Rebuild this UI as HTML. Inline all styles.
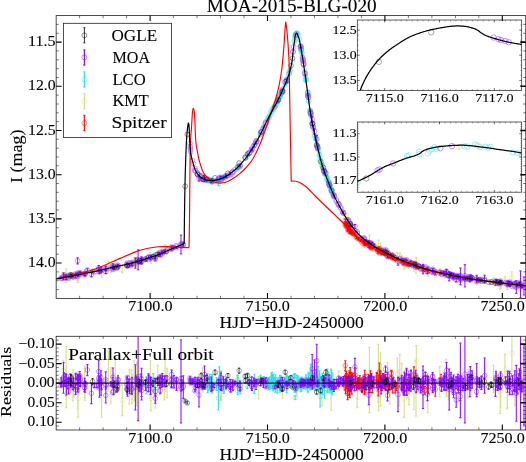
<!DOCTYPE html>
<html><head><meta charset="utf-8"><title>MOA-2015-BLG-020</title>
<style>html,body{margin:0;padding:0;background:#fff;overflow:hidden}svg{display:block;will-change:transform}text{font-family:"Liberation Serif",serif;fill:#000;stroke:#000;stroke-width:0.1px}</style></head><body>
<svg width="526" height="462" viewBox="0 0 526 462">
<rect width="526" height="462" fill="#fff"/>
<defs>
<clipPath id="cm"><rect x="56.15" y="15.6" width="469.6" height="282.8"/></clipPath>
<clipPath id="cr"><rect x="56.15" y="336.3" width="469.6" height="93.7"/></clipPath>
<clipPath id="c1"><rect x="357.3" y="20.0" width="164.4" height="70.5"/></clipPath>
<clipPath id="c2"><rect x="357.3" y="122.0" width="164.4" height="70.2"/></clipPath>
</defs>
<g clip-path="url(#cm)">
<path d="M63.3 272.5V277.1M62.1 272.5h2.4M62.1 277.1h2.4M66.1 268.8V280.1M64.9 268.8h2.4M64.9 280.1h2.4M66.2 273.4V282.6M65.0 273.4h2.4M65.0 282.6h2.4M72.9 272.7V279.7M71.7 272.7h2.4M71.7 279.7h2.4M73.4 274.1V278.9M72.2 274.1h2.4M72.2 278.9h2.4M73.5 275.1V278.5M72.3 275.1h2.4M72.3 278.5h2.4M77.7 272.2V280.5M76.5 272.2h2.4M76.5 280.5h2.4M78.1 274.0V282.4M76.9 274.0h2.4M76.9 282.4h2.4M84.6 270.1V276.7M83.4 270.1h2.4M83.4 276.7h2.4M85.0 269.6V277.2M83.8 269.6h2.4M83.8 277.2h2.4M101.6 269.7V277.7M100.4 269.7h2.4M100.4 277.7h2.4M108.4 261.1V270.2M107.2 261.1h2.4M107.2 270.2h2.4M111.0 264.3V272.3M109.8 264.3h2.4M109.8 272.3h2.4M115.2 261.1V269.0M114.0 261.1h2.4M114.0 269.0h2.4M122.2 265.7V272.7M121.0 265.7h2.4M121.0 272.7h2.4M129.3 260.6V268.5M128.1 260.6h2.4M128.1 268.5h2.4M129.7 261.0V265.7M128.5 261.0h2.4M128.5 265.7h2.4M129.9 262.6V266.5M128.7 262.6h2.4M128.7 266.5h2.4M131.8 260.1V265.6M130.6 260.1h2.4M130.6 265.6h2.4M131.9 261.2V267.7M130.7 261.2h2.4M130.7 267.7h2.4M132.0 263.1V266.7M130.8 263.1h2.4M130.8 266.7h2.4M134.1 257.3V265.3M132.9 257.3h2.4M132.9 265.3h2.4M134.4 261.2V266.5M133.2 261.2h2.4M133.2 266.5h2.4M134.6 260.7V265.4M133.4 260.7h2.4M133.4 265.4h2.4M136.5 260.7V267.0M135.3 260.7h2.4M135.3 267.0h2.4M136.8 257.0V262.0M135.6 257.0h2.4M135.6 262.0h2.4M150.4 252.3V260.8M149.2 252.3h2.4M149.2 260.8h2.4M150.9 256.5V263.4M149.7 256.5h2.4M149.7 263.4h2.4M150.9 257.4V261.2M149.7 257.4h2.4M149.7 261.2h2.4M155.3 254.8V261.3M154.1 254.8h2.4M154.1 261.3h2.4M157.7 250.8V256.4M156.5 250.8h2.4M156.5 256.4h2.4M164.3 250.6V256.0M163.1 250.6h2.4M163.1 256.0h2.4M165.1 244.9V253.8M163.9 244.9h2.4M163.9 253.8h2.4M167.1 247.6V254.3M165.9 247.6h2.4M165.9 254.3h2.4M171.5 246.0V249.8M170.3 246.0h2.4M170.3 249.8h2.4M202.7 175.1V180.6M201.5 175.1h2.4M201.5 180.6h2.4M220.7 176.7V182.8M219.5 176.7h2.4M219.5 182.8h2.4M221.4 177.8V182.4M220.2 177.8h2.4M220.2 182.4h2.4M223.8 177.2V179.7M222.6 177.2h2.4M222.6 179.7h2.4M237.3 165.8V169.2M236.1 165.8h2.4M236.1 169.2h2.4M258.7 136.1V141.1M257.5 136.1h2.4M257.5 141.1h2.4M282.5 90.5V93.7M281.3 90.5h2.4M281.3 93.7h2.4M310.5 110.6V114.8M309.3 110.6h2.4M309.3 114.8h2.4M322.0 164.8V169.4M320.8 164.8h2.4M320.8 169.4h2.4M331.1 185.8V195.2M329.9 185.8h2.4M329.9 195.2h2.4M334.0 194.6V197.2M332.8 194.6h2.4M332.8 197.2h2.4M338.7 202.0V206.3M337.5 202.0h2.4M337.5 206.3h2.4M345.6 213.7V219.8M344.4 213.7h2.4M344.4 219.8h2.4M345.9 213.5V217.0M344.7 213.5h2.4M344.7 217.0h2.4M350.6 221.4V226.4M349.4 221.4h2.4M349.4 226.4h2.4M357.1 229.3V238.2M355.9 229.3h2.4M355.9 238.2h2.4M357.5 231.1V236.7M356.3 231.1h2.4M356.3 236.7h2.4M369.4 235.1V249.8M368.2 235.1h2.4M368.2 249.8h2.4M378.2 245.8V250.5M377.0 245.8h2.4M377.0 250.5h2.4M378.4 240.1V253.2M377.2 240.1h2.4M377.2 253.2h2.4M378.6 248.9V255.3M377.4 248.9h2.4M377.4 255.3h2.4M380.5 243.2V255.3M379.3 243.2h2.4M379.3 255.3h2.4M380.7 247.7V252.5M379.5 247.7h2.4M379.5 252.5h2.4M381.1 246.2V252.2M379.9 246.2h2.4M379.9 252.2h2.4M387.7 249.2V252.4M386.5 249.2h2.4M386.5 252.4h2.4M389.9 253.9V259.6M388.7 253.9h2.4M388.7 259.6h2.4M397.3 252.7V259.9M396.1 252.7h2.4M396.1 259.9h2.4M399.2 256.4V264.4M398.0 256.4h2.4M398.0 264.4h2.4M399.8 253.0V260.6M398.6 253.0h2.4M398.6 260.6h2.4M401.8 255.9V262.4M400.6 255.9h2.4M400.6 262.4h2.4M404.2 260.9V269.1M403.0 260.9h2.4M403.0 269.1h2.4M404.6 258.8V262.8M403.4 258.8h2.4M403.4 262.8h2.4M406.9 259.4V265.8M405.7 259.4h2.4M405.7 265.8h2.4M408.9 261.2V268.1M407.7 261.2h2.4M407.7 268.1h2.4M409.0 260.6V266.9M407.8 260.6h2.4M407.8 266.9h2.4M409.3 261.7V265.1M408.1 261.7h2.4M408.1 265.1h2.4M414.0 262.8V271.1M412.8 262.8h2.4M412.8 271.1h2.4M416.0 260.7V273.2M414.8 260.7h2.4M414.8 273.2h2.4M416.3 257.4V264.0M415.1 257.4h2.4M415.1 264.0h2.4M427.8 267.8V276.3M426.6 267.8h2.4M426.6 276.3h2.4M439.7 269.0V275.8M438.5 269.0h2.4M438.5 275.8h2.4M446.3 268.8V277.0M445.1 268.8h2.4M445.1 277.0h2.4M446.4 270.7V277.3M445.2 270.7h2.4M445.2 277.3h2.4M448.5 272.6V278.4M447.3 272.6h2.4M447.3 278.4h2.4M467.9 275.2V281.6M466.7 275.2h2.4M466.7 281.6h2.4M493.5 277.9V284.2M492.3 277.9h2.4M492.3 284.2h2.4M500.2 281.1V289.7M499.0 281.1h2.4M499.0 289.7h2.4M500.6 281.0V288.3M499.4 281.0h2.4M499.4 288.3h2.4M504.9 276.8V284.0M503.7 276.8h2.4M503.7 284.0h2.4M507.3 281.2V289.5M506.1 281.2h2.4M506.1 289.5h2.4M507.4 281.6V289.2M506.2 281.6h2.4M506.2 289.2h2.4M511.9 271.9V283.0M510.7 271.9h2.4M510.7 283.0h2.4M514.9 284.9V289.5M513.7 284.9h2.4M513.7 289.5h2.4M521.6 283.4V289.0M520.4 283.4h2.4M520.4 289.0h2.4M521.6 281.6V288.5M520.4 281.6h2.4M520.4 288.5h2.4M296.5 33.6V35.8M295.3 33.6h2.4M295.3 35.8h2.4" stroke="#d4dd80" stroke-width="1.0" fill="none" opacity="0.9"/>
<g fill="none" stroke="#d4dd80" stroke-width="0.7" opacity="0.55">
<circle cx="63.3" cy="274.8" r="2.4"/><circle cx="66.1" cy="274.4" r="2.4"/><circle cx="66.2" cy="278.0" r="2.4"/><circle cx="72.9" cy="276.2" r="2.4"/><circle cx="73.4" cy="276.5" r="2.4"/><circle cx="73.5" cy="276.8" r="2.4"/><circle cx="77.7" cy="276.3" r="2.4"/><circle cx="78.1" cy="278.2" r="2.4"/><circle cx="84.6" cy="273.4" r="2.4"/><circle cx="85.0" cy="273.4" r="2.4"/><circle cx="101.6" cy="273.7" r="2.4"/><circle cx="108.4" cy="265.6" r="2.4"/><circle cx="111.0" cy="268.3" r="2.4"/><circle cx="115.2" cy="265.0" r="2.4"/><circle cx="122.2" cy="269.2" r="2.4"/><circle cx="129.3" cy="264.5" r="2.4"/><circle cx="129.7" cy="263.3" r="2.4"/><circle cx="129.9" cy="264.5" r="2.4"/><circle cx="131.8" cy="262.8" r="2.4"/><circle cx="131.9" cy="264.5" r="2.4"/><circle cx="132.0" cy="264.9" r="2.4"/><circle cx="134.1" cy="261.3" r="2.4"/><circle cx="134.4" cy="263.8" r="2.4"/><circle cx="134.6" cy="263.0" r="2.4"/><circle cx="136.5" cy="263.8" r="2.4"/><circle cx="136.8" cy="259.5" r="2.4"/><circle cx="150.4" cy="256.5" r="2.4"/><circle cx="150.9" cy="260.0" r="2.4"/><circle cx="150.9" cy="259.3" r="2.4"/><circle cx="155.3" cy="258.1" r="2.4"/><circle cx="157.7" cy="253.6" r="2.4"/><circle cx="164.3" cy="253.3" r="2.4"/><circle cx="165.1" cy="249.4" r="2.4"/><circle cx="167.1" cy="250.9" r="2.4"/><circle cx="171.5" cy="247.9" r="2.4"/><circle cx="202.7" cy="177.9" r="2.4"/><circle cx="220.7" cy="179.8" r="2.4"/><circle cx="221.4" cy="180.1" r="2.4"/><circle cx="223.8" cy="178.4" r="2.4"/><circle cx="237.3" cy="167.5" r="2.4"/><circle cx="258.7" cy="138.6" r="2.4"/><circle cx="282.5" cy="92.1" r="2.4"/><circle cx="310.5" cy="112.7" r="2.4"/><circle cx="322.0" cy="167.1" r="2.4"/><circle cx="331.1" cy="190.5" r="2.4"/><circle cx="334.0" cy="195.9" r="2.4"/><circle cx="338.7" cy="204.2" r="2.4"/><circle cx="345.6" cy="216.8" r="2.4"/><circle cx="345.9" cy="215.3" r="2.4"/><circle cx="350.6" cy="223.9" r="2.4"/><circle cx="357.1" cy="233.7" r="2.4"/><circle cx="357.5" cy="233.9" r="2.4"/><circle cx="369.4" cy="242.4" r="2.4"/><circle cx="378.2" cy="248.2" r="2.4"/><circle cx="378.4" cy="246.7" r="2.4"/><circle cx="378.6" cy="252.1" r="2.4"/><circle cx="380.5" cy="249.3" r="2.4"/><circle cx="380.7" cy="250.1" r="2.4"/><circle cx="381.1" cy="249.2" r="2.4"/><circle cx="387.7" cy="250.8" r="2.4"/><circle cx="389.9" cy="256.8" r="2.4"/><circle cx="397.3" cy="256.3" r="2.4"/><circle cx="399.2" cy="260.4" r="2.4"/><circle cx="399.8" cy="256.8" r="2.4"/><circle cx="401.8" cy="259.2" r="2.4"/><circle cx="404.2" cy="265.0" r="2.4"/><circle cx="404.6" cy="260.8" r="2.4"/><circle cx="406.9" cy="262.6" r="2.4"/><circle cx="408.9" cy="264.6" r="2.4"/><circle cx="409.0" cy="263.8" r="2.4"/><circle cx="409.3" cy="263.4" r="2.4"/><circle cx="414.0" cy="266.9" r="2.4"/><circle cx="416.0" cy="266.9" r="2.4"/><circle cx="416.3" cy="260.7" r="2.4"/><circle cx="427.8" cy="272.0" r="2.4"/><circle cx="439.7" cy="272.4" r="2.4"/><circle cx="446.3" cy="272.9" r="2.4"/><circle cx="446.4" cy="274.0" r="2.4"/><circle cx="448.5" cy="275.5" r="2.4"/><circle cx="467.9" cy="278.4" r="2.4"/><circle cx="493.5" cy="281.1" r="2.4"/><circle cx="500.2" cy="285.4" r="2.4"/><circle cx="500.6" cy="284.7" r="2.4"/><circle cx="504.9" cy="280.4" r="2.4"/><circle cx="507.3" cy="285.3" r="2.4"/><circle cx="507.4" cy="285.4" r="2.4"/><circle cx="511.9" cy="277.4" r="2.4"/><circle cx="514.9" cy="287.2" r="2.4"/><circle cx="521.6" cy="286.2" r="2.4"/><circle cx="521.6" cy="285.1" r="2.4"/><circle cx="296.5" cy="34.7" r="2.4"/>
</g></g>
<g clip-path="url(#cm)">
<path d="M146.2 257.4V261.2M145.0 257.4h2.4M145.0 261.2h2.4M150.9 255.9V258.8M149.7 255.9h2.4M149.7 258.8h2.4M153.1 255.3V258.4M151.9 255.3h2.4M151.9 258.4h2.4M153.2 254.3V258.0M152.0 254.3h2.4M152.0 258.0h2.4M207.3 179.4V181.5M206.1 179.4h2.4M206.1 181.5h2.4M207.4 178.1V180.9M206.2 178.1h2.4M206.2 180.9h2.4M207.6 179.3V182.3M206.4 179.3h2.4M206.4 182.3h2.4M209.0 179.7V182.1M207.8 179.7h2.4M207.8 182.1h2.4M209.6 179.1V181.0M208.4 179.1h2.4M208.4 181.0h2.4M209.8 179.7V181.7M208.6 179.7h2.4M208.6 181.7h2.4M209.8 178.4V181.2M208.6 178.4h2.4M208.6 181.2h2.4M211.5 179.6V182.6M210.3 179.6h2.4M210.3 182.6h2.4M211.5 179.5V182.4M210.3 179.5h2.4M210.3 182.4h2.4M211.9 178.7V181.3M210.7 178.7h2.4M210.7 181.3h2.4M212.2 180.5V182.9M211.0 180.5h2.4M211.0 182.9h2.4M212.4 178.7V182.0M211.2 178.7h2.4M211.2 182.0h2.4M216.5 178.8V181.5M215.3 178.8h2.4M215.3 181.5h2.4M216.8 179.7V181.7M215.6 179.7h2.4M215.6 181.7h2.4M218.5 180.3V185.6M217.3 180.3h2.4M217.3 185.6h2.4M218.8 178.5V181.5M217.6 178.5h2.4M217.6 181.5h2.4M219.4 175.6V178.4M218.2 175.6h2.4M218.2 178.4h2.4M221.0 176.1V178.9M219.8 176.1h2.4M219.8 178.9h2.4M221.6 177.3V178.9M220.4 177.3h2.4M220.4 178.9h2.4M221.6 177.8V179.7M220.4 177.8h2.4M220.4 179.7h2.4M223.5 176.9V179.3M222.3 176.9h2.4M222.3 179.3h2.4M223.8 177.9V179.8M222.6 177.9h2.4M222.6 179.8h2.4M226.4 174.7V177.1M225.2 174.7h2.4M225.2 177.1h2.4M237.7 168.2V169.9M236.5 168.2h2.4M236.5 169.9h2.4M237.7 165.6V167.4M236.5 165.6h2.4M236.5 167.4h2.4M237.7 165.4V168.1M236.5 165.4h2.4M236.5 168.1h2.4M237.8 166.0V168.2M236.6 166.0h2.4M236.6 168.2h2.4M240.2 164.7V167.1M239.0 164.7h2.4M239.0 167.1h2.4M247.2 155.8V157.4M246.0 155.8h2.4M246.0 157.4h2.4M247.6 153.7V155.5M246.4 153.7h2.4M246.4 155.5h2.4M254.3 143.2V147.6M253.1 143.2h2.4M253.1 147.6h2.4M260.6 132.1V133.5M259.4 132.1h2.4M259.4 133.5h2.4M263.8 125.9V127.6M262.6 125.9h2.4M262.6 127.6h2.4M267.6 118.6V120.3M266.4 118.6h2.4M266.4 120.3h2.4M268.4 117.4V119.1M267.2 117.4h2.4M267.2 119.1h2.4M268.5 117.1V118.7M267.3 117.1h2.4M267.3 118.7h2.4M268.6 116.2V118.5M267.4 116.2h2.4M267.4 118.5h2.4M268.9 116.7V118.5M267.7 116.7h2.4M267.7 118.5h2.4M268.9 116.1V118.1M267.7 116.1h2.4M267.7 118.1h2.4M270.0 114.3V116.1M268.8 114.3h2.4M268.8 116.1h2.4M270.8 112.7V114.6M269.6 112.7h2.4M269.6 114.6h2.4M271.2 111.5V113.4M270.0 111.5h2.4M270.0 113.4h2.4M271.2 110.3V112.5M270.0 110.3h2.4M270.0 112.5h2.4M272.3 108.1V110.2M271.1 108.1h2.4M271.1 110.2h2.4M272.8 108.9V110.9M271.6 108.9h2.4M271.6 110.9h2.4M273.0 109.3V111.0M271.8 109.3h2.4M271.8 111.0h2.4M273.0 109.2V110.7M271.8 109.2h2.4M271.8 110.7h2.4M273.4 106.6V108.8M272.2 106.6h2.4M272.2 108.8h2.4M274.8 105.0V106.7M273.6 105.0h2.4M273.6 106.7h2.4M275.0 104.3V106.5M273.8 104.3h2.4M273.8 106.5h2.4M275.3 105.0V107.0M274.1 105.0h2.4M274.1 107.0h2.4M275.6 102.7V104.8M274.4 102.7h2.4M274.4 104.8h2.4M275.7 104.2V105.6M274.5 104.2h2.4M274.5 105.6h2.4M275.8 102.8V105.0M274.6 102.8h2.4M274.6 105.0h2.4M277.2 101.9V103.8M276.0 101.9h2.4M276.0 103.8h2.4M277.3 100.8V102.6M276.1 100.8h2.4M276.1 102.6h2.4M277.6 100.1V101.7M276.4 100.1h2.4M276.4 101.7h2.4M278.2 98.5V100.2M277.0 98.5h2.4M277.0 100.2h2.4M279.5 96.5V98.1M278.3 96.5h2.4M278.3 98.1h2.4M279.8 96.4V98.2M278.6 96.4h2.4M278.6 98.2h2.4M280.1 93.9V95.5M278.9 93.9h2.4M278.9 95.5h2.4M280.2 94.2V96.3M279.0 94.2h2.4M279.0 96.3h2.4M280.7 93.3V95.1M279.5 93.3h2.4M279.5 95.1h2.4M280.7 92.6V94.6M279.5 92.6h2.4M279.5 94.6h2.4M282.2 90.6V92.3M281.0 90.6h2.4M281.0 92.3h2.4M282.7 89.7V91.5M281.5 89.7h2.4M281.5 91.5h2.4M284.6 84.7V86.1M283.4 84.7h2.4M283.4 86.1h2.4M285.4 82.7V84.7M284.2 82.7h2.4M284.2 84.7h2.4M286.7 79.7V81.3M285.5 79.7h2.4M285.5 81.3h2.4M286.7 80.7V82.7M285.5 80.7h2.4M285.5 82.7h2.4M286.7 78.9V80.7M285.5 78.9h2.4M285.5 80.7h2.4M287.0 78.0V79.9M285.8 78.0h2.4M285.8 79.9h2.4M289.7 70.4V72.0M288.5 70.4h2.4M288.5 72.0h2.4M290.1 69.2V71.2M288.9 69.2h2.4M288.9 71.2h2.4M300.7 46.0V47.6M299.5 46.0h2.4M299.5 47.6h2.4M301.7 51.0V52.6M300.5 51.0h2.4M300.5 52.6h2.4M301.7 52.1V53.7M300.5 52.1h2.4M300.5 53.7h2.4M305.4 75.8V77.7M304.2 75.8h2.4M304.2 77.7h2.4M305.8 78.9V80.7M304.6 78.9h2.4M304.6 80.7h2.4M305.9 78.1V80.0M304.7 78.1h2.4M304.7 80.0h2.4M305.9 79.1V81.1M304.7 79.1h2.4M304.7 81.1h2.4M305.9 79.1V80.9M304.7 79.1h2.4M304.7 80.9h2.4M307.6 91.0V92.9M306.4 91.0h2.4M306.4 92.9h2.4M307.8 93.9V95.4M306.6 93.9h2.4M306.6 95.4h2.4M307.8 93.8V95.8M306.6 93.8h2.4M306.6 95.8h2.4M308.2 94.6V96.4M307.0 94.6h2.4M307.0 96.4h2.4M308.8 99.9V101.9M307.6 99.9h2.4M307.6 101.9h2.4M310.0 109.4V111.5M308.8 109.4h2.4M308.8 111.5h2.4M310.2 109.3V111.1M309.0 109.3h2.4M309.0 111.1h2.4M310.8 110.8V114.6M309.6 110.8h2.4M309.6 114.6h2.4M310.9 112.5V114.2M309.7 112.5h2.4M309.7 114.2h2.4M310.9 114.6V116.3M309.7 114.6h2.4M309.7 116.3h2.4M310.9 114.6V116.6M309.7 114.6h2.4M309.7 116.6h2.4M312.3 122.5V124.1M311.1 122.5h2.4M311.1 124.1h2.4M314.8 134.7V137.1M313.6 134.7h2.4M313.6 137.1h2.4M315.1 135.1V136.8M313.9 135.1h2.4M313.9 136.8h2.4M315.3 137.6V139.3M314.1 137.6h2.4M314.1 139.3h2.4M315.9 137.1V140.6M314.7 137.1h2.4M314.7 140.6h2.4M316.9 143.0V145.5M315.7 143.0h2.4M315.7 145.5h2.4M317.4 145.8V147.9M316.2 145.8h2.4M316.2 147.9h2.4M317.8 147.7V149.2M316.6 147.7h2.4M316.6 149.2h2.4M318.0 145.4V150.9M316.8 145.4h2.4M316.8 150.9h2.4M318.2 149.0V150.9M317.0 149.0h2.4M317.0 150.9h2.4M319.5 152.3V156.3M318.3 152.3h2.4M318.3 156.3h2.4M319.6 153.6V155.9M318.4 153.6h2.4M318.4 155.9h2.4M319.9 155.9V158.2M318.7 155.9h2.4M318.7 158.2h2.4M320.1 158.1V162.9M318.9 158.1h2.4M318.9 162.9h2.4M320.7 158.3V161.0M319.5 158.3h2.4M319.5 161.0h2.4M322.2 163.6V166.0M321.0 163.6h2.4M321.0 166.0h2.4M322.3 164.6V166.2M321.1 164.6h2.4M321.1 166.2h2.4M322.4 163.6V166.3M321.2 163.6h2.4M321.2 166.3h2.4M322.6 164.9V167.3M321.4 164.9h2.4M321.4 167.3h2.4M322.7 167.4V169.1M321.5 167.4h2.4M321.5 169.1h2.4M324.1 170.0V172.1M322.9 170.0h2.4M322.9 172.1h2.4M324.2 169.7V171.3M323.0 169.7h2.4M323.0 171.3h2.4M324.6 172.9V175.7M323.4 172.9h2.4M323.4 175.7h2.4M326.7 176.0V178.6M325.5 176.0h2.4M325.5 178.6h2.4M327.0 175.6V178.6M325.8 175.6h2.4M325.8 178.6h2.4M327.3 178.7V180.4M326.1 178.7h2.4M326.1 180.4h2.4M327.3 176.2V178.5M326.1 176.2h2.4M326.1 178.5h2.4M327.3 176.9V179.1M326.1 176.9h2.4M326.1 179.1h2.4M327.4 178.9V181.4M326.2 178.9h2.4M326.2 181.4h2.4M327.4 177.6V180.1M326.2 177.6h2.4M326.2 180.1h2.4M327.4 177.9V180.7M326.2 177.9h2.4M326.2 180.7h2.4M327.5 177.4V179.4M326.3 177.4h2.4M326.3 179.4h2.4M327.5 179.4V182.1M326.3 179.4h2.4M326.3 182.1h2.4M329.1 182.3V184.5M327.9 182.3h2.4M327.9 184.5h2.4M329.3 182.7V185.3M328.1 182.7h2.4M328.1 185.3h2.4M329.5 184.1V186.3M328.3 184.1h2.4M328.3 186.3h2.4M329.8 184.9V187.6M328.6 184.9h2.4M328.6 187.6h2.4M329.8 186.0V188.0M328.6 186.0h2.4M328.6 188.0h2.4M331.1 188.8V190.6M329.9 188.8h2.4M329.9 190.6h2.4M331.3 186.4V188.3M330.1 186.4h2.4M330.1 188.3h2.4M331.8 188.8V191.3M330.6 188.8h2.4M330.6 191.3h2.4M331.9 190.3V193.0M330.7 190.3h2.4M330.7 193.0h2.4M332.0 188.7V191.3M330.8 188.7h2.4M330.8 191.3h2.4M332.4 192.4V194.5M331.2 192.4h2.4M331.2 194.5h2.4" stroke="#2adddd" stroke-width="1.0" fill="none" opacity="0.9"/>
<g fill="none" stroke="#2adddd" stroke-width="0.7" opacity="0.55">
<circle cx="146.2" cy="259.3" r="2.4"/><circle cx="150.9" cy="257.3" r="2.4"/><circle cx="153.1" cy="256.9" r="2.4"/><circle cx="153.2" cy="256.2" r="2.4"/><circle cx="207.3" cy="180.5" r="2.4"/><circle cx="207.4" cy="179.5" r="2.4"/><circle cx="207.6" cy="180.8" r="2.4"/><circle cx="209.0" cy="180.9" r="2.4"/><circle cx="209.6" cy="180.1" r="2.4"/><circle cx="209.8" cy="180.7" r="2.4"/><circle cx="209.8" cy="179.8" r="2.4"/><circle cx="211.5" cy="181.1" r="2.4"/><circle cx="211.5" cy="181.0" r="2.4"/><circle cx="211.9" cy="180.0" r="2.4"/><circle cx="212.2" cy="181.7" r="2.4"/><circle cx="212.4" cy="180.3" r="2.4"/><circle cx="216.5" cy="180.1" r="2.4"/><circle cx="216.8" cy="180.7" r="2.4"/><circle cx="218.5" cy="182.9" r="2.4"/><circle cx="218.8" cy="180.0" r="2.4"/><circle cx="219.4" cy="177.0" r="2.4"/><circle cx="221.0" cy="177.5" r="2.4"/><circle cx="221.6" cy="178.1" r="2.4"/><circle cx="221.6" cy="178.7" r="2.4"/><circle cx="223.5" cy="178.1" r="2.4"/><circle cx="223.8" cy="178.9" r="2.4"/><circle cx="226.4" cy="175.9" r="2.4"/><circle cx="237.7" cy="169.0" r="2.4"/><circle cx="237.7" cy="166.5" r="2.4"/><circle cx="237.7" cy="166.8" r="2.4"/><circle cx="237.8" cy="167.1" r="2.4"/><circle cx="240.2" cy="165.9" r="2.4"/><circle cx="247.2" cy="156.6" r="2.4"/><circle cx="247.6" cy="154.6" r="2.4"/><circle cx="254.3" cy="145.4" r="2.4"/><circle cx="260.6" cy="132.8" r="2.4"/><circle cx="263.8" cy="126.8" r="2.4"/><circle cx="267.6" cy="119.5" r="2.4"/><circle cx="268.4" cy="118.3" r="2.4"/><circle cx="268.5" cy="117.9" r="2.4"/><circle cx="268.6" cy="117.9" r="2.4"/><circle cx="268.6" cy="117.3" r="2.4"/><circle cx="268.9" cy="117.6" r="2.4"/><circle cx="268.9" cy="117.1" r="2.4"/><circle cx="269.0" cy="116.4" r="2.4"/><circle cx="270.0" cy="115.2" r="2.4"/><circle cx="270.8" cy="113.6" r="2.4"/><circle cx="271.2" cy="112.5" r="2.4"/><circle cx="271.2" cy="111.4" r="2.4"/><circle cx="272.3" cy="109.2" r="2.4"/><circle cx="272.8" cy="109.9" r="2.4"/><circle cx="273.0" cy="110.1" r="2.4"/><circle cx="273.0" cy="110.0" r="2.4"/><circle cx="273.4" cy="107.7" r="2.4"/><circle cx="273.5" cy="107.8" r="2.4"/><circle cx="273.6" cy="107.7" r="2.4"/><circle cx="274.8" cy="105.8" r="2.4"/><circle cx="275.0" cy="105.4" r="2.4"/><circle cx="275.3" cy="106.0" r="2.4"/><circle cx="275.6" cy="103.8" r="2.4"/><circle cx="275.6" cy="104.8" r="2.4"/><circle cx="275.7" cy="104.9" r="2.4"/><circle cx="275.8" cy="103.9" r="2.4"/><circle cx="277.2" cy="102.9" r="2.4"/><circle cx="277.3" cy="101.7" r="2.4"/><circle cx="277.5" cy="101.2" r="2.4"/><circle cx="277.6" cy="100.9" r="2.4"/><circle cx="278.2" cy="99.3" r="2.4"/><circle cx="279.5" cy="97.3" r="2.4"/><circle cx="279.8" cy="97.3" r="2.4"/><circle cx="280.1" cy="94.7" r="2.4"/><circle cx="280.2" cy="95.2" r="2.4"/><circle cx="280.4" cy="94.5" r="2.4"/><circle cx="280.7" cy="94.2" r="2.4"/><circle cx="280.7" cy="93.6" r="2.4"/><circle cx="282.2" cy="91.4" r="2.4"/><circle cx="282.7" cy="90.6" r="2.4"/><circle cx="284.6" cy="85.4" r="2.4"/><circle cx="285.4" cy="83.7" r="2.4"/><circle cx="286.7" cy="80.5" r="2.4"/><circle cx="286.7" cy="79.5" r="2.4"/><circle cx="286.7" cy="81.7" r="2.4"/><circle cx="286.7" cy="79.8" r="2.4"/><circle cx="286.8" cy="79.2" r="2.4"/><circle cx="287.0" cy="79.0" r="2.4"/><circle cx="287.1" cy="79.6" r="2.4"/><circle cx="289.1" cy="73.0" r="2.4"/><circle cx="289.7" cy="71.2" r="2.4"/><circle cx="289.9" cy="71.1" r="2.4"/><circle cx="290.1" cy="70.2" r="2.4"/><circle cx="300.7" cy="46.8" r="2.4"/><circle cx="300.9" cy="48.7" r="2.4"/><circle cx="301.0" cy="50.1" r="2.4"/><circle cx="301.0" cy="48.9" r="2.4"/><circle cx="301.1" cy="50.4" r="2.4"/><circle cx="301.5" cy="52.1" r="2.4"/><circle cx="301.7" cy="51.8" r="2.4"/><circle cx="301.7" cy="52.9" r="2.4"/><circle cx="301.9" cy="53.4" r="2.4"/><circle cx="303.5" cy="63.4" r="2.4"/><circle cx="304.1" cy="68.5" r="2.4"/><circle cx="305.4" cy="76.8" r="2.4"/><circle cx="305.5" cy="77.5" r="2.4"/><circle cx="305.8" cy="79.8" r="2.4"/><circle cx="305.9" cy="80.6" r="2.4"/><circle cx="305.9" cy="79.0" r="2.4"/><circle cx="305.9" cy="80.1" r="2.4"/><circle cx="305.9" cy="80.0" r="2.4"/><circle cx="307.6" cy="91.9" r="2.4"/><circle cx="307.8" cy="94.7" r="2.4"/><circle cx="307.8" cy="94.8" r="2.4"/><circle cx="308.2" cy="95.5" r="2.4"/><circle cx="308.7" cy="101.1" r="2.4"/><circle cx="308.8" cy="100.9" r="2.4"/><circle cx="310.0" cy="110.4" r="2.4"/><circle cx="310.2" cy="110.2" r="2.4"/><circle cx="310.8" cy="112.7" r="2.4"/><circle cx="310.9" cy="113.4" r="2.4"/><circle cx="310.9" cy="115.4" r="2.4"/><circle cx="310.9" cy="115.6" r="2.4"/><circle cx="312.3" cy="123.3" r="2.4"/><circle cx="312.8" cy="126.5" r="2.4"/><circle cx="313.4" cy="128.3" r="2.4"/><circle cx="314.8" cy="135.6" r="2.4"/><circle cx="314.8" cy="135.9" r="2.4"/><circle cx="315.1" cy="135.9" r="2.4"/><circle cx="315.3" cy="138.5" r="2.4"/><circle cx="315.8" cy="139.3" r="2.4"/><circle cx="315.9" cy="138.9" r="2.4"/><circle cx="316.9" cy="144.2" r="2.4"/><circle cx="317.4" cy="146.8" r="2.4"/><circle cx="317.8" cy="148.5" r="2.4"/><circle cx="318.0" cy="148.1" r="2.4"/><circle cx="318.2" cy="150.0" r="2.4"/><circle cx="319.5" cy="154.3" r="2.4"/><circle cx="319.6" cy="154.8" r="2.4"/><circle cx="319.9" cy="157.1" r="2.4"/><circle cx="320.1" cy="160.5" r="2.4"/><circle cx="320.7" cy="159.6" r="2.4"/><circle cx="322.2" cy="164.8" r="2.4"/><circle cx="322.3" cy="165.4" r="2.4"/><circle cx="322.4" cy="164.9" r="2.4"/><circle cx="322.6" cy="166.1" r="2.4"/><circle cx="322.7" cy="168.2" r="2.4"/><circle cx="324.1" cy="171.1" r="2.4"/><circle cx="324.2" cy="170.5" r="2.4"/><circle cx="324.6" cy="174.3" r="2.4"/><circle cx="326.7" cy="177.3" r="2.4"/><circle cx="327.0" cy="177.1" r="2.4"/><circle cx="327.3" cy="179.6" r="2.4"/><circle cx="327.3" cy="177.4" r="2.4"/><circle cx="327.3" cy="178.0" r="2.4"/><circle cx="327.4" cy="180.1" r="2.4"/><circle cx="327.4" cy="178.8" r="2.4"/><circle cx="327.4" cy="179.3" r="2.4"/><circle cx="327.5" cy="178.4" r="2.4"/><circle cx="327.5" cy="180.8" r="2.4"/><circle cx="329.1" cy="183.4" r="2.4"/><circle cx="329.3" cy="184.0" r="2.4"/><circle cx="329.5" cy="185.2" r="2.4"/><circle cx="329.8" cy="186.2" r="2.4"/><circle cx="329.8" cy="187.0" r="2.4"/><circle cx="331.1" cy="189.7" r="2.4"/><circle cx="331.3" cy="187.4" r="2.4"/><circle cx="331.8" cy="190.1" r="2.4"/><circle cx="331.9" cy="191.6" r="2.4"/><circle cx="332.0" cy="190.0" r="2.4"/><circle cx="332.4" cy="193.5" r="2.4"/><circle cx="292.2" cy="60.9" r="2.4"/><circle cx="294.3" cy="41.3" r="2.4"/><circle cx="294.4" cy="40.8" r="2.4"/><circle cx="294.8" cy="38.0" r="2.4"/><circle cx="294.8" cy="39.9" r="2.4"/><circle cx="295.2" cy="39.3" r="2.4"/><circle cx="295.2" cy="37.4" r="2.4"/><circle cx="295.4" cy="36.0" r="2.4"/><circle cx="295.5" cy="34.7" r="2.4"/><circle cx="295.5" cy="36.0" r="2.4"/><circle cx="296.7" cy="34.0" r="2.4"/><circle cx="296.9" cy="34.0" r="2.4"/><circle cx="297.2" cy="32.5" r="2.4"/><circle cx="297.3" cy="33.4" r="2.4"/><circle cx="297.4" cy="34.3" r="2.4"/><circle cx="297.6" cy="34.3" r="2.4"/><circle cx="297.7" cy="35.1" r="2.4"/><circle cx="297.9" cy="34.3" r="2.4"/><circle cx="298.8" cy="38.6" r="2.4"/><circle cx="299.0" cy="39.0" r="2.4"/><circle cx="299.2" cy="39.5" r="2.4"/>
</g></g>
<g clip-path="url(#cm)">
<path d="M61.1 276.9V278.7M59.9 276.9h2.4M59.9 278.7h2.4M64.0 275.1V276.8M62.8 275.1h2.4M62.8 276.8h2.4M65.8 275.0V277.3M64.6 275.0h2.4M64.6 277.3h2.4M66.3 275.1V279.7M65.1 275.1h2.4M65.1 279.7h2.4M70.9 274.5V276.6M69.7 274.5h2.4M69.7 276.6h2.4M71.1 275.0V276.7M69.9 275.0h2.4M69.9 276.7h2.4M73.5 274.4V276.7M72.3 274.4h2.4M72.3 276.7h2.4M75.5 275.6V277.8M74.3 275.6h2.4M74.3 277.8h2.4M75.7 273.0V274.4M74.5 273.0h2.4M74.5 274.4h2.4M77.6 273.7V275.2M76.4 273.7h2.4M76.4 275.2h2.4M77.9 272.8V276.3M76.7 272.8h2.4M76.7 276.3h2.4M78.2 273.8V275.9M77.0 273.8h2.4M77.0 275.9h2.4M79.8 271.7V273.6M78.6 271.7h2.4M78.6 273.6h2.4M80.2 272.7V274.3M79.0 272.7h2.4M79.0 274.3h2.4M80.2 273.3V274.8M79.0 273.3h2.4M79.0 274.8h2.4M80.4 272.4V274.1M79.2 272.4h2.4M79.2 274.1h2.4M84.5 273.6V275.4M83.3 273.6h2.4M83.3 275.4h2.4M84.7 272.3V274.9M83.5 272.3h2.4M83.5 274.9h2.4M85.0 273.5V275.4M83.8 273.5h2.4M83.8 275.4h2.4M87.4 268.7V271.2M86.2 268.7h2.4M86.2 271.2h2.4M99.1 269.0V271.1M97.9 269.0h2.4M97.9 271.1h2.4M99.1 269.0V271.6M97.9 269.0h2.4M97.9 271.6h2.4M99.4 269.5V273.7M98.2 269.5h2.4M98.2 273.7h2.4M101.0 267.3V272.8M99.8 267.3h2.4M99.8 272.8h2.4M101.5 270.0V271.5M100.3 270.0h2.4M100.3 271.5h2.4M105.7 268.3V270.4M104.5 268.3h2.4M104.5 270.4h2.4M105.7 266.4V270.0M104.5 266.4h2.4M104.5 270.0h2.4M105.8 270.0V273.5M104.6 270.0h2.4M104.6 273.5h2.4M112.8 266.1V268.3M111.6 266.1h2.4M111.6 268.3h2.4M113.4 268.3V269.8M112.2 268.3h2.4M112.2 269.8h2.4M117.4 266.0V267.8M116.2 266.0h2.4M116.2 267.8h2.4M117.6 266.4V267.9M116.4 266.4h2.4M116.4 267.9h2.4M118.0 264.5V266.2M116.8 264.5h2.4M116.8 266.2h2.4M126.9 263.0V264.9M125.7 263.0h2.4M125.7 264.9h2.4M127.0 264.4V266.8M125.8 264.4h2.4M125.8 266.8h2.4M127.5 263.8V267.2M126.3 263.8h2.4M126.3 267.2h2.4M129.5 264.1V266.1M128.3 264.1h2.4M128.3 266.1h2.4M131.7 263.8V265.4M130.5 263.8h2.4M130.5 265.4h2.4M131.9 263.0V265.6M130.7 263.0h2.4M130.7 265.6h2.4M132.0 261.8V263.3M130.8 261.8h2.4M130.8 263.3h2.4M136.7 260.7V262.5M135.5 260.7h2.4M135.5 262.5h2.4M139.1 260.6V263.0M137.9 260.6h2.4M137.9 263.0h2.4M140.9 260.8V262.3M139.7 260.8h2.4M139.7 262.3h2.4M141.2 258.3V260.4M140.0 258.3h2.4M140.0 260.4h2.4M141.6 258.9V261.1M140.4 258.9h2.4M140.4 261.1h2.4M141.6 260.6V263.3M140.4 260.6h2.4M140.4 263.3h2.4M145.6 258.2V260.6M144.4 258.2h2.4M144.4 260.6h2.4M148.5 255.9V258.6M147.3 255.9h2.4M147.3 258.6h2.4M150.5 256.0V259.9M149.3 256.0h2.4M149.3 259.9h2.4M150.8 256.1V257.7M149.6 256.1h2.4M149.6 257.7h2.4M155.3 256.7V258.5M154.1 256.7h2.4M154.1 258.5h2.4M155.3 258.1V260.2M154.1 258.1h2.4M154.1 260.2h2.4M158.0 253.3V255.2M156.8 253.3h2.4M156.8 255.2h2.4M159.9 252.6V254.1M158.7 252.6h2.4M158.7 254.1h2.4M160.2 254.8V256.3M159.0 254.8h2.4M159.0 256.3h2.4M162.0 251.9V254.0M160.8 251.9h2.4M160.8 254.0h2.4M162.3 250.8V252.7M161.1 250.8h2.4M161.1 252.7h2.4M162.7 252.0V253.5M161.5 252.0h2.4M161.5 253.5h2.4M164.9 250.3V252.7M163.7 250.3h2.4M163.7 252.7h2.4M171.5 247.7V250.1M170.3 247.7h2.4M170.3 250.1h2.4M171.7 245.9V248.0M170.5 245.9h2.4M170.5 248.0h2.4M173.9 246.2V249.0M172.7 246.2h2.4M172.7 249.0h2.4M176.5 246.6V248.5M175.3 246.6h2.4M175.3 248.5h2.4M183.3 243.6V245.3M182.1 243.6h2.4M182.1 245.3h2.4M183.3 242.2V247.3M182.1 242.2h2.4M182.1 247.3h2.4M204.7 177.8V180.8M203.5 177.8h2.4M203.5 180.8h2.4M211.3 179.2V182.4M210.1 179.2h2.4M210.1 182.4h2.4M220.9 176.5V178.5M219.7 176.5h2.4M219.7 178.5h2.4M223.4 176.2V178.3M222.2 176.2h2.4M222.2 178.3h2.4M226.0 175.3V177.6M224.8 175.3h2.4M224.8 177.6h2.4M226.1 175.6V177.2M224.9 175.6h2.4M224.9 177.2h2.4M230.1 172.8V174.8M228.9 172.8h2.4M228.9 174.8h2.4M240.1 164.3V166.3M238.9 164.3h2.4M238.9 166.3h2.4M251.6 149.1V150.8M250.4 149.1h2.4M250.4 150.8h2.4M251.7 149.1V150.6M250.5 149.1h2.4M250.5 150.6h2.4M251.9 149.0V150.7M250.7 149.0h2.4M250.7 150.7h2.4M254.0 144.5V146.3M252.8 144.5h2.4M252.8 146.3h2.4M256.0 141.6V143.8M254.8 141.6h2.4M254.8 143.8h2.4M263.5 127.3V129.0M262.3 127.3h2.4M262.3 129.0h2.4M277.7 100.1V101.6M276.5 100.1h2.4M276.5 101.6h2.4M300.6 46.1V47.6M299.4 46.1h2.4M299.4 47.6h2.4M313.0 125.4V126.9M311.8 125.4h2.4M311.8 126.9h2.4M333.8 195.2V196.9M332.6 195.2h2.4M332.6 196.9h2.4M342.9 211.7V213.1M341.7 211.7h2.4M341.7 213.1h2.4M343.1 211.8V213.3M341.9 211.8h2.4M341.9 213.3h2.4M347.7 219.4V221.2M346.5 219.4h2.4M346.5 221.2h2.4M350.3 224.3V226.0M349.1 224.3h2.4M349.1 226.0h2.4M350.5 223.9V225.5M349.3 223.9h2.4M349.3 225.5h2.4M352.6 225.8V227.6M351.4 225.8h2.4M351.4 227.6h2.4M354.9 224.5V228.4M353.7 224.5h2.4M353.7 228.4h2.4M362.1 237.7V239.3M360.9 237.7h2.4M360.9 239.3h2.4M368.7 241.1V244.7M367.5 241.1h2.4M367.5 244.7h2.4M368.8 243.3V247.6M367.6 243.3h2.4M367.6 247.6h2.4M368.9 242.7V244.3M367.7 242.7h2.4M367.7 244.3h2.4M369.1 241.3V244.4M367.9 241.3h2.4M367.9 244.4h2.4M369.2 241.8V244.0M368.0 241.8h2.4M368.0 244.0h2.4M371.2 242.7V244.2M370.0 242.7h2.4M370.0 244.2h2.4M371.3 242.6V245.7M370.1 242.6h2.4M370.1 245.7h2.4M371.3 242.3V245.1M370.1 242.3h2.4M370.1 245.1h2.4M371.3 242.6V244.3M370.1 242.6h2.4M370.1 244.3h2.4M371.4 243.1V244.9M370.2 243.1h2.4M370.2 244.9h2.4M373.8 244.7V247.2M372.6 244.7h2.4M372.6 247.2h2.4M381.1 249.1V252.9M379.9 249.1h2.4M379.9 252.9h2.4M382.7 250.4V252.4M381.5 250.4h2.4M381.5 252.4h2.4M382.8 249.2V250.9M381.6 249.2h2.4M381.6 250.9h2.4M385.3 251.3V253.2M384.1 251.3h2.4M384.1 253.2h2.4M385.5 248.9V250.3M384.3 248.9h2.4M384.3 250.3h2.4M385.8 251.5V254.6M384.6 251.5h2.4M384.6 254.6h2.4M387.5 255.3V257.8M386.3 255.3h2.4M386.3 257.8h2.4M387.7 251.4V253.3M386.5 251.4h2.4M386.5 253.3h2.4M392.7 255.2V256.7M391.5 255.2h2.4M391.5 256.7h2.4M401.7 258.5V260.7M400.5 258.5h2.4M400.5 260.7h2.4M401.8 260.1V261.6M400.6 260.1h2.4M400.6 261.6h2.4M403.8 260.5V262.0M402.6 260.5h2.4M402.6 262.0h2.4M404.2 260.0V261.7M403.0 260.0h2.4M403.0 261.7h2.4M404.4 259.1V261.5M403.2 259.1h2.4M403.2 261.5h2.4M406.5 259.0V260.6M405.3 259.0h2.4M405.3 260.6h2.4M406.6 262.3V264.1M405.4 262.3h2.4M405.4 264.1h2.4M406.9 263.7V265.3M405.7 263.7h2.4M405.7 265.3h2.4M409.1 263.1V264.8M407.9 263.1h2.4M407.9 264.8h2.4M409.1 263.3V264.9M407.9 263.3h2.4M407.9 264.9h2.4M410.9 261.2V265.8M409.7 261.2h2.4M409.7 265.8h2.4M411.0 261.1V263.5M409.8 261.1h2.4M409.8 263.5h2.4M413.7 263.8V266.1M412.5 263.8h2.4M412.5 266.1h2.4M415.7 262.8V265.1M414.5 262.8h2.4M414.5 265.1h2.4M416.2 266.6V268.0M415.0 266.6h2.4M415.0 268.0h2.4M416.3 264.3V266.2M415.1 264.3h2.4M415.1 266.2h2.4M423.0 265.3V273.9M421.8 265.3h2.4M421.8 273.9h2.4M423.3 266.7V268.6M422.1 266.7h2.4M422.1 268.6h2.4M427.4 270.5V273.5M426.2 270.5h2.4M426.2 273.5h2.4M427.5 268.1V269.9M426.3 268.1h2.4M426.3 269.9h2.4M427.5 268.0V270.7M426.3 268.0h2.4M426.3 270.7h2.4M432.6 268.6V270.2M431.4 268.6h2.4M431.4 270.2h2.4M432.7 271.0V273.1M431.5 271.0h2.4M431.5 273.1h2.4M435.0 270.8V273.1M433.8 270.8h2.4M433.8 273.1h2.4M441.6 272.3V273.7M440.4 272.3h2.4M440.4 273.7h2.4M443.7 272.6V274.0M442.5 272.6h2.4M442.5 274.0h2.4M443.9 272.1V273.6M442.7 272.1h2.4M442.7 273.6h2.4M444.1 272.1V274.5M442.9 272.1h2.4M442.9 274.5h2.4M444.2 272.6V275.2M443.0 272.6h2.4M443.0 275.2h2.4M444.3 273.4V275.5M443.1 273.4h2.4M443.1 275.5h2.4M444.4 271.5V273.9M443.2 271.5h2.4M443.2 273.9h2.4M446.5 269.6V273.2M445.3 269.6h2.4M445.3 273.2h2.4M450.8 273.1V275.9M449.6 273.1h2.4M449.6 275.9h2.4M451.0 272.7V276.2M449.8 272.7h2.4M449.8 276.2h2.4M451.3 273.9V275.3M450.1 273.9h2.4M450.1 275.3h2.4M451.6 274.2V275.6M450.4 274.2h2.4M450.4 275.6h2.4M453.1 274.6V277.0M451.9 274.6h2.4M451.9 277.0h2.4M453.2 275.7V277.8M452.0 275.7h2.4M452.0 277.8h2.4M453.3 276.4V278.2M452.1 276.4h2.4M452.1 278.2h2.4M453.6 276.7V279.0M452.4 276.7h2.4M452.4 279.0h2.4M453.6 273.9V275.7M452.4 273.9h2.4M452.4 275.7h2.4M453.7 274.8V277.3M452.5 274.8h2.4M452.5 277.3h2.4M455.9 275.6V277.4M454.7 275.6h2.4M454.7 277.4h2.4M456.2 274.8V276.8M455.0 274.8h2.4M455.0 276.8h2.4M456.2 278.4V281.7M455.0 278.4h2.4M455.0 281.7h2.4M457.9 276.0V278.0M456.7 276.0h2.4M456.7 278.0h2.4M457.9 274.6V276.6M456.7 274.6h2.4M456.7 276.6h2.4M458.2 275.3V278.2M457.0 275.3h2.4M457.0 278.2h2.4M458.4 275.8V278.2M457.2 275.8h2.4M457.2 278.2h2.4M458.4 276.1V278.9M457.2 276.1h2.4M457.2 278.9h2.4M460.3 279.1V281.0M459.1 279.1h2.4M459.1 281.0h2.4M462.8 277.2V279.2M461.6 277.2h2.4M461.6 279.2h2.4M463.1 276.5V278.1M461.9 276.5h2.4M461.9 278.1h2.4M467.5 277.4V278.8M466.3 277.4h2.4M466.3 278.8h2.4M467.6 276.4V278.3M466.4 276.4h2.4M466.4 278.3h2.4M467.8 277.8V279.8M466.6 277.8h2.4M466.6 279.8h2.4M469.9 277.9V279.7M468.7 277.9h2.4M468.7 279.7h2.4M469.9 277.0V281.8M468.7 277.0h2.4M468.7 281.8h2.4M470.0 277.0V278.5M468.8 277.0h2.4M468.8 278.5h2.4M470.0 277.3V279.5M468.8 277.3h2.4M468.8 279.5h2.4M470.2 278.8V280.4M469.0 278.8h2.4M469.0 280.4h2.4M470.3 275.0V277.9M469.1 275.0h2.4M469.1 277.9h2.4M472.1 276.2V280.2M470.9 276.2h2.4M470.9 280.2h2.4M472.2 277.8V279.3M471.0 277.8h2.4M471.0 279.3h2.4M476.7 278.3V280.0M475.5 278.3h2.4M475.5 280.0h2.4M476.7 275.3V282.8M475.5 275.3h2.4M475.5 282.8h2.4M477.1 279.1V280.7M475.9 279.1h2.4M475.9 280.7h2.4M477.3 278.4V280.1M476.1 278.4h2.4M476.1 280.1h2.4M479.5 279.7V281.1M478.3 279.7h2.4M478.3 281.1h2.4M481.4 279.4V281.3M480.2 279.4h2.4M480.2 281.3h2.4M495.4 281.4V285.2M494.2 281.4h2.4M494.2 285.2h2.4M496.0 279.6V283.3M494.8 279.6h2.4M494.8 283.3h2.4M496.0 280.7V282.2M494.8 280.7h2.4M494.8 282.2h2.4M496.1 280.1V281.8M494.9 280.1h2.4M494.9 281.8h2.4M497.8 281.8V283.5M496.6 281.8h2.4M496.6 283.5h2.4M498.2 282.0V283.8M497.0 282.0h2.4M497.0 283.8h2.4M500.6 280.3V281.8M499.4 280.3h2.4M499.4 281.8h2.4M500.6 281.8V284.0M499.4 281.8h2.4M499.4 284.0h2.4M500.8 281.8V283.2M499.6 281.8h2.4M499.6 283.2h2.4M507.5 283.1V284.7M506.3 283.1h2.4M506.3 284.7h2.4M507.5 283.2V285.7M506.3 283.2h2.4M506.3 285.7h2.4M507.7 281.0V284.2M506.5 281.0h2.4M506.5 284.2h2.4M509.5 282.4V285.1M508.3 282.4h2.4M508.3 285.1h2.4M509.5 281.2V283.0M508.3 281.2h2.4M508.3 283.0h2.4M509.6 281.7V286.5M508.4 281.7h2.4M508.4 286.5h2.4M512.5 282.6V284.9M511.3 282.6h2.4M511.3 284.9h2.4M514.8 281.7V284.4M513.6 281.7h2.4M513.6 284.4h2.4M516.7 284.0V286.4M515.5 284.0h2.4M515.5 286.4h2.4M517.1 283.5V285.5M515.9 283.5h2.4M515.9 285.5h2.4M519.0 283.4V285.5M517.8 283.4h2.4M517.8 285.5h2.4M519.5 281.8V283.3M518.3 281.8h2.4M518.3 283.3h2.4M521.3 285.0V286.8M520.1 285.0h2.4M520.1 286.8h2.4M521.6 284.8V286.6M520.4 284.8h2.4M520.4 286.6h2.4M521.8 284.8V287.3M520.6 284.8h2.4M520.6 287.3h2.4M521.9 285.3V287.3M520.7 285.3h2.4M520.7 287.3h2.4M63.5 272.9V279.9M62.3 272.9h2.4M62.3 279.9h2.4M91.4 272.1V276.8M90.2 272.1h2.4M90.2 276.8h2.4M98.7 265.4V270.6M97.5 265.4h2.4M97.5 270.6h2.4M113.0 263.8V268.0M111.8 263.8h2.4M111.8 268.0h2.4M138.1 249.8V269.8M136.9 249.8h2.4M136.9 269.8h2.4M135.4 258.0V268.2M134.2 258.0h2.4M134.2 268.2h2.4M141.6 256.9V264.1M140.4 256.9h2.4M140.4 264.1h2.4M181.0 235.1V253.9M179.8 235.1h2.4M179.8 253.9h2.4M199.0 175.6V181.1M197.8 175.6h2.4M197.8 181.1h2.4M204.5 175.5V179.4M203.3 175.5h2.4M203.3 179.4h2.4M312.2 116.3V122.7M311.0 116.3h2.4M311.0 122.7h2.4M316.8 135.4V142.9M315.6 135.4h2.4M315.6 142.9h2.4M314.5 128.7V134.2M313.3 128.7h2.4M313.3 134.2h2.4M398.0 257.4V265.2M396.8 257.4h2.4M396.8 265.2h2.4M460.4 268.0V284.8M459.2 268.0h2.4M459.2 284.8h2.4M464.9 264.7V286.9M463.7 264.7h2.4M463.7 286.9h2.4M484.6 275.2V283.1M483.4 275.2h2.4M483.4 283.1h2.4M449.2 271.6V280.9M448.0 271.6h2.4M448.0 280.9h2.4M423.0 264.3V270.8M421.8 264.3h2.4M421.8 270.8h2.4M520.5 270.9V298.0M519.3 270.9h2.4M519.3 298.0h2.4M516.3 280.7V293.3M515.1 280.7h2.4M515.1 293.3h2.4M524.0 276.9V295.0M522.8 276.9h2.4M522.8 295.0h2.4M77.6 257.8V264.0M76.4 257.8h2.4M76.4 264.0h2.4" stroke="#8000ff" stroke-width="1.0" fill="none" opacity="0.9"/>
<g fill="none" stroke="#8000ff" stroke-width="0.7" opacity="0.55">
<circle cx="61.1" cy="278.6" r="2.4"/><circle cx="61.1" cy="277.8" r="2.4"/><circle cx="61.7" cy="278.1" r="2.4"/><circle cx="63.8" cy="277.2" r="2.4"/><circle cx="63.9" cy="276.7" r="2.4"/><circle cx="64.0" cy="277.3" r="2.4"/><circle cx="64.0" cy="276.0" r="2.4"/><circle cx="64.1" cy="277.7" r="2.4"/><circle cx="65.8" cy="276.1" r="2.4"/><circle cx="65.9" cy="277.2" r="2.4"/><circle cx="66.3" cy="277.4" r="2.4"/><circle cx="68.0" cy="276.1" r="2.4"/><circle cx="68.1" cy="277.3" r="2.4"/><circle cx="68.1" cy="276.8" r="2.4"/><circle cx="68.6" cy="278.4" r="2.4"/><circle cx="68.6" cy="276.0" r="2.4"/><circle cx="68.7" cy="276.1" r="2.4"/><circle cx="68.8" cy="275.9" r="2.4"/><circle cx="70.4" cy="274.7" r="2.4"/><circle cx="70.8" cy="276.4" r="2.4"/><circle cx="70.9" cy="275.5" r="2.4"/><circle cx="71.1" cy="275.9" r="2.4"/><circle cx="72.9" cy="276.8" r="2.4"/><circle cx="73.4" cy="276.0" r="2.4"/><circle cx="73.5" cy="275.6" r="2.4"/><circle cx="75.5" cy="276.7" r="2.4"/><circle cx="75.5" cy="275.8" r="2.4"/><circle cx="75.7" cy="273.7" r="2.4"/><circle cx="77.5" cy="274.2" r="2.4"/><circle cx="77.5" cy="274.3" r="2.4"/><circle cx="77.6" cy="274.4" r="2.4"/><circle cx="77.7" cy="276.5" r="2.4"/><circle cx="77.9" cy="274.5" r="2.4"/><circle cx="78.0" cy="274.3" r="2.4"/><circle cx="78.0" cy="273.6" r="2.4"/><circle cx="78.1" cy="273.1" r="2.4"/><circle cx="78.2" cy="274.9" r="2.4"/><circle cx="79.8" cy="272.7" r="2.4"/><circle cx="80.1" cy="274.6" r="2.4"/><circle cx="80.2" cy="273.5" r="2.4"/><circle cx="80.2" cy="274.1" r="2.4"/><circle cx="80.4" cy="273.2" r="2.4"/><circle cx="84.5" cy="274.5" r="2.4"/><circle cx="84.7" cy="273.6" r="2.4"/><circle cx="85.0" cy="273.4" r="2.4"/><circle cx="85.0" cy="274.4" r="2.4"/><circle cx="85.2" cy="273.7" r="2.4"/><circle cx="87.4" cy="269.9" r="2.4"/><circle cx="94.3" cy="272.1" r="2.4"/><circle cx="96.9" cy="271.6" r="2.4"/><circle cx="98.6" cy="269.5" r="2.4"/><circle cx="99.1" cy="270.0" r="2.4"/><circle cx="99.1" cy="270.3" r="2.4"/><circle cx="99.2" cy="269.7" r="2.4"/><circle cx="99.4" cy="271.6" r="2.4"/><circle cx="101.0" cy="268.9" r="2.4"/><circle cx="101.0" cy="270.1" r="2.4"/><circle cx="101.0" cy="269.7" r="2.4"/><circle cx="101.1" cy="270.1" r="2.4"/><circle cx="101.5" cy="270.7" r="2.4"/><circle cx="105.7" cy="269.3" r="2.4"/><circle cx="105.7" cy="268.2" r="2.4"/><circle cx="105.8" cy="271.8" r="2.4"/><circle cx="106.2" cy="269.3" r="2.4"/><circle cx="110.9" cy="267.9" r="2.4"/><circle cx="112.7" cy="269.4" r="2.4"/><circle cx="112.8" cy="267.2" r="2.4"/><circle cx="113.1" cy="267.7" r="2.4"/><circle cx="113.1" cy="267.6" r="2.4"/><circle cx="113.4" cy="269.0" r="2.4"/><circle cx="117.4" cy="267.1" r="2.4"/><circle cx="117.4" cy="266.9" r="2.4"/><circle cx="117.5" cy="266.1" r="2.4"/><circle cx="117.6" cy="267.2" r="2.4"/><circle cx="117.7" cy="266.8" r="2.4"/><circle cx="118.0" cy="265.5" r="2.4"/><circle cx="118.0" cy="265.3" r="2.4"/><circle cx="126.9" cy="264.0" r="2.4"/><circle cx="127.0" cy="264.8" r="2.4"/><circle cx="127.0" cy="265.6" r="2.4"/><circle cx="127.1" cy="264.5" r="2.4"/><circle cx="127.3" cy="263.0" r="2.4"/><circle cx="127.5" cy="265.5" r="2.4"/><circle cx="129.1" cy="263.4" r="2.4"/><circle cx="129.4" cy="264.6" r="2.4"/><circle cx="129.5" cy="265.1" r="2.4"/><circle cx="131.7" cy="264.6" r="2.4"/><circle cx="131.9" cy="264.3" r="2.4"/><circle cx="132.0" cy="262.5" r="2.4"/><circle cx="136.6" cy="260.6" r="2.4"/><circle cx="136.7" cy="261.6" r="2.4"/><circle cx="139.0" cy="261.9" r="2.4"/><circle cx="139.1" cy="261.8" r="2.4"/><circle cx="140.9" cy="261.6" r="2.4"/><circle cx="140.9" cy="260.4" r="2.4"/><circle cx="141.2" cy="259.3" r="2.4"/><circle cx="141.6" cy="260.0" r="2.4"/><circle cx="141.6" cy="261.9" r="2.4"/><circle cx="141.6" cy="260.1" r="2.4"/><circle cx="145.6" cy="259.4" r="2.4"/><circle cx="148.3" cy="259.5" r="2.4"/><circle cx="148.3" cy="257.6" r="2.4"/><circle cx="148.5" cy="257.3" r="2.4"/><circle cx="148.6" cy="256.8" r="2.4"/><circle cx="150.5" cy="257.9" r="2.4"/><circle cx="150.8" cy="256.9" r="2.4"/><circle cx="155.1" cy="255.1" r="2.4"/><circle cx="155.3" cy="257.6" r="2.4"/><circle cx="155.3" cy="259.2" r="2.4"/><circle cx="158.0" cy="254.3" r="2.4"/><circle cx="159.9" cy="253.3" r="2.4"/><circle cx="159.9" cy="254.6" r="2.4"/><circle cx="160.1" cy="254.1" r="2.4"/><circle cx="160.2" cy="252.4" r="2.4"/><circle cx="160.2" cy="255.6" r="2.4"/><circle cx="160.3" cy="253.9" r="2.4"/><circle cx="162.0" cy="252.6" r="2.4"/><circle cx="162.0" cy="253.0" r="2.4"/><circle cx="162.3" cy="251.8" r="2.4"/><circle cx="162.4" cy="251.9" r="2.4"/><circle cx="162.7" cy="252.7" r="2.4"/><circle cx="164.9" cy="251.5" r="2.4"/><circle cx="167.0" cy="249.9" r="2.4"/><circle cx="171.5" cy="249.4" r="2.4"/><circle cx="171.5" cy="248.9" r="2.4"/><circle cx="171.6" cy="248.2" r="2.4"/><circle cx="171.7" cy="246.9" r="2.4"/><circle cx="173.9" cy="247.6" r="2.4"/><circle cx="176.3" cy="246.2" r="2.4"/><circle cx="176.5" cy="247.6" r="2.4"/><circle cx="176.5" cy="246.0" r="2.4"/><circle cx="181.2" cy="243.7" r="2.4"/><circle cx="181.2" cy="246.1" r="2.4"/><circle cx="181.3" cy="245.7" r="2.4"/><circle cx="181.4" cy="244.7" r="2.4"/><circle cx="181.5" cy="244.9" r="2.4"/><circle cx="183.3" cy="244.5" r="2.4"/><circle cx="183.3" cy="244.8" r="2.4"/><circle cx="192.5" cy="160.8" r="2.4"/><circle cx="193.3" cy="163.4" r="2.4"/><circle cx="194.9" cy="170.6" r="2.4"/><circle cx="195.0" cy="168.5" r="2.4"/><circle cx="195.2" cy="170.3" r="2.4"/><circle cx="195.3" cy="171.1" r="2.4"/><circle cx="197.3" cy="173.0" r="2.4"/><circle cx="197.4" cy="174.2" r="2.4"/><circle cx="197.8" cy="173.3" r="2.4"/><circle cx="197.8" cy="174.3" r="2.4"/><circle cx="199.7" cy="177.0" r="2.4"/><circle cx="199.7" cy="176.1" r="2.4"/><circle cx="200.1" cy="176.5" r="2.4"/><circle cx="201.9" cy="178.4" r="2.4"/><circle cx="202.2" cy="177.7" r="2.4"/><circle cx="202.2" cy="179.4" r="2.4"/><circle cx="202.3" cy="178.7" r="2.4"/><circle cx="202.6" cy="179.1" r="2.4"/><circle cx="204.7" cy="179.3" r="2.4"/><circle cx="205.0" cy="180.2" r="2.4"/><circle cx="207.3" cy="179.5" r="2.4"/><circle cx="211.3" cy="180.8" r="2.4"/><circle cx="212.0" cy="181.8" r="2.4"/><circle cx="212.0" cy="181.0" r="2.4"/><circle cx="214.0" cy="181.1" r="2.4"/><circle cx="218.5" cy="179.1" r="2.4"/><circle cx="218.6" cy="179.4" r="2.4"/><circle cx="218.8" cy="179.1" r="2.4"/><circle cx="220.8" cy="179.8" r="2.4"/><circle cx="220.9" cy="179.1" r="2.4"/><circle cx="220.9" cy="177.5" r="2.4"/><circle cx="221.3" cy="179.7" r="2.4"/><circle cx="223.4" cy="177.3" r="2.4"/><circle cx="225.5" cy="176.2" r="2.4"/><circle cx="225.8" cy="175.9" r="2.4"/><circle cx="226.0" cy="176.3" r="2.4"/><circle cx="226.0" cy="176.4" r="2.4"/><circle cx="226.1" cy="176.4" r="2.4"/><circle cx="227.8" cy="175.7" r="2.4"/><circle cx="230.1" cy="173.8" r="2.4"/><circle cx="230.2" cy="174.4" r="2.4"/><circle cx="230.6" cy="174.8" r="2.4"/><circle cx="232.5" cy="171.5" r="2.4"/><circle cx="232.6" cy="172.1" r="2.4"/><circle cx="232.8" cy="172.6" r="2.4"/><circle cx="233.0" cy="171.6" r="2.4"/><circle cx="234.9" cy="169.8" r="2.4"/><circle cx="237.7" cy="167.6" r="2.4"/><circle cx="239.9" cy="166.4" r="2.4"/><circle cx="240.1" cy="165.3" r="2.4"/><circle cx="249.1" cy="153.4" r="2.4"/><circle cx="249.1" cy="153.2" r="2.4"/><circle cx="249.4" cy="152.8" r="2.4"/><circle cx="249.5" cy="152.6" r="2.4"/><circle cx="249.6" cy="152.4" r="2.4"/><circle cx="251.6" cy="150.0" r="2.4"/><circle cx="251.7" cy="148.6" r="2.4"/><circle cx="251.7" cy="149.9" r="2.4"/><circle cx="251.9" cy="149.8" r="2.4"/><circle cx="254.0" cy="145.4" r="2.4"/><circle cx="254.3" cy="145.0" r="2.4"/><circle cx="256.0" cy="142.7" r="2.4"/><circle cx="256.0" cy="142.1" r="2.4"/><circle cx="256.1" cy="141.9" r="2.4"/><circle cx="256.3" cy="141.7" r="2.4"/><circle cx="256.4" cy="141.6" r="2.4"/><circle cx="256.6" cy="140.6" r="2.4"/><circle cx="260.6" cy="134.2" r="2.4"/><circle cx="261.2" cy="132.4" r="2.4"/><circle cx="261.3" cy="132.3" r="2.4"/><circle cx="263.0" cy="128.6" r="2.4"/><circle cx="263.5" cy="128.1" r="2.4"/><circle cx="265.3" cy="123.4" r="2.4"/><circle cx="265.7" cy="123.0" r="2.4"/><circle cx="265.9" cy="123.7" r="2.4"/><circle cx="265.9" cy="122.0" r="2.4"/><circle cx="274.8" cy="106.9" r="2.4"/><circle cx="277.5" cy="101.0" r="2.4"/><circle cx="277.7" cy="100.8" r="2.4"/><circle cx="279.8" cy="96.0" r="2.4"/><circle cx="281.7" cy="91.6" r="2.4"/><circle cx="281.9" cy="92.9" r="2.4"/><circle cx="282.4" cy="89.6" r="2.4"/><circle cx="282.5" cy="90.5" r="2.4"/><circle cx="286.5" cy="81.1" r="2.4"/><circle cx="286.7" cy="80.7" r="2.4"/><circle cx="286.9" cy="80.3" r="2.4"/><circle cx="287.0" cy="80.4" r="2.4"/><circle cx="289.0" cy="73.9" r="2.4"/><circle cx="300.5" cy="45.9" r="2.4"/><circle cx="300.6" cy="46.6" r="2.4"/><circle cx="302.5" cy="57.3" r="2.4"/><circle cx="302.6" cy="58.1" r="2.4"/><circle cx="302.7" cy="58.8" r="2.4"/><circle cx="302.8" cy="59.9" r="2.4"/><circle cx="304.8" cy="72.4" r="2.4"/><circle cx="304.9" cy="73.7" r="2.4"/><circle cx="305.1" cy="73.8" r="2.4"/><circle cx="300.6" cy="46.9" r="2.4"/><circle cx="300.7" cy="46.7" r="2.4"/><circle cx="301.3" cy="49.4" r="2.4"/><circle cx="302.9" cy="60.2" r="2.4"/><circle cx="303.0" cy="60.7" r="2.4"/><circle cx="303.1" cy="60.5" r="2.4"/><circle cx="303.1" cy="61.4" r="2.4"/><circle cx="303.5" cy="63.6" r="2.4"/><circle cx="303.6" cy="64.3" r="2.4"/><circle cx="303.6" cy="64.9" r="2.4"/><circle cx="307.8" cy="92.7" r="2.4"/><circle cx="307.9" cy="95.3" r="2.4"/><circle cx="308.1" cy="96.0" r="2.4"/><circle cx="308.3" cy="97.2" r="2.4"/><circle cx="308.3" cy="97.4" r="2.4"/><circle cx="310.3" cy="111.3" r="2.4"/><circle cx="310.4" cy="112.8" r="2.4"/><circle cx="310.5" cy="112.9" r="2.4"/><circle cx="310.6" cy="113.8" r="2.4"/><circle cx="310.7" cy="113.8" r="2.4"/><circle cx="312.3" cy="123.8" r="2.4"/><circle cx="312.3" cy="123.7" r="2.4"/><circle cx="313.0" cy="126.1" r="2.4"/><circle cx="313.0" cy="126.9" r="2.4"/><circle cx="317.2" cy="145.9" r="2.4"/><circle cx="317.3" cy="146.3" r="2.4"/><circle cx="317.4" cy="147.0" r="2.4"/><circle cx="317.6" cy="147.2" r="2.4"/><circle cx="317.7" cy="148.5" r="2.4"/><circle cx="324.0" cy="170.8" r="2.4"/><circle cx="324.1" cy="170.4" r="2.4"/><circle cx="324.1" cy="171.4" r="2.4"/><circle cx="324.2" cy="171.3" r="2.4"/><circle cx="324.3" cy="171.1" r="2.4"/><circle cx="324.4" cy="170.9" r="2.4"/><circle cx="324.6" cy="172.0" r="2.4"/><circle cx="324.6" cy="172.9" r="2.4"/><circle cx="328.9" cy="182.1" r="2.4"/><circle cx="328.9" cy="183.4" r="2.4"/><circle cx="329.3" cy="184.8" r="2.4"/><circle cx="329.4" cy="185.0" r="2.4"/><circle cx="329.4" cy="184.6" r="2.4"/><circle cx="329.4" cy="184.8" r="2.4"/><circle cx="329.5" cy="185.1" r="2.4"/><circle cx="331.6" cy="190.2" r="2.4"/><circle cx="331.6" cy="190.4" r="2.4"/><circle cx="331.6" cy="191.2" r="2.4"/><circle cx="333.8" cy="195.4" r="2.4"/><circle cx="333.8" cy="196.1" r="2.4"/><circle cx="333.9" cy="195.6" r="2.4"/><circle cx="333.9" cy="194.8" r="2.4"/><circle cx="334.0" cy="196.1" r="2.4"/><circle cx="334.1" cy="196.5" r="2.4"/><circle cx="336.1" cy="200.7" r="2.4"/><circle cx="336.4" cy="200.0" r="2.4"/><circle cx="338.1" cy="203.9" r="2.4"/><circle cx="338.2" cy="203.5" r="2.4"/><circle cx="338.3" cy="204.1" r="2.4"/><circle cx="338.8" cy="205.0" r="2.4"/><circle cx="338.8" cy="205.2" r="2.4"/><circle cx="338.8" cy="203.8" r="2.4"/><circle cx="340.6" cy="207.8" r="2.4"/><circle cx="340.9" cy="208.1" r="2.4"/><circle cx="342.9" cy="212.4" r="2.4"/><circle cx="343.0" cy="212.6" r="2.4"/><circle cx="343.1" cy="212.5" r="2.4"/><circle cx="343.4" cy="213.1" r="2.4"/><circle cx="343.4" cy="212.4" r="2.4"/><circle cx="347.7" cy="220.3" r="2.4"/><circle cx="347.8" cy="220.3" r="2.4"/><circle cx="347.8" cy="220.3" r="2.4"/><circle cx="347.9" cy="219.7" r="2.4"/><circle cx="348.1" cy="220.3" r="2.4"/><circle cx="348.1" cy="220.1" r="2.4"/><circle cx="348.2" cy="220.5" r="2.4"/><circle cx="349.8" cy="222.6" r="2.4"/><circle cx="349.8" cy="224.0" r="2.4"/><circle cx="350.1" cy="223.7" r="2.4"/><circle cx="350.2" cy="223.6" r="2.4"/><circle cx="350.3" cy="225.1" r="2.4"/><circle cx="350.4" cy="224.2" r="2.4"/><circle cx="350.5" cy="224.7" r="2.4"/><circle cx="352.6" cy="226.7" r="2.4"/><circle cx="354.6" cy="230.9" r="2.4"/><circle cx="354.9" cy="226.5" r="2.4"/><circle cx="357.1" cy="233.2" r="2.4"/><circle cx="357.3" cy="232.0" r="2.4"/><circle cx="361.9" cy="238.5" r="2.4"/><circle cx="362.1" cy="238.5" r="2.4"/><circle cx="364.0" cy="239.2" r="2.4"/><circle cx="364.0" cy="238.8" r="2.4"/><circle cx="364.0" cy="238.1" r="2.4"/><circle cx="364.1" cy="238.2" r="2.4"/><circle cx="364.2" cy="239.8" r="2.4"/><circle cx="368.6" cy="242.4" r="2.4"/><circle cx="368.7" cy="242.9" r="2.4"/><circle cx="368.8" cy="245.5" r="2.4"/><circle cx="368.9" cy="243.5" r="2.4"/><circle cx="369.1" cy="242.9" r="2.4"/><circle cx="369.2" cy="243.1" r="2.4"/><circle cx="369.2" cy="243.5" r="2.4"/><circle cx="369.2" cy="242.9" r="2.4"/><circle cx="371.0" cy="243.0" r="2.4"/><circle cx="371.1" cy="244.3" r="2.4"/><circle cx="371.2" cy="243.4" r="2.4"/><circle cx="371.3" cy="244.1" r="2.4"/><circle cx="371.3" cy="243.7" r="2.4"/><circle cx="371.3" cy="243.5" r="2.4"/><circle cx="371.4" cy="244.0" r="2.4"/><circle cx="371.5" cy="245.1" r="2.4"/><circle cx="371.7" cy="244.7" r="2.4"/><circle cx="373.4" cy="245.5" r="2.4"/><circle cx="373.8" cy="246.0" r="2.4"/><circle cx="378.2" cy="249.7" r="2.4"/><circle cx="378.4" cy="249.3" r="2.4"/><circle cx="380.6" cy="250.5" r="2.4"/><circle cx="381.1" cy="251.0" r="2.4"/><circle cx="382.7" cy="251.4" r="2.4"/><circle cx="382.8" cy="250.1" r="2.4"/><circle cx="385.3" cy="252.1" r="2.4"/><circle cx="385.3" cy="252.3" r="2.4"/><circle cx="385.5" cy="249.6" r="2.4"/><circle cx="385.6" cy="253.9" r="2.4"/><circle cx="385.8" cy="253.9" r="2.4"/><circle cx="385.8" cy="252.8" r="2.4"/><circle cx="385.8" cy="253.1" r="2.4"/><circle cx="387.5" cy="256.6" r="2.4"/><circle cx="387.7" cy="252.3" r="2.4"/><circle cx="387.7" cy="253.8" r="2.4"/><circle cx="387.7" cy="253.7" r="2.4"/><circle cx="388.0" cy="253.2" r="2.4"/><circle cx="388.1" cy="253.8" r="2.4"/><circle cx="392.5" cy="256.9" r="2.4"/><circle cx="392.5" cy="256.8" r="2.4"/><circle cx="392.7" cy="255.9" r="2.4"/><circle cx="392.7" cy="256.5" r="2.4"/><circle cx="392.9" cy="255.4" r="2.4"/><circle cx="399.7" cy="258.6" r="2.4"/><circle cx="401.7" cy="259.6" r="2.4"/><circle cx="401.8" cy="260.9" r="2.4"/><circle cx="401.9" cy="261.4" r="2.4"/><circle cx="403.8" cy="261.3" r="2.4"/><circle cx="404.0" cy="262.0" r="2.4"/><circle cx="404.2" cy="260.8" r="2.4"/><circle cx="404.4" cy="260.3" r="2.4"/><circle cx="404.4" cy="260.9" r="2.4"/><circle cx="404.6" cy="263.7" r="2.4"/><circle cx="406.5" cy="259.8" r="2.4"/><circle cx="406.6" cy="263.2" r="2.4"/><circle cx="406.9" cy="264.5" r="2.4"/><circle cx="408.8" cy="261.6" r="2.4"/><circle cx="409.0" cy="263.1" r="2.4"/><circle cx="409.1" cy="263.9" r="2.4"/><circle cx="409.1" cy="264.1" r="2.4"/><circle cx="409.3" cy="264.1" r="2.4"/><circle cx="410.9" cy="263.5" r="2.4"/><circle cx="411.0" cy="262.3" r="2.4"/><circle cx="411.2" cy="263.3" r="2.4"/><circle cx="413.7" cy="264.9" r="2.4"/><circle cx="415.7" cy="263.9" r="2.4"/><circle cx="416.2" cy="267.3" r="2.4"/><circle cx="416.2" cy="265.2" r="2.4"/><circle cx="416.3" cy="264.5" r="2.4"/><circle cx="416.3" cy="265.2" r="2.4"/><circle cx="416.3" cy="266.1" r="2.4"/><circle cx="418.0" cy="265.8" r="2.4"/><circle cx="418.2" cy="265.9" r="2.4"/><circle cx="420.6" cy="268.0" r="2.4"/><circle cx="420.7" cy="267.1" r="2.4"/><circle cx="420.7" cy="269.0" r="2.4"/><circle cx="420.9" cy="268.0" r="2.4"/><circle cx="420.9" cy="268.7" r="2.4"/><circle cx="423.0" cy="269.6" r="2.4"/><circle cx="423.3" cy="268.2" r="2.4"/><circle cx="423.3" cy="267.6" r="2.4"/><circle cx="425.2" cy="268.7" r="2.4"/><circle cx="425.3" cy="266.9" r="2.4"/><circle cx="425.5" cy="267.7" r="2.4"/><circle cx="427.4" cy="272.0" r="2.4"/><circle cx="427.5" cy="269.0" r="2.4"/><circle cx="427.5" cy="269.3" r="2.4"/><circle cx="427.9" cy="268.6" r="2.4"/><circle cx="428.0" cy="268.9" r="2.4"/><circle cx="432.0" cy="270.4" r="2.4"/><circle cx="432.4" cy="270.8" r="2.4"/><circle cx="432.6" cy="269.4" r="2.4"/><circle cx="432.7" cy="272.0" r="2.4"/><circle cx="432.7" cy="269.6" r="2.4"/><circle cx="432.8" cy="272.4" r="2.4"/><circle cx="434.5" cy="271.0" r="2.4"/><circle cx="434.7" cy="271.3" r="2.4"/><circle cx="435.0" cy="271.9" r="2.4"/><circle cx="439.8" cy="272.1" r="2.4"/><circle cx="439.8" cy="272.8" r="2.4"/><circle cx="441.5" cy="274.3" r="2.4"/><circle cx="441.6" cy="273.0" r="2.4"/><circle cx="441.7" cy="273.5" r="2.4"/><circle cx="443.7" cy="273.3" r="2.4"/><circle cx="443.8" cy="273.4" r="2.4"/><circle cx="443.9" cy="272.9" r="2.4"/><circle cx="443.9" cy="273.6" r="2.4"/><circle cx="444.1" cy="273.3" r="2.4"/><circle cx="444.2" cy="273.9" r="2.4"/><circle cx="444.3" cy="274.5" r="2.4"/><circle cx="444.4" cy="272.7" r="2.4"/><circle cx="446.2" cy="275.2" r="2.4"/><circle cx="446.2" cy="272.5" r="2.4"/><circle cx="446.5" cy="271.4" r="2.4"/><circle cx="446.6" cy="274.1" r="2.4"/><circle cx="446.7" cy="273.9" r="2.4"/><circle cx="448.6" cy="275.1" r="2.4"/><circle cx="448.6" cy="274.6" r="2.4"/><circle cx="448.8" cy="275.4" r="2.4"/><circle cx="449.0" cy="275.1" r="2.4"/><circle cx="450.8" cy="274.5" r="2.4"/><circle cx="451.0" cy="274.5" r="2.4"/><circle cx="451.1" cy="274.5" r="2.4"/><circle cx="451.2" cy="276.0" r="2.4"/><circle cx="451.2" cy="275.9" r="2.4"/><circle cx="451.2" cy="275.9" r="2.4"/><circle cx="451.3" cy="274.7" r="2.4"/><circle cx="451.3" cy="274.6" r="2.4"/><circle cx="451.6" cy="274.9" r="2.4"/><circle cx="453.1" cy="275.8" r="2.4"/><circle cx="453.2" cy="276.7" r="2.4"/><circle cx="453.3" cy="277.3" r="2.4"/><circle cx="453.5" cy="275.3" r="2.4"/><circle cx="453.6" cy="277.9" r="2.4"/><circle cx="453.6" cy="274.8" r="2.4"/><circle cx="453.7" cy="276.1" r="2.4"/><circle cx="453.8" cy="275.6" r="2.4"/><circle cx="455.9" cy="276.5" r="2.4"/><circle cx="456.2" cy="275.8" r="2.4"/><circle cx="456.2" cy="280.1" r="2.4"/><circle cx="457.9" cy="277.0" r="2.4"/><circle cx="457.9" cy="275.6" r="2.4"/><circle cx="458.2" cy="276.8" r="2.4"/><circle cx="458.3" cy="276.8" r="2.4"/><circle cx="458.3" cy="276.1" r="2.4"/><circle cx="458.4" cy="277.0" r="2.4"/><circle cx="458.4" cy="277.5" r="2.4"/><circle cx="460.3" cy="280.1" r="2.4"/><circle cx="460.4" cy="275.7" r="2.4"/><circle cx="460.7" cy="277.1" r="2.4"/><circle cx="460.7" cy="278.3" r="2.4"/><circle cx="460.9" cy="276.2" r="2.4"/><circle cx="462.8" cy="278.2" r="2.4"/><circle cx="463.1" cy="278.0" r="2.4"/><circle cx="463.1" cy="277.3" r="2.4"/><circle cx="465.4" cy="278.8" r="2.4"/><circle cx="467.5" cy="278.1" r="2.4"/><circle cx="467.6" cy="277.3" r="2.4"/><circle cx="467.8" cy="278.8" r="2.4"/><circle cx="468.0" cy="277.5" r="2.4"/><circle cx="469.9" cy="278.8" r="2.4"/><circle cx="469.9" cy="279.4" r="2.4"/><circle cx="469.9" cy="277.0" r="2.4"/><circle cx="470.0" cy="277.7" r="2.4"/><circle cx="470.0" cy="278.4" r="2.4"/><circle cx="470.1" cy="278.7" r="2.4"/><circle cx="470.2" cy="279.6" r="2.4"/><circle cx="470.3" cy="276.5" r="2.4"/><circle cx="472.1" cy="278.2" r="2.4"/><circle cx="472.2" cy="278.6" r="2.4"/><circle cx="476.6" cy="281.7" r="2.4"/><circle cx="476.7" cy="279.2" r="2.4"/><circle cx="476.7" cy="279.0" r="2.4"/><circle cx="477.1" cy="279.9" r="2.4"/><circle cx="477.3" cy="279.3" r="2.4"/><circle cx="479.5" cy="280.4" r="2.4"/><circle cx="481.4" cy="280.3" r="2.4"/><circle cx="481.4" cy="281.3" r="2.4"/><circle cx="481.4" cy="279.4" r="2.4"/><circle cx="481.6" cy="280.9" r="2.4"/><circle cx="495.4" cy="283.3" r="2.4"/><circle cx="496.0" cy="281.5" r="2.4"/><circle cx="496.0" cy="281.4" r="2.4"/><circle cx="496.1" cy="280.9" r="2.4"/><circle cx="497.7" cy="283.6" r="2.4"/><circle cx="497.8" cy="282.7" r="2.4"/><circle cx="497.9" cy="282.9" r="2.4"/><circle cx="498.2" cy="282.9" r="2.4"/><circle cx="498.4" cy="283.3" r="2.4"/><circle cx="500.4" cy="283.7" r="2.4"/><circle cx="500.6" cy="281.0" r="2.4"/><circle cx="500.6" cy="282.9" r="2.4"/><circle cx="500.8" cy="282.5" r="2.4"/><circle cx="505.2" cy="283.4" r="2.4"/><circle cx="505.6" cy="282.6" r="2.4"/><circle cx="507.4" cy="283.5" r="2.4"/><circle cx="507.5" cy="283.9" r="2.4"/><circle cx="507.5" cy="284.5" r="2.4"/><circle cx="507.6" cy="284.3" r="2.4"/><circle cx="507.7" cy="283.7" r="2.4"/><circle cx="507.7" cy="282.6" r="2.4"/><circle cx="509.5" cy="283.7" r="2.4"/><circle cx="509.5" cy="282.1" r="2.4"/><circle cx="509.6" cy="284.1" r="2.4"/><circle cx="510.0" cy="284.7" r="2.4"/><circle cx="510.0" cy="284.3" r="2.4"/><circle cx="512.3" cy="286.4" r="2.4"/><circle cx="512.5" cy="283.8" r="2.4"/><circle cx="514.2" cy="285.4" r="2.4"/><circle cx="514.4" cy="285.5" r="2.4"/><circle cx="514.5" cy="284.2" r="2.4"/><circle cx="514.8" cy="283.1" r="2.4"/><circle cx="514.8" cy="285.9" r="2.4"/><circle cx="516.7" cy="285.2" r="2.4"/><circle cx="517.1" cy="284.5" r="2.4"/><circle cx="517.2" cy="286.6" r="2.4"/><circle cx="518.9" cy="283.4" r="2.4"/><circle cx="519.0" cy="285.8" r="2.4"/><circle cx="519.0" cy="284.4" r="2.4"/><circle cx="519.5" cy="282.6" r="2.4"/><circle cx="521.3" cy="285.9" r="2.4"/><circle cx="521.6" cy="285.7" r="2.4"/><circle cx="521.6" cy="286.4" r="2.4"/><circle cx="521.8" cy="286.1" r="2.4"/><circle cx="521.9" cy="286.3" r="2.4"/><circle cx="63.5" cy="276.4" r="2.4"/><circle cx="91.4" cy="274.4" r="2.4"/><circle cx="98.7" cy="268.0" r="2.4"/><circle cx="113.0" cy="265.9" r="2.4"/><circle cx="138.1" cy="259.8" r="2.4"/><circle cx="135.4" cy="263.1" r="2.4"/><circle cx="141.6" cy="260.5" r="2.4"/><circle cx="181.0" cy="244.5" r="2.4"/><circle cx="199.0" cy="178.4" r="2.4"/><circle cx="204.5" cy="177.4" r="2.4"/><circle cx="312.2" cy="119.5" r="2.4"/><circle cx="316.8" cy="139.1" r="2.4"/><circle cx="314.5" cy="131.4" r="2.4"/><circle cx="398.0" cy="261.3" r="2.4"/><circle cx="460.4" cy="276.4" r="2.4"/><circle cx="464.9" cy="275.8" r="2.4"/><circle cx="484.6" cy="279.1" r="2.4"/><circle cx="449.2" cy="276.3" r="2.4"/><circle cx="423.0" cy="267.6" r="2.4"/><circle cx="520.5" cy="284.5" r="2.4"/><circle cx="516.3" cy="287.0" r="2.4"/><circle cx="524.0" cy="286.0" r="2.4"/><circle cx="77.6" cy="260.9" r="2.4"/><circle cx="293.0" cy="52.1" r="2.4"/><circle cx="293.1" cy="51.5" r="2.4"/><circle cx="293.7" cy="46.9" r="2.4"/><circle cx="295.7" cy="35.4" r="2.4"/><circle cx="296.2" cy="33.8" r="2.4"/><circle cx="190.0" cy="143.5" r="2.4"/><circle cx="190.2" cy="146.5" r="2.4"/><circle cx="190.3" cy="148.1" r="2.4"/><circle cx="190.5" cy="149.7" r="2.4"/><circle cx="190.6" cy="151.8" r="2.4"/>
</g></g>
<g clip-path="url(#cm)">
<path d="M345.1 223.8V225.7M343.9 223.8h2.4M343.9 225.7h2.4M345.2 222.6V224.1M344.0 222.6h2.4M344.0 224.1h2.4M345.3 219.4V221.6M344.1 219.4h2.4M344.1 221.6h2.4M345.6 225.1V227.2M344.4 225.1h2.4M344.4 227.2h2.4M345.9 223.6V225.3M344.7 223.6h2.4M344.7 225.3h2.4M346.0 223.2V225.7M344.8 223.2h2.4M344.8 225.7h2.4M346.1 224.3V225.8M344.9 224.3h2.4M344.9 225.8h2.4M346.2 223.4V224.9M345.0 223.4h2.4M345.0 224.9h2.4M346.4 223.3V225.3M345.2 223.3h2.4M345.2 225.3h2.4M346.4 223.8V225.9M345.2 223.8h2.4M345.2 225.9h2.4M347.1 225.9V227.4M345.9 225.9h2.4M345.9 227.4h2.4M347.4 226.0V228.6M346.2 226.0h2.4M346.2 228.6h2.4M347.6 228.4V231.2M346.4 228.4h2.4M346.4 231.2h2.4M348.0 229.3V230.8M346.8 229.3h2.4M346.8 230.8h2.4M348.4 228.3V230.2M347.2 228.3h2.4M347.2 230.2h2.4M348.5 226.6V228.9M347.3 226.6h2.4M347.3 228.9h2.4M348.6 228.2V229.9M347.4 228.2h2.4M347.4 229.9h2.4M348.6 228.8V230.4M347.4 228.8h2.4M347.4 230.4h2.4M348.7 227.4V230.1M347.5 227.4h2.4M347.5 230.1h2.4M348.9 227.7V229.3M347.7 227.7h2.4M347.7 229.3h2.4M349.2 227.9V230.5M348.0 227.9h2.4M348.0 230.5h2.4M349.3 226.8V228.7M348.1 226.8h2.4M348.1 228.7h2.4M349.4 230.9V232.9M348.2 230.9h2.4M348.2 232.9h2.4M349.9 228.9V233.5M348.7 228.9h2.4M348.7 233.5h2.4M350.2 227.1V230.2M349.0 227.1h2.4M349.0 230.2h2.4M350.3 229.7V232.2M349.1 229.7h2.4M349.1 232.2h2.4M350.7 229.6V232.3M349.5 229.6h2.4M349.5 232.3h2.4M350.9 231.5V233.2M349.7 231.5h2.4M349.7 233.2h2.4M350.9 230.6V232.2M349.7 230.6h2.4M349.7 232.2h2.4M351.4 229.5V232.6M350.2 229.5h2.4M350.2 232.6h2.4M351.4 230.3V233.2M350.2 230.3h2.4M350.2 233.2h2.4M351.8 230.2V234.8M350.6 230.2h2.4M350.6 234.8h2.4M352.4 231.7V233.8M351.2 231.7h2.4M351.2 233.8h2.4M352.9 231.3V233.4M351.7 231.3h2.4M351.7 233.4h2.4M353.1 232.8V234.7M351.9 232.8h2.4M351.9 234.7h2.4M353.4 233.3V234.8M352.2 233.3h2.4M352.2 234.8h2.4M355.0 232.0V235.5M353.8 232.0h2.4M353.8 235.5h2.4M355.6 234.6V236.7M354.4 234.6h2.4M354.4 236.7h2.4M356.6 236.7V238.6M355.4 236.7h2.4M355.4 238.6h2.4M356.9 237.0V238.5M355.7 237.0h2.4M355.7 238.5h2.4M358.2 237.5V239.4M357.0 237.5h2.4M357.0 239.4h2.4M358.6 237.4V240.0M357.4 237.4h2.4M357.4 240.0h2.4M359.8 238.0V240.9M358.6 238.0h2.4M358.6 240.9h2.4M361.0 239.4V241.4M359.8 239.4h2.4M359.8 241.4h2.4M362.5 240.8V242.8M361.3 240.8h2.4M361.3 242.8h2.4M363.3 241.2V243.1M362.1 241.2h2.4M362.1 243.1h2.4M364.5 242.0V243.5M363.3 242.0h2.4M363.3 243.5h2.4M364.5 244.2V245.6M363.3 244.2h2.4M363.3 245.6h2.4M364.7 240.3V243.0M363.5 240.3h2.4M363.5 243.0h2.4M364.8 242.4V244.3M363.6 242.4h2.4M363.6 244.3h2.4M365.0 242.6V245.4M363.8 242.6h2.4M363.8 245.4h2.4M365.2 241.5V244.7M364.0 241.5h2.4M364.0 244.7h2.4M365.7 242.6V244.3M364.5 242.6h2.4M364.5 244.3h2.4M367.8 243.9V245.7M366.6 243.9h2.4M366.6 245.7h2.4M368.2 243.3V245.6M367.0 243.3h2.4M367.0 245.6h2.4M370.1 245.5V247.4M368.9 245.5h2.4M368.9 247.4h2.4M370.1 245.9V248.6M368.9 245.9h2.4M368.9 248.6h2.4M370.4 243.8V247.3M369.2 243.8h2.4M369.2 247.3h2.4M371.0 245.0V248.2M369.8 245.0h2.4M369.8 248.2h2.4M372.3 247.7V249.8M371.1 247.7h2.4M371.1 249.8h2.4M376.5 248.5V250.9M375.3 248.5h2.4M375.3 250.9h2.4M376.7 247.6V249.9M375.5 247.6h2.4M375.5 249.9h2.4M377.0 248.1V250.5M375.8 248.1h2.4M375.8 250.5h2.4M378.1 250.1V251.7M376.9 250.1h2.4M376.9 251.7h2.4M378.2 250.9V253.7M377.0 250.9h2.4M377.0 253.7h2.4M378.8 249.3V251.8M377.6 249.3h2.4M377.6 251.8h2.4M379.3 246.8V250.9M378.1 246.8h2.4M378.1 250.9h2.4M379.7 249.9V252.4M378.5 249.9h2.4M378.5 252.4h2.4M380.3 249.1V252.2M379.1 249.1h2.4M379.1 252.2h2.4M381.1 250.4V253.4M379.9 250.4h2.4M379.9 253.4h2.4M381.7 251.4V254.1M380.5 251.4h2.4M380.5 254.1h2.4M382.1 251.9V254.4M380.9 251.9h2.4M380.9 254.4h2.4M383.5 251.2V253.4M382.3 251.2h2.4M382.3 253.4h2.4M384.2 251.7V254.3M383.0 251.7h2.4M383.0 254.3h2.4M384.4 252.0V255.0M383.2 252.0h2.4M383.2 255.0h2.4M385.7 252.3V254.9M384.5 252.3h2.4M384.5 254.9h2.4M388.5 256.0V257.7M387.3 256.0h2.4M387.3 257.7h2.4M391.2 253.8V255.2M390.0 253.8h2.4M390.0 255.2h2.4M391.7 254.2V257.2M390.5 254.2h2.4M390.5 257.2h2.4M391.9 256.8V258.6M390.7 256.8h2.4M390.7 258.6h2.4M392.8 256.5V259.7M391.6 256.5h2.4M391.6 259.7h2.4M395.1 257.9V260.6M393.9 257.9h2.4M393.9 260.6h2.4M396.3 258.7V260.6M395.1 258.7h2.4M395.1 260.6h2.4M401.8 261.0V262.5M400.6 261.0h2.4M400.6 262.5h2.4M403.5 262.3V264.5M402.3 262.3h2.4M402.3 264.5h2.4M404.4 260.9V263.9M403.2 260.9h2.4M403.2 263.9h2.4M405.2 260.3V262.8M404.0 260.3h2.4M404.0 262.8h2.4M407.1 262.3V264.2M405.9 262.3h2.4M405.9 264.2h2.4M409.0 264.1V265.6M407.8 264.1h2.4M407.8 265.6h2.4M410.2 262.5V264.4M409.0 262.5h2.4M409.0 264.4h2.4M413.9 261.8V265.2M412.7 261.8h2.4M412.7 265.2h2.4M417.7 265.9V268.2M416.5 265.9h2.4M416.5 268.2h2.4M422.9 267.1V269.8M421.7 267.1h2.4M421.7 269.8h2.4M424.8 269.8V271.5M423.6 269.8h2.4M423.6 271.5h2.4M428.3 269.2V272.4M427.1 269.2h2.4M427.1 272.4h2.4M435.3 271.7V274.8M434.1 271.7h2.4M434.1 274.8h2.4M441.0 271.2V273.5M439.8 271.2h2.4M439.8 273.5h2.4" stroke="#ff0000" stroke-width="0.9" fill="none" opacity="0.9"/>
<g fill="none" stroke="#ff0000" stroke-width="0.7" opacity="0.55">
<circle cx="345.1" cy="224.7" r="2.3"/><circle cx="345.2" cy="223.4" r="2.3"/><circle cx="345.3" cy="220.5" r="2.3"/><circle cx="345.6" cy="226.1" r="2.3"/><circle cx="345.9" cy="224.4" r="2.3"/><circle cx="346.0" cy="224.5" r="2.3"/><circle cx="346.1" cy="225.1" r="2.3"/><circle cx="346.2" cy="224.2" r="2.3"/><circle cx="346.4" cy="224.3" r="2.3"/><circle cx="346.4" cy="224.9" r="2.3"/><circle cx="346.7" cy="226.1" r="2.3"/><circle cx="346.9" cy="227.0" r="2.3"/><circle cx="347.1" cy="226.7" r="2.3"/><circle cx="347.4" cy="227.3" r="2.3"/><circle cx="347.6" cy="229.8" r="2.3"/><circle cx="348.0" cy="230.0" r="2.3"/><circle cx="348.4" cy="229.2" r="2.3"/><circle cx="348.5" cy="227.8" r="2.3"/><circle cx="348.6" cy="229.0" r="2.3"/><circle cx="348.6" cy="229.6" r="2.3"/><circle cx="348.7" cy="228.8" r="2.3"/><circle cx="348.9" cy="228.5" r="2.3"/><circle cx="348.9" cy="228.5" r="2.3"/><circle cx="349.2" cy="229.2" r="2.3"/><circle cx="349.3" cy="227.7" r="2.3"/><circle cx="349.4" cy="231.9" r="2.3"/><circle cx="349.9" cy="231.2" r="2.3"/><circle cx="350.2" cy="228.6" r="2.3"/><circle cx="350.3" cy="230.9" r="2.3"/><circle cx="350.5" cy="230.8" r="2.3"/><circle cx="350.7" cy="231.0" r="2.3"/><circle cx="350.9" cy="232.3" r="2.3"/><circle cx="350.9" cy="231.4" r="2.3"/><circle cx="351.4" cy="231.0" r="2.3"/><circle cx="351.4" cy="231.8" r="2.3"/><circle cx="351.6" cy="231.6" r="2.3"/><circle cx="351.8" cy="232.5" r="2.3"/><circle cx="352.4" cy="232.8" r="2.3"/><circle cx="352.9" cy="232.3" r="2.3"/><circle cx="353.1" cy="233.8" r="2.3"/><circle cx="353.4" cy="234.1" r="2.3"/><circle cx="355.0" cy="233.8" r="2.3"/><circle cx="355.6" cy="235.6" r="2.3"/><circle cx="356.6" cy="237.7" r="2.3"/><circle cx="356.9" cy="237.7" r="2.3"/><circle cx="358.2" cy="238.4" r="2.3"/><circle cx="358.6" cy="238.7" r="2.3"/><circle cx="359.8" cy="239.4" r="2.3"/><circle cx="361.0" cy="240.4" r="2.3"/><circle cx="361.9" cy="242.6" r="2.3"/><circle cx="362.5" cy="241.8" r="2.3"/><circle cx="363.3" cy="242.2" r="2.3"/><circle cx="364.5" cy="242.7" r="2.3"/><circle cx="364.5" cy="244.9" r="2.3"/><circle cx="364.7" cy="241.7" r="2.3"/><circle cx="364.8" cy="243.3" r="2.3"/><circle cx="365.0" cy="244.0" r="2.3"/><circle cx="365.2" cy="243.1" r="2.3"/><circle cx="365.7" cy="243.5" r="2.3"/><circle cx="367.8" cy="244.8" r="2.3"/><circle cx="368.2" cy="244.5" r="2.3"/><circle cx="370.1" cy="246.5" r="2.3"/><circle cx="370.1" cy="247.2" r="2.3"/><circle cx="370.4" cy="245.6" r="2.3"/><circle cx="371.0" cy="246.6" r="2.3"/><circle cx="371.2" cy="247.4" r="2.3"/><circle cx="372.3" cy="248.8" r="2.3"/><circle cx="376.5" cy="249.7" r="2.3"/><circle cx="376.7" cy="248.8" r="2.3"/><circle cx="377.0" cy="249.3" r="2.3"/><circle cx="378.1" cy="250.9" r="2.3"/><circle cx="378.2" cy="252.3" r="2.3"/><circle cx="378.8" cy="250.6" r="2.3"/><circle cx="379.3" cy="248.8" r="2.3"/><circle cx="379.7" cy="251.1" r="2.3"/><circle cx="380.3" cy="250.6" r="2.3"/><circle cx="381.1" cy="251.9" r="2.3"/><circle cx="381.7" cy="252.7" r="2.3"/><circle cx="382.1" cy="253.1" r="2.3"/><circle cx="383.5" cy="252.3" r="2.3"/><circle cx="384.2" cy="253.0" r="2.3"/><circle cx="384.4" cy="253.5" r="2.3"/><circle cx="385.7" cy="253.6" r="2.3"/><circle cx="386.3" cy="254.7" r="2.3"/><circle cx="388.5" cy="256.8" r="2.3"/><circle cx="391.2" cy="254.5" r="2.3"/><circle cx="391.7" cy="255.7" r="2.3"/><circle cx="391.9" cy="257.7" r="2.3"/><circle cx="392.8" cy="258.1" r="2.3"/><circle cx="395.1" cy="259.2" r="2.3"/><circle cx="396.3" cy="259.7" r="2.3"/><circle cx="401.8" cy="261.8" r="2.3"/><circle cx="403.5" cy="263.4" r="2.3"/><circle cx="404.4" cy="262.4" r="2.3"/><circle cx="405.2" cy="261.5" r="2.3"/><circle cx="407.1" cy="263.2" r="2.3"/><circle cx="409.0" cy="264.8" r="2.3"/><circle cx="410.2" cy="263.5" r="2.3"/><circle cx="413.9" cy="263.5" r="2.3"/><circle cx="417.7" cy="267.1" r="2.3"/><circle cx="422.9" cy="268.4" r="2.3"/><circle cx="424.8" cy="270.7" r="2.3"/><circle cx="428.3" cy="270.8" r="2.3"/><circle cx="435.3" cy="273.3" r="2.3"/><circle cx="441.0" cy="272.3" r="2.3"/>
</g></g>
<g clip-path="url(#cm)">
<path d="M70.6 275.3V276.8M69.6 275.3h2.0M69.6 276.8h2.0M71.0 274.2V275.7M70.0 274.2h2.0M70.0 275.7h2.0M92.6 270.8V272.2M91.6 270.8h2.0M91.6 272.2h2.0M114.3 266.4V267.9M113.3 266.4h2.0M113.3 267.9h2.0M465.4 278.1V279.6M464.4 278.1h2.0M464.4 279.6h2.0M479.4 278.9V280.4M478.4 278.9h2.0M478.4 280.4h2.0M499.1 281.5V283.1M498.1 281.5h2.0M498.1 283.1h2.0M500.8 281.7V283.2M499.8 281.7h2.0M499.8 283.2h2.0M518.7 284.1V285.6M517.7 284.1h2.0M517.7 285.6h2.0" stroke="#000000" stroke-width="0.7" fill="none" opacity="0.9"/>
<g fill="none" stroke="#000000" stroke-width="0.7" opacity="0.6">
<circle cx="70.6" cy="276.0" r="2.4"/><circle cx="71.0" cy="274.9" r="2.4"/><circle cx="92.6" cy="271.5" r="2.4"/><circle cx="114.3" cy="267.2" r="2.4"/><circle cx="116.9" cy="267.9" r="2.4"/><circle cx="127.1" cy="265.8" r="2.4"/><circle cx="139.0" cy="261.5" r="2.4"/><circle cx="139.4" cy="260.6" r="2.4"/><circle cx="145.3" cy="259.0" r="2.4"/><circle cx="153.1" cy="256.6" r="2.4"/><circle cx="157.2" cy="254.5" r="2.4"/><circle cx="166.4" cy="251.4" r="2.4"/><circle cx="197.5" cy="174.4" r="2.4"/><circle cx="201.1" cy="175.9" r="2.4"/><circle cx="203.1" cy="179.4" r="2.4"/><circle cx="203.6" cy="179.3" r="2.4"/><circle cx="206.9" cy="178.9" r="2.4"/><circle cx="215.0" cy="177.9" r="2.4"/><circle cx="227.9" cy="173.4" r="2.4"/><circle cx="239.1" cy="163.1" r="2.4"/><circle cx="245.2" cy="157.2" r="2.4"/><circle cx="245.3" cy="158.1" r="2.4"/><circle cx="247.5" cy="154.0" r="2.4"/><circle cx="261.3" cy="131.8" r="2.4"/><circle cx="278.3" cy="99.7" r="2.4"/><circle cx="282.6" cy="91.5" r="2.4"/><circle cx="285.2" cy="81.8" r="2.4"/><circle cx="290.9" cy="65.7" r="2.4"/><circle cx="312.6" cy="123.4" r="2.4"/><circle cx="316.6" cy="145.1" r="2.4"/><circle cx="320.8" cy="161.7" r="2.4"/><circle cx="323.3" cy="167.5" r="2.4"/><circle cx="325.8" cy="173.1" r="2.4"/><circle cx="350.2" cy="224.1" r="2.4"/><circle cx="366.2" cy="241.8" r="2.4"/><circle cx="372.6" cy="245.5" r="2.4"/><circle cx="384.9" cy="252.2" r="2.4"/><circle cx="386.5" cy="252.8" r="2.4"/><circle cx="389.6" cy="255.7" r="2.4"/><circle cx="394.7" cy="257.5" r="2.4"/><circle cx="413.2" cy="265.7" r="2.4"/><circle cx="414.4" cy="264.5" r="2.4"/><circle cx="418.7" cy="266.3" r="2.4"/><circle cx="418.9" cy="266.3" r="2.4"/><circle cx="448.6" cy="275.2" r="2.4"/><circle cx="451.7" cy="275.4" r="2.4"/><circle cx="465.4" cy="278.9" r="2.4"/><circle cx="471.9" cy="277.7" r="2.4"/><circle cx="479.4" cy="279.7" r="2.4"/><circle cx="484.5" cy="280.4" r="2.4"/><circle cx="488.7" cy="282.2" r="2.4"/><circle cx="491.1" cy="282.0" r="2.4"/><circle cx="491.7" cy="282.2" r="2.4"/><circle cx="498.5" cy="281.9" r="2.4"/><circle cx="499.1" cy="282.3" r="2.4"/><circle cx="500.8" cy="282.4" r="2.4"/><circle cx="509.8" cy="283.5" r="2.4"/><circle cx="518.7" cy="284.8" r="2.4"/><circle cx="292.5" cy="58.3" r="2.4"/><circle cx="185.1" cy="186.2" r="2.4"/><circle cx="187.3" cy="134.4" r="2.4"/>
</g></g>
<path clip-path="url(#cm)" d="M56.3 278.6C58.6 278.1 66.3 276.4 70.0 275.6C73.7 274.8 74.7 274.7 78.5 273.7C82.3 272.7 88.0 271.3 92.8 269.7C97.5 268.1 102.2 266.2 107.0 264.2C111.8 262.2 116.5 259.9 121.3 257.9C126.0 255.8 131.2 253.5 135.5 251.9C139.8 250.3 143.1 249.4 146.9 248.5C150.7 247.6 154.6 247.0 158.4 246.7C162.2 246.4 166.0 246.6 169.8 246.7C173.6 246.8 178.0 247.2 181.2 247.4C184.4 247.6 187.7 247.6 189.0 247.7 M189.0 247.7C189.0 246.4 189.1 244.6 189.2 240.0C189.3 235.4 189.3 235.0 189.5 220.0C189.7 205.0 189.9 165.3 190.2 150.0C190.5 134.7 191.1 134.2 191.5 128.0C191.9 121.8 192.1 116.3 192.4 113.0C192.7 109.7 193.2 108.2 193.5 108.2C193.8 108.2 194.2 110.9 194.4 113.0C194.6 115.1 194.7 116.5 194.9 121.0C195.1 125.5 195.3 135.4 195.7 140.2C196.1 145.0 196.4 146.3 197.1 150.0C197.8 153.7 198.6 158.4 199.7 162.2C200.8 166.0 201.9 169.9 203.5 172.8C205.1 175.7 207.5 178.1 209.5 179.7C211.5 181.3 213.6 181.8 215.6 182.4C217.6 183.0 219.7 183.2 221.7 183.0C223.7 182.8 225.8 182.3 227.8 181.5C229.8 180.7 231.9 179.4 233.9 178.1C235.9 176.8 238.1 175.0 240.0 173.4C241.9 171.8 243.2 170.9 245.3 168.5C247.4 166.1 250.3 163.2 252.8 159.0C255.3 154.8 258.2 148.5 260.3 143.5C262.4 138.5 263.9 134.0 265.7 128.9C267.5 123.9 269.4 118.1 271.0 113.2C272.6 108.3 274.1 104.3 275.5 99.5C276.9 94.7 278.3 89.1 279.3 84.3C280.3 79.5 280.9 75.6 281.6 70.5C282.3 65.4 282.8 59.5 283.3 53.9C283.8 48.2 284.3 41.2 284.6 36.6C284.9 32.0 285.1 28.4 285.3 26.0C285.5 23.6 285.6 22.0 285.8 22.2C286.0 22.4 286.1 23.8 286.5 27.3C286.9 30.8 287.6 37.3 288.0 43.3C288.4 49.3 288.8 55.4 289.1 63.2C289.4 71.1 289.4 79.3 289.6 90.4C289.8 101.5 290.0 114.8 290.3 130.0C290.6 145.2 291.1 172.8 291.2 181.4 M291.2 181.4C291.7 181.3 292.9 180.9 294.0 181.0C295.1 181.1 296.5 181.4 297.7 181.8C298.9 182.2 299.8 182.5 301.0 183.2C302.2 183.9 303.8 184.9 305.2 186.0C306.6 187.1 307.8 188.3 309.5 190.0C311.2 191.7 312.7 193.4 315.3 196.0C317.9 198.6 321.6 202.3 325.0 205.5C328.4 208.7 331.9 212.0 335.4 215.4C338.9 218.8 343.8 223.4 346.2 225.9C348.6 228.4 348.7 228.9 350.0 230.3C351.3 231.8 352.7 233.3 354.0 234.6C355.3 235.9 356.7 237.1 358.0 238.2C359.3 239.3 360.7 240.3 362.0 241.3C363.3 242.2 364.7 243.1 366.0 244.0C367.3 244.8 368.7 245.6 370.0 246.4C371.3 247.2 372.7 247.9 374.0 248.7C375.3 249.4 376.7 250.1 378.0 250.7C379.3 251.4 380.7 252.0 382.0 252.6C383.3 253.3 384.7 253.9 386.0 254.5C387.3 255.1 388.7 255.7 390.0 256.2C391.3 256.8 392.7 257.4 394.0 257.9C395.3 258.5 396.7 259.1 398.0 259.6C399.3 260.1 400.7 260.7 402.0 261.2C403.3 261.7 404.7 262.2 406.0 262.7C407.3 263.2 408.7 263.7 410.0 264.2C411.3 264.7 412.7 265.1 414.0 265.6C415.3 266.0 416.7 266.5 418.0 266.9C419.3 267.3 420.7 267.7 422.0 268.2C423.3 268.6 424.7 269.0 426.0 269.4C427.3 269.8 428.7 270.1 430.0 270.5C431.3 270.9 432.7 271.2 434.0 271.5C435.3 271.9 436.7 272.2 438.0 272.5C439.3 272.8 440.7 273.1 442.0 273.4C443.3 273.7 444.7 274.0 446.0 274.3C447.3 274.6 448.7 274.8 450.0 275.1C451.3 275.4 452.7 275.6 454.0 275.9C455.3 276.2 456.7 276.4 458.0 276.7C459.3 276.9 460.7 277.2 462.0 277.4C463.3 277.6 464.7 277.9 466.0 278.1C467.3 278.3 468.7 278.5 470.0 278.8C471.3 279.0 472.7 279.2 474.0 279.4C475.3 279.6 476.7 279.8 478.0 280.0C479.3 280.2 480.7 280.3 482.0 280.5C483.3 280.7 484.7 280.9 486.0 281.1C487.3 281.2 488.7 281.4 490.0 281.6C491.3 281.8 492.7 281.9 494.0 282.1C495.3 282.2 496.7 282.4 498.0 282.6C499.3 282.7 500.7 282.9 502.0 283.0C503.3 283.2 504.7 283.3 506.0 283.5C507.3 283.7 508.7 283.8 510.0 284.0C511.3 284.1 512.7 284.3 514.0 284.4C515.3 284.6 516.7 284.7 518.0 284.9C519.3 285.1 520.7 285.2 522.0 285.4C523.3 285.5 525.3 285.7 526.0 285.8" stroke="#ff0000" stroke-width="1.15" fill="none" stroke-linejoin="miter"/>
<path clip-path="url(#cm)" d="M56.1 279.0L56.5 279.0L56.9 278.9L57.3 278.8L57.7 278.7L58.1 278.6L58.5 278.6L58.9 278.5L59.3 278.4L59.7 278.3L60.1 278.3L60.5 278.2L60.9 278.1L61.2 278.0L61.6 278.0L62.0 277.9L62.4 277.8L62.8 277.7L63.2 277.6L63.6 277.6L64.0 277.5L64.4 277.4L64.8 277.3L65.2 277.3L65.6 277.2L65.9 277.1L66.3 277.0L66.7 277.0L67.1 276.9L67.5 276.8L67.9 276.7L68.3 276.6L68.7 276.6L69.1 276.5L69.5 276.4L69.9 276.3L70.3 276.3L70.6 276.2L71.0 276.1L71.4 276.0L71.8 275.9L72.2 275.9L72.6 275.8L73.0 275.7L73.4 275.6L73.8 275.6L74.2 275.5L74.6 275.4L75.0 275.3L75.3 275.3L75.7 275.2L76.1 275.1L76.5 275.0L76.9 274.9L77.3 274.9L77.7 274.8L78.1 274.7L78.5 274.6L78.9 274.6L79.3 274.5L79.7 274.4L80.0 274.3L80.4 274.3L80.8 274.2L81.2 274.1L81.6 274.0L82.0 274.0L82.4 273.9L82.8 273.8L83.2 273.7L83.6 273.7L84.0 273.6L84.4 273.5L84.7 273.4L85.1 273.4L85.5 273.3L85.9 273.2L86.3 273.1L86.7 273.0L87.1 273.0L87.5 272.9L87.9 272.8L88.3 272.7L88.7 272.7L89.1 272.6L89.4 272.5L89.8 272.4L90.2 272.4L90.6 272.3L91.0 272.2L91.4 272.1L91.8 272.0L92.2 272.0L92.6 271.9L93.0 271.8L93.4 271.7L93.8 271.7L94.1 271.6L94.5 271.5L94.9 271.4L95.3 271.3L95.7 271.3L96.1 271.2L96.5 271.1L96.9 271.0L97.3 270.9L97.7 270.8L98.1 270.8L98.5 270.7L98.8 270.6L99.2 270.5L99.6 270.4L100.0 270.3L100.4 270.3L100.8 270.2L101.2 270.1L101.6 270.0L102.0 269.9L102.4 269.8L102.8 269.7L103.2 269.6L103.5 269.5L103.9 269.4L104.3 269.4L104.7 269.3L105.1 269.2L105.5 269.1L105.9 269.0L106.3 268.9L106.7 268.8L107.1 268.7L107.5 268.6L107.9 268.5L108.2 268.4L108.6 268.3L109.0 268.2L109.4 268.1L109.8 268.0L110.2 267.9L110.6 267.8L111.0 267.7L111.4 267.6L111.8 267.5L112.2 267.5L112.6 267.4L112.9 267.3L113.3 267.2L113.7 267.1L114.1 267.0L114.5 266.9L114.9 266.8L115.3 266.7L115.7 266.6L116.1 266.6L116.5 266.5L116.9 266.4L117.3 266.3L117.6 266.2L118.0 266.1L118.4 266.1L118.8 266.0L119.2 265.9L119.6 265.8L120.0 265.7L120.4 265.7L120.8 265.6L121.2 265.5L121.6 265.4L122.0 265.4L122.3 265.3L122.7 265.2L123.1 265.1L123.5 265.0L123.9 265.0L124.3 264.9L124.7 264.8L125.1 264.7L125.5 264.6L125.9 264.5L126.3 264.5L126.7 264.4L127.0 264.3L127.4 264.2L127.8 264.1L128.2 264.0L128.6 263.9L129.0 263.8L129.4 263.7L129.8 263.7L130.2 263.6L130.6 263.5L131.0 263.4L131.4 263.3L131.7 263.2L132.1 263.0L132.5 262.9L132.9 262.8L133.3 262.7L133.7 262.6L134.1 262.5L134.5 262.4L134.9 262.3L135.3 262.2L135.7 262.1L136.1 261.9L136.4 261.8L136.8 261.7L137.2 261.6L137.6 261.5L138.0 261.4L138.4 261.2L138.8 261.1L139.2 261.0L139.6 260.9L140.0 260.8L140.4 260.6L140.8 260.5L141.1 260.4L141.5 260.3L141.9 260.1L142.3 260.0L142.7 259.9L143.1 259.8L143.5 259.6L143.9 259.5L144.3 259.4L144.7 259.3L145.1 259.1L145.5 259.0L145.8 258.9L146.2 258.8L146.6 258.6L147.0 258.5L147.4 258.4L147.8 258.3L148.2 258.1L148.6 258.0L149.0 257.9L149.4 257.7L149.8 257.6L150.2 257.5L150.6 257.3L150.9 257.2L151.3 257.1L151.7 256.9L152.1 256.8L152.5 256.7L152.9 256.5L153.3 256.4L153.7 256.3L154.1 256.1L154.5 256.0L154.9 255.9L155.3 255.7L155.6 255.6L156.0 255.4L156.4 255.3L156.8 255.2L157.2 255.0L157.6 254.9L158.0 254.7L158.4 254.6L158.8 254.4L159.2 254.3L159.6 254.1L160.0 254.0L160.3 253.8L160.7 253.7L161.1 253.5L161.5 253.4L161.9 253.2L162.3 253.0L162.7 252.9L163.1 252.7L163.5 252.5L163.9 252.4L164.3 252.2L164.7 252.0L165.0 251.9L165.4 251.7L165.8 251.5L166.2 251.3L166.6 251.2L167.0 251.0L167.4 250.8L167.8 250.6L168.2 250.5L168.6 250.3L169.0 250.1L169.4 249.9L169.7 249.8L170.1 249.6L170.5 249.4L170.9 249.2L171.3 249.1L171.7 248.9L172.1 248.7L172.5 248.5L172.9 248.4L173.3 248.2L173.7 248.0L174.1 247.9L174.4 247.7L174.8 247.5L175.2 247.4L175.6 247.2L176.0 247.1L176.4 246.9L176.8 246.7L177.2 246.6L177.6 246.4L178.0 246.2L178.4 246.1L178.8 245.9L179.1 245.7L179.5 245.5L179.9 245.4L180.3 245.2L180.7 245.0L181.1 244.9L181.5 244.7L181.9 244.5L182.3 244.4L182.7 244.2L183.0 244.1L183.0 244.1L183.0 244.0L183.0 244.0L183.0 244.0L183.1 244.0L183.1 244.0L183.1 244.0L183.1 244.0L183.1 244.0L183.2 244.0L183.2 243.9L183.2 243.9L183.2 243.9L183.3 243.9L183.3 243.9L183.3 243.9L183.3 243.9L183.4 243.9L183.4 243.8L183.4 243.8L183.4 243.8L183.4 243.8L183.5 243.8L183.5 243.8L183.5 243.8L183.5 243.8L183.5 243.7L183.6 243.7L183.6 243.7L183.6 243.7L183.6 243.7L183.7 243.7L183.7 243.7L183.7 243.6L183.7 243.6L183.8 243.6L183.8 243.6L183.8 243.6L183.8 243.6L183.8 243.6L183.9 243.6L183.9 243.6L183.9 243.6L183.9 243.5L183.9 243.5L184.0 243.5L184.0 243.5L184.0 243.4L184.0 243.4L184.1 243.4L184.1 243.3L184.1 243.3L184.1 243.2L184.2 243.2L184.2 242.6L184.2 241.4L184.2 239.9L184.2 239.1L184.3 237.3L184.3 234.4L184.3 231.9L184.3 229.5L184.3 227.2L184.4 225.0L184.4 222.9L184.4 220.9L184.4 218.9L184.5 217.0L184.5 215.1L184.5 213.3L184.5 211.6L184.6 209.9L184.6 208.3L184.6 206.7L184.6 205.1L184.6 205.0L184.7 203.6L184.7 202.1L184.7 200.7L184.7 199.3L184.7 197.9L184.8 196.6L184.8 195.3L184.8 194.0L184.8 192.7L184.9 191.5L184.9 190.3L184.9 189.1L184.9 187.9L185.0 186.7L185.0 185.6L185.0 184.5L185.0 183.7L185.0 183.4L185.1 182.3L185.1 181.3L185.1 180.3L185.1 179.3L185.1 178.3L185.2 177.3L185.2 176.4L185.2 175.4L185.2 174.5L185.3 173.6L185.3 172.8L185.3 171.9L185.3 171.0L185.4 170.2L185.4 169.4L185.4 168.6L185.4 168.3L185.4 167.8L185.5 167.0L185.5 166.2L185.5 165.5L185.5 164.7L185.5 164.0L185.6 163.3L185.6 162.6L185.6 161.9L185.6 161.2L185.7 160.6L185.7 159.9L185.7 159.3L185.7 158.6L185.8 158.0L185.8 157.4L185.8 156.7L185.8 156.7L185.8 156.1L185.9 155.4L185.9 154.8L185.9 154.1L185.9 153.5L185.9 152.8L186.0 152.2L186.0 151.6L186.0 151.0L186.0 150.3L186.1 149.8L186.1 149.2L186.1 148.6L186.1 148.0L186.2 147.4L186.2 146.9L186.2 146.5L186.2 146.3L186.2 145.7L186.3 145.2L186.3 144.7L186.3 144.1L186.3 143.6L186.3 143.1L186.4 142.6L186.4 142.2L186.4 141.7L186.4 141.3L186.5 140.9L186.5 140.5L186.5 140.1L186.5 139.7L186.6 139.3L186.6 138.9L186.6 138.8L186.6 138.5L186.6 138.2L186.7 137.8L186.7 137.5L186.7 137.1L186.7 136.8L186.7 136.4L186.8 136.1L186.8 135.8L186.8 135.4L186.8 135.1L186.9 134.8L186.9 134.5L186.9 134.2L186.9 133.9L187.0 133.6L187.0 133.3L187.0 133.3L187.0 133.0L187.0 132.7L187.1 132.5L187.1 132.2L187.1 131.9L187.1 131.7L187.1 131.4L187.2 131.2L187.2 130.9L187.2 130.7L187.2 130.5L187.3 130.2L187.3 130.0L187.3 129.8L187.3 129.6L187.4 129.4L187.4 129.3L187.4 129.2L187.4 129.0L187.4 128.8L187.5 128.6L187.5 128.4L187.5 128.2L187.5 128.0L187.5 127.8L187.6 127.6L187.6 127.4L187.6 127.3L187.6 127.1L187.7 126.9L187.7 126.7L187.7 126.6L187.7 126.4L187.8 126.2L187.8 126.2L187.8 126.1L187.8 125.9L187.8 125.8L187.9 125.6L187.9 125.4L187.9 125.2L187.9 125.1L187.9 124.9L188.0 124.7L188.0 124.6L188.0 124.4L188.0 124.3L188.1 124.2L188.1 124.1L188.1 124.0L188.1 123.9L188.2 123.8L188.2 123.8L188.2 123.7L188.2 123.6L188.2 123.6L188.3 123.5L188.3 123.4L188.3 123.3L188.3 123.3L188.3 123.2L188.4 123.2L188.4 123.2L188.4 123.2L188.4 123.2L188.5 123.2L188.5 123.2L188.5 123.2L188.5 123.3L188.5 123.3L188.6 123.3L188.6 123.4L188.6 123.5L188.6 123.5L188.7 123.6L188.7 123.7L188.7 123.8L188.7 123.9L188.7 124.0L188.8 124.1L188.8 124.2L188.8 124.3L188.8 124.5L188.9 124.7L188.9 124.9L188.9 125.1L188.9 125.4L188.9 125.4L189.0 125.6L189.0 125.9L189.0 126.2L189.0 126.5L189.1 126.7L189.1 127.0L189.1 127.4L189.1 127.7L189.1 128.1L189.2 128.5L189.2 128.9L189.2 129.3L189.2 129.8L189.3 130.3L189.3 130.8L189.3 131.4L189.3 131.9L189.3 132.1L189.4 132.9L189.4 133.6L189.4 134.4L189.4 135.1L189.5 135.7L189.5 136.3L189.5 137.0L189.5 137.5L189.5 138.1L189.6 138.7L189.6 139.2L189.6 139.6L189.6 140.1L189.7 140.5L189.7 140.9L189.7 141.2L189.7 141.4L189.7 141.6L189.8 141.9L189.8 142.3L189.8 142.6L189.8 142.9L189.9 143.2L189.9 143.5L189.9 143.9L189.9 144.2L189.9 144.5L190.0 144.8L190.0 145.1L190.0 145.4L190.0 145.7L190.1 146.0L190.1 146.2L190.1 146.5L190.1 146.5L190.1 146.8L190.2 147.1L190.2 147.3L190.2 147.6L190.2 147.9L190.3 148.1L190.3 148.4L190.3 148.7L190.3 148.9L190.3 149.2L190.4 149.4L190.4 149.7L190.4 149.9L190.4 150.1L190.5 150.4L190.5 150.6L190.5 150.8L190.5 150.8L190.5 151.1L190.6 151.3L190.6 151.5L190.6 151.7L190.6 151.9L190.7 152.1L190.7 152.3L190.7 152.5L190.7 152.6L190.7 152.8L190.8 153.0L190.8 153.2L190.8 153.4L190.8 153.5L190.9 153.7L190.9 153.9L190.9 153.9L190.9 154.0L190.9 154.2L191.0 154.4L191.0 154.5L191.0 154.7L191.0 154.8L191.1 155.0L191.1 155.1L191.1 155.2L191.1 155.4L191.1 155.5L191.2 155.6L191.2 155.8L191.2 155.9L191.2 156.0L191.3 156.1L191.3 156.2L191.3 156.3L191.3 156.4L191.3 156.5L191.4 156.6L191.4 156.7L191.4 156.8L191.4 156.9L191.5 157.1L191.5 157.2L191.5 157.3L191.5 157.4L191.5 157.5L191.6 157.6L191.6 157.7L191.6 157.8L191.6 157.9L191.7 158.0L191.7 158.1L191.7 158.1L191.7 158.2L191.7 158.3L191.8 158.4L191.8 158.5L191.8 158.6L191.8 158.7L191.9 158.8L191.9 158.9L191.9 159.0L191.9 159.1L191.9 159.2L192.0 159.3L192.0 159.3L192.0 159.4L192.0 159.5L192.1 159.6L192.1 159.6L192.1 159.7L192.1 159.8L192.1 159.9L192.2 160.0L192.2 160.0L192.2 160.1L192.2 160.2L192.3 160.3L192.3 160.4L192.3 160.5L192.3 160.6L192.3 160.6L192.5 161.0L192.9 162.4L193.2 163.7L193.6 165.1L194.0 166.4L194.4 167.6L194.8 168.7L195.2 169.8L195.6 170.7L196.0 171.5L196.4 172.1L196.8 172.8L197.2 173.4L197.6 173.9L197.9 174.4L198.3 174.9L198.7 175.4L199.1 175.8L199.5 176.2L199.9 176.5L200.3 176.9L200.7 177.2L201.1 177.5L201.5 177.8L201.9 178.1L202.3 178.3L202.6 178.5L203.0 178.8L203.4 179.0L203.8 179.1L204.2 179.3L204.6 179.4L205.0 179.6L205.4 179.7L205.8 179.8L206.2 179.9L206.6 180.0L207.0 180.1L207.3 180.2L207.7 180.2L208.1 180.3L208.5 180.3L208.9 180.4L209.3 180.4L209.7 180.5L210.1 180.5L210.5 180.5L210.9 180.6L211.3 180.6L211.7 180.6L212.0 180.6L212.4 180.6L212.8 180.6L213.2 180.5L213.6 180.5L214.0 180.5L214.4 180.4L214.8 180.4L215.2 180.3L215.6 180.2L216.0 180.2L216.4 180.1L216.7 180.0L217.1 179.9L217.5 179.8L217.9 179.7L218.3 179.6L218.7 179.5L219.1 179.4L219.5 179.3L219.9 179.1L220.3 179.0L220.7 178.8L221.1 178.7L221.4 178.5L221.8 178.4L222.2 178.2L222.6 178.0L223.0 177.9L223.4 177.7L223.8 177.5L224.2 177.3L224.6 177.1L225.0 176.9L225.4 176.6L225.8 176.4L226.1 176.2L226.5 176.0L226.9 175.7L227.3 175.5L227.7 175.3L228.1 175.0L228.5 174.8L228.9 174.5L229.3 174.2L229.7 174.0L230.1 173.7L230.5 173.4L230.8 173.1L231.2 172.8L231.6 172.5L232.0 172.2L232.4 171.9L232.8 171.6L233.2 171.3L233.6 170.9L234.0 170.6L234.4 170.3L234.8 170.0L235.2 169.6L235.5 169.3L235.9 168.9L236.3 168.6L236.7 168.2L237.1 167.9L237.5 167.5L237.9 167.1L238.3 166.7L238.7 166.3L239.1 165.9L239.5 165.5L239.9 165.0L240.2 164.6L240.6 164.2L241.0 163.7L241.4 163.3L241.8 162.8L242.2 162.4L242.6 161.9L243.0 161.5L243.4 161.0L243.8 160.5L244.2 160.0L244.6 159.5L245.0 159.0L245.3 158.5L245.7 158.0L246.1 157.5L246.5 157.0L246.9 156.5L247.3 156.0L247.7 155.4L248.1 154.9L248.5 154.3L248.9 153.8L249.3 153.2L249.7 152.6L250.0 152.1L250.4 151.5L250.8 150.8L251.2 150.2L251.6 149.6L252.0 149.0L252.4 148.4L252.8 147.7L253.2 147.1L253.6 146.5L254.0 145.8L254.4 145.2L254.7 144.5L255.1 143.9L255.5 143.2L255.9 142.5L256.3 141.8L256.7 141.1L257.1 140.5L257.5 139.8L257.9 139.1L258.3 138.3L258.7 137.6L259.1 136.9L259.4 136.2L259.8 135.4L260.2 134.7L260.6 133.9L261.0 133.2L261.4 132.4L261.8 131.6L262.2 130.8L262.6 130.0L263.0 129.1L263.4 128.3L263.8 127.4L264.1 126.6L264.5 125.7L264.9 124.9L265.3 124.0L265.7 123.2L266.1 122.4L266.5 121.6L266.9 120.8L267.3 120.1L267.7 119.3L268.1 118.5L268.5 117.8L268.8 117.1L269.2 116.3L269.6 115.6L270.0 114.8L270.4 114.1L270.8 113.4L271.2 112.6L271.6 111.9L272.0 111.2L272.4 110.4L272.8 109.7L273.2 109.0L273.5 108.3L273.9 107.5L274.3 106.8L274.7 106.1L275.1 105.4L275.5 104.7L275.9 104.0L276.3 103.3L276.7 102.5L277.1 101.8L277.5 101.0L277.9 100.3L278.2 99.5L278.6 98.7L279.0 97.9L279.4 97.1L279.8 96.3L280.2 95.4L280.6 94.5L281.0 93.7L281.4 92.8L281.8 91.9L282.2 91.0L282.6 90.1L282.9 89.3L283.3 88.4L283.7 87.5L284.1 86.6L284.5 85.8L284.9 84.9L285.3 84.0L285.7 83.1L286.1 82.1L286.3 81.7L286.3 81.5L286.4 81.3L286.5 81.2L286.5 81.2L286.5 81.0L286.6 80.9L286.7 80.7L286.7 80.5L286.8 80.4L286.8 80.2L286.9 80.2L286.9 80.0L287.0 79.9L287.0 79.7L287.1 79.5L287.2 79.4L287.2 79.2L287.3 79.1L287.3 79.0L287.3 78.9L287.4 78.7L287.5 78.5L287.5 78.4L287.6 78.2L287.6 78.1L287.7 78.0L287.7 77.8L287.8 77.7L287.8 77.5L287.9 77.3L288.0 77.1L288.0 77.0L288.0 77.0L288.1 76.8L288.2 76.6L288.2 76.4L288.3 76.2L288.4 76.0L288.4 75.9L288.4 75.8L288.5 75.7L288.5 75.5L288.6 75.3L288.7 75.1L288.7 74.9L288.8 74.7L288.8 74.6L288.9 74.5L288.9 74.3L289.0 74.1L289.0 73.9L289.1 73.7L289.2 73.5L289.2 73.4L289.2 73.3L289.3 73.1L289.4 72.9L289.4 72.7L289.5 72.5L289.5 72.2L289.6 72.0L289.6 72.0L289.7 71.8L289.7 71.6L289.8 71.4L289.9 71.1L289.9 70.9L290.0 70.7L290.0 70.6L290.0 70.4L290.1 70.2L290.2 69.9L290.2 69.7L290.3 69.5L290.4 69.2L290.4 69.1L290.4 69.0L290.5 68.7L290.6 68.5L290.6 68.2L290.7 68.0L290.7 67.7L290.8 67.5L290.8 67.4L290.9 67.2L290.9 66.9L291.0 66.6L291.1 66.3L291.1 66.0L291.2 65.8L291.2 65.7L291.2 65.5L291.3 65.1L291.4 64.8L291.4 64.5L291.5 64.2L291.6 63.9L291.6 63.9L291.6 63.6L291.7 63.2L291.7 62.9L291.8 62.5L291.9 62.2L291.9 61.8L292.0 61.7L292.0 61.4L292.1 61.0L292.1 60.6L292.2 60.2L292.2 59.8L292.3 59.2L292.3 58.9L292.4 58.7L292.4 58.2L292.5 57.6L292.6 57.1L292.6 56.5L292.7 55.9L292.7 55.4L292.7 55.3L292.8 54.6L292.9 53.9L292.9 53.2L293.0 52.5L293.1 51.9L293.1 51.2L293.1 51.2L293.2 50.6L293.3 50.0L293.3 49.4L293.4 48.9L293.4 48.5L293.5 48.0L293.5 47.9L293.6 47.6L293.6 47.2L293.7 46.8L293.8 46.4L293.8 45.9L293.9 45.4L293.9 45.2L293.9 45.0L294.0 44.6L294.1 44.1L294.1 43.7L294.2 43.3L294.3 42.9L294.3 42.6L294.3 42.5L294.4 42.2L294.4 41.9L294.5 41.6L294.6 41.3L294.6 40.9L294.7 40.5L294.7 40.5L294.8 40.0L294.8 39.4L294.9 38.5L294.9 37.7L295.0 37.1L295.1 36.6L295.1 36.5L295.1 36.2L295.2 35.9L295.3 35.6L295.3 35.3L295.4 35.1L295.5 34.8L295.5 34.7L295.5 34.6L295.6 34.4L295.6 34.3L295.7 34.1L295.8 34.0L295.8 33.9L295.9 33.8L295.9 33.8L296.0 33.7L296.0 33.6L296.1 33.5L296.1 33.4L296.2 33.3L296.3 33.3L296.3 33.3L296.3 33.2L296.4 33.2L296.5 33.2L296.5 33.1L296.6 33.1L296.6 33.1L296.7 33.1L296.7 33.1L296.8 33.2L296.8 33.3L296.9 33.3L297.0 33.4L297.0 33.5L297.0 33.6L297.1 33.6L297.1 33.8L297.2 33.9L297.3 34.1L297.3 34.2L297.4 34.4L297.4 34.5L297.5 34.5L297.5 34.6L297.6 34.8L297.7 34.9L297.7 35.0L297.8 35.2L297.8 35.3L297.8 35.3L297.9 35.5L298.0 35.7L298.0 35.9L298.1 36.1L298.2 36.2L298.2 36.4L298.2 36.4L298.3 36.5L298.3 36.7L298.4 36.8L298.5 37.0L298.5 37.1L298.6 37.3L298.6 37.3L298.7 37.4L298.7 37.6L298.8 37.7L298.8 37.9L298.9 38.1L299.0 38.3L299.0 38.4L299.0 38.5L299.1 38.7L299.2 38.9L299.2 39.1L299.3 39.4L299.3 39.7L299.4 39.9L299.4 39.9L299.5 40.2L299.5 40.5L299.6 40.9L299.7 41.2L299.7 41.5L299.8 41.9L299.8 41.9L299.8 42.2L299.9 42.6L300.0 42.9L300.0 43.3L300.1 43.7L300.2 44.0L300.2 44.1L300.2 44.4L300.3 44.7L300.4 45.1L300.4 45.5L300.5 45.8L300.5 46.2L300.6 46.3L300.6 46.5L300.7 46.9L300.7 47.2L300.8 47.5L300.9 47.9L300.9 48.2L301.0 48.5L301.0 48.6L301.0 48.9L301.1 49.2L301.2 49.6L301.2 49.9L301.3 50.3L301.4 50.6L301.4 50.6L301.4 51.0L301.5 51.3L301.5 51.7L301.6 52.0L301.7 52.4L301.7 52.7L301.7 52.8L301.8 53.1L301.9 53.4L301.9 53.8L302.0 54.2L302.0 54.5L302.1 54.9L302.1 55.0L302.2 55.3L302.2 55.6L302.3 56.0L302.4 56.4L302.4 56.8L302.5 57.1L302.5 57.4L302.6 57.5L302.6 57.9L302.7 58.3L302.7 58.7L302.8 59.1L302.9 59.5L302.9 59.9L302.9 59.9L303.0 60.3L303.1 60.7L303.1 61.1L303.2 61.5L303.2 62.0L303.3 62.4L303.3 62.4L303.4 62.8L303.4 63.2L303.5 63.6L303.6 64.0L303.6 64.5L303.7 64.9L303.7 65.0L303.7 65.3L303.8 65.7L303.9 66.1L303.9 66.6L304.0 67.0L304.1 67.4L304.1 67.6L304.1 67.8L304.2 68.2L304.2 68.7L304.3 69.1L304.4 69.5L304.4 69.9L304.5 70.3L304.5 70.4L304.6 70.8L304.6 71.2L304.7 71.6L304.8 72.1L304.8 72.5L304.9 72.9L304.9 73.0L304.9 73.4L305.0 73.8L305.1 74.2L305.3 75.7L305.7 78.4L306.1 81.2L306.4 83.9L306.8 86.7L307.2 89.5L307.6 92.4L308.0 95.3L308.4 98.3L308.8 101.4L309.2 104.3L309.6 107.2L310.0 109.9L310.4 112.4L310.8 114.7L311.1 117.0L311.5 119.2L311.9 121.3L312.3 123.4L312.7 125.4L313.1 127.4L313.5 129.3L313.9 131.1L314.3 133.0L314.7 134.8L315.1 136.5L315.5 138.3L315.8 140.0L316.2 141.8L316.6 143.5L317.0 145.2L317.4 146.8L317.8 148.5L318.2 150.1L318.6 151.7L319.0 153.2L319.4 154.8L319.8 156.3L320.2 157.8L320.5 159.3L320.9 160.7L321.3 162.1L321.7 163.4L322.1 164.8L322.5 166.1L322.9 167.3L323.3 168.5L323.7 169.7L324.1 170.9L324.5 172.0L324.9 173.1L325.2 174.2L325.6 175.2L326.0 176.2L326.4 177.3L326.8 178.3L327.2 179.3L327.6 180.3L328.0 181.2L328.4 182.2L328.8 183.2L329.2 184.2L329.6 185.1L329.9 186.1L330.3 187.1L330.7 188.0L331.1 189.0L331.5 189.9L331.9 190.8L332.3 191.7L332.7 192.6L333.1 193.5L333.5 194.4L333.9 195.2L334.3 196.0L334.6 196.9L335.0 197.7L335.4 198.5L335.8 199.3L336.2 200.0L336.6 200.8L337.0 201.5L337.4 202.3L337.8 203.0L338.2 203.8L338.6 204.5L339.0 205.2L339.4 206.0L339.7 206.7L340.1 207.4L340.5 208.1L340.9 208.8L341.3 209.5L341.7 210.3L342.1 211.0L342.5 211.7L342.9 212.4L343.3 213.1L343.7 213.8L344.1 214.4L344.4 215.1L344.8 215.8L345.2 216.4L345.6 217.1L346.0 217.7L346.4 218.3L346.8 219.0L347.2 219.6L347.6 220.2L348.0 220.8L348.4 221.4L348.8 222.0L349.1 222.6L349.5 223.1L349.9 223.7L350.3 224.3L350.7 224.8L351.1 225.4L351.5 225.9L351.9 226.4L352.3 226.9L352.7 227.4L353.1 227.9L353.5 228.4L353.8 228.9L354.2 229.3L354.6 229.8L355.0 230.3L355.4 230.7L355.8 231.2L356.2 231.6L356.6 232.0L357.0 232.4L357.4 232.9L357.8 233.3L358.2 233.7L358.5 234.1L358.9 234.5L359.3 234.9L359.7 235.2L360.1 235.6L360.5 236.0L360.9 236.3L361.3 236.7L361.7 237.0L362.1 237.4L362.5 237.7L362.9 238.1L363.2 238.4L363.6 238.7L364.0 239.1L364.4 239.4L364.8 239.7L365.2 240.0L365.6 240.3L366.0 240.6L366.4 240.9L366.8 241.2L367.2 241.5L367.6 241.8L367.9 242.1L368.3 242.4L368.7 242.7L369.1 243.0L369.5 243.2L369.9 243.5L370.3 243.8L370.7 244.1L371.1 244.3L371.5 244.6L371.9 244.9L372.3 245.1L372.6 245.4L373.0 245.6L373.4 245.9L373.8 246.1L374.2 246.4L374.6 246.6L375.0 246.9L375.4 247.1L375.8 247.4L376.2 247.6L376.6 247.8L377.0 248.1L377.3 248.3L377.7 248.5L378.1 248.8L378.5 249.0L378.9 249.2L379.3 249.4L379.7 249.6L380.1 249.9L380.5 250.1L380.9 250.3L381.3 250.5L381.7 250.7L382.0 250.9L382.4 251.1L382.8 251.4L383.2 251.6L383.6 251.8L384.0 252.0L384.4 252.2L384.8 252.4L385.2 252.6L385.6 252.8L386.0 253.0L386.4 253.2L386.7 253.4L387.1 253.6L387.5 253.8L387.9 254.0L388.3 254.2L388.7 254.4L389.1 254.6L389.5 254.8L389.9 254.9L390.3 255.1L390.7 255.3L391.1 255.5L391.4 255.7L391.8 255.9L392.2 256.1L392.6 256.3L393.0 256.4L393.4 256.6L393.8 256.8L394.2 257.0L394.6 257.2L395.0 257.3L395.4 257.5L395.8 257.7L396.1 257.9L396.5 258.1L396.9 258.2L397.3 258.4L397.7 258.6L398.1 258.8L398.5 258.9L398.9 259.1L399.3 259.3L399.7 259.4L400.1 259.6L400.5 259.8L400.8 259.9L401.2 260.1L401.6 260.3L402.0 260.4L402.4 260.6L402.8 260.8L403.2 260.9L403.6 261.1L404.0 261.3L404.4 261.4L404.8 261.6L405.2 261.7L405.5 261.9L405.9 262.1L406.3 262.2L406.7 262.4L407.1 262.5L407.5 262.7L407.9 262.8L408.3 263.0L408.7 263.2L409.1 263.3L409.5 263.5L409.9 263.6L410.2 263.8L410.6 263.9L411.0 264.0L411.4 264.2L411.8 264.3L412.2 264.5L412.6 264.6L413.0 264.8L413.4 264.9L413.8 265.0L414.2 265.2L414.6 265.3L414.9 265.4L415.3 265.6L415.7 265.7L416.1 265.9L416.5 266.0L416.9 266.1L417.3 266.3L417.7 266.4L418.1 266.5L418.5 266.7L418.9 266.8L419.3 266.9L419.6 267.1L420.0 267.2L420.4 267.3L420.8 267.5L421.2 267.6L421.6 267.7L422.0 267.8L422.4 268.0L422.8 268.1L423.2 268.2L423.6 268.3L424.0 268.5L424.3 268.6L424.7 268.7L425.1 268.8L425.5 268.9L425.9 269.1L426.3 269.2L426.7 269.3L427.1 269.4L427.5 269.5L427.9 269.6L428.3 269.8L428.7 269.9L429.0 270.0L429.4 270.1L429.8 270.2L430.2 270.3L430.6 270.4L431.0 270.5L431.4 270.6L431.8 270.8L432.2 270.9L432.6 271.0L433.0 271.1L433.4 271.2L433.8 271.3L434.1 271.4L434.5 271.5L434.9 271.6L435.3 271.7L435.7 271.8L436.1 271.9L436.5 272.0L436.9 272.1L437.3 272.2L437.7 272.3L438.1 272.3L438.5 272.4L438.8 272.5L439.2 272.6L439.6 272.7L440.0 272.8L440.4 272.9L440.8 273.0L441.2 273.1L441.6 273.2L442.0 273.3L442.4 273.4L442.8 273.4L443.2 273.5L443.5 273.6L443.9 273.7L444.3 273.8L444.7 273.9L445.1 274.0L445.5 274.0L445.9 274.1L446.3 274.2L446.7 274.3L447.1 274.4L447.5 274.5L447.9 274.5L448.2 274.6L448.6 274.7L449.0 274.8L449.4 274.9L449.8 275.0L450.2 275.0L450.6 275.1L451.0 275.2L451.4 275.3L451.8 275.4L452.2 275.4L452.6 275.5L452.9 275.6L453.3 275.7L453.7 275.8L454.1 275.8L454.5 275.9L454.9 276.0L455.3 276.1L455.7 276.1L456.1 276.2L456.5 276.3L456.9 276.4L457.3 276.5L457.6 276.5L458.0 276.6L458.4 276.7L458.8 276.8L459.2 276.8L459.6 276.9L460.0 277.0L460.4 277.0L460.8 277.1L461.2 277.2L461.6 277.3L462.0 277.3L462.3 277.4L462.7 277.5L463.1 277.5L463.5 277.6L463.9 277.7L464.3 277.8L464.7 277.8L465.1 277.9L465.5 278.0L465.9 278.0L466.3 278.1L466.7 278.2L467.0 278.2L467.4 278.3L467.8 278.4L468.2 278.4L468.6 278.5L469.0 278.6L469.4 278.6L469.8 278.7L470.2 278.7L470.6 278.8L471.0 278.9L471.4 278.9L471.7 279.0L472.1 279.1L472.5 279.1L472.9 279.2L473.3 279.2L473.7 279.3L474.1 279.4L474.5 279.4L474.9 279.5L475.3 279.5L475.7 279.6L476.1 279.6L476.4 279.7L476.8 279.8L477.2 279.8L477.6 279.9L478.0 279.9L478.4 280.0L478.8 280.0L479.2 280.1L479.6 280.2L480.0 280.2L480.4 280.3L480.8 280.3L481.1 280.4L481.5 280.4L481.9 280.5L482.3 280.5L482.7 280.6L483.1 280.6L483.5 280.7L483.9 280.7L484.3 280.8L484.7 280.9L485.1 280.9L485.5 281.0L485.8 281.0L486.2 281.1L486.6 281.1L487.0 281.2L487.4 281.2L487.8 281.3L488.2 281.3L488.6 281.4L489.0 281.4L489.4 281.5L489.8 281.5L490.2 281.6L490.5 281.6L490.9 281.7L491.3 281.7L491.7 281.8L492.1 281.8L492.5 281.9L492.9 281.9L493.3 282.0L493.7 282.0L494.1 282.1L494.5 282.1L494.9 282.2L495.2 282.2L495.6 282.3L496.0 282.3L496.4 282.4L496.8 282.4L497.2 282.5L497.6 282.5L498.0 282.5L498.4 282.6L498.8 282.6L499.2 282.7L499.6 282.7L499.9 282.8L500.3 282.8L500.7 282.9L501.1 282.9L501.5 283.0L501.9 283.0L502.3 283.1L502.7 283.1L503.1 283.1L503.5 283.2L503.9 283.2L504.3 283.3L504.6 283.3L505.0 283.4L505.4 283.4L505.8 283.5L506.2 283.5L506.6 283.6L507.0 283.6L507.4 283.7L507.8 283.7L508.2 283.8L508.6 283.8L509.0 283.8L509.3 283.9L509.7 283.9L510.1 284.0L510.5 284.0L510.9 284.1L511.3 284.1L511.7 284.2L512.1 284.2L512.5 284.3L512.9 284.3L513.3 284.3L513.7 284.4L514.0 284.4L514.4 284.5L514.8 284.5L515.2 284.6L515.6 284.6L516.0 284.7L516.4 284.7L516.8 284.8L517.2 284.8L517.6 284.8L518.0 284.9L518.4 284.9L518.7 285.0L519.1 285.0L519.5 285.1L519.9 285.1L520.3 285.2L520.7 285.2L521.1 285.2L521.5 285.3L521.9 285.3L522.3 285.4L522.7 285.4L523.1 285.5L523.4 285.5L523.8 285.6L524.2 285.6L524.6 285.6L525.0 285.7L525.4 285.7L525.8 285.8" stroke="#000" stroke-width="1.2" fill="none" stroke-linejoin="round"/>
<rect x="357.3" y="20.0" width="164.4" height="70.5" fill="#fff"/>
<g clip-path="url(#c1)">
<path d="" stroke="#d4dd80" stroke-width="0.8" fill="none" opacity="0.9"/>
<g fill="none" stroke="#d4dd80" stroke-width="0.7" opacity="0.65">

</g></g>
<g clip-path="url(#c1)">
<path d="" stroke="#2adddd" stroke-width="0.8" fill="none" opacity="0.9"/>
<g fill="none" stroke="#2adddd" stroke-width="0.7" opacity="0.65">

</g></g>
<g clip-path="url(#c1)">
<path d="" stroke="#8000ff" stroke-width="0.8" fill="none" opacity="0.9"/>
<g fill="none" stroke="#8000ff" stroke-width="0.7" opacity="0.65">
<circle cx="493.5" cy="37.5" r="2.7"/><circle cx="498.3" cy="39.2" r="2.7"/><circle cx="500.9" cy="40.1" r="2.7"/><circle cx="505.3" cy="41.0" r="2.7"/><circle cx="508.7" cy="42.2" r="2.7"/>
</g></g>
<g clip-path="url(#c1)">
<path d="" stroke="#000000" stroke-width="0.8" fill="none" opacity="0.9"/>
<g fill="none" stroke="#000000" stroke-width="0.7" opacity="0.5">
<circle cx="378.9" cy="61.8" r="2.7"/><circle cx="431.2" cy="32.3" r="2.7"/>
</g></g>
<path clip-path="url(#c1)" d="M357.3 94.3L357.8 94.3L358.4 94.0L358.9 93.4L359.5 92.5L360.0 91.2L360.6 89.5L361.1 88.0L361.7 86.6L362.2 85.3L362.8 84.1L363.3 82.9L363.9 81.7L364.4 80.6L365.0 79.5L365.5 78.4L366.1 77.4L366.6 76.4L367.2 75.4L367.7 74.5L368.3 73.6L368.8 72.7L369.4 71.8L369.9 71.0L370.5 70.2L371.0 69.4L371.6 68.6L372.1 67.8L372.7 67.1L373.2 66.3L373.8 65.6L374.3 64.9L374.9 64.2L375.4 63.5L376.0 62.8L376.5 62.2L377.1 61.5L377.6 60.9L378.2 60.3L378.7 59.7L379.3 59.1L379.8 58.5L380.4 57.9L380.9 57.4L381.5 56.8L382.0 56.3L382.6 55.7L383.1 55.2L383.7 54.7L384.2 54.2L384.8 53.7L385.3 53.2L385.9 52.7L386.4 52.3L387.0 51.8L387.5 51.4L388.1 50.9L388.6 50.5L389.2 50.0L389.7 49.6L390.3 49.2L390.8 48.8L391.4 48.4L391.9 48.0L392.5 47.6L393.0 47.2L393.6 46.9L394.1 46.5L394.7 46.1L395.2 45.8L395.8 45.4L396.3 45.0L396.9 44.7L397.4 44.3L398.0 43.9L398.5 43.6L399.1 43.2L399.6 42.8L400.2 42.5L400.7 42.1L401.3 41.8L401.8 41.4L402.4 41.1L402.9 40.7L403.5 40.4L404.0 40.1L404.6 39.7L405.1 39.4L405.7 39.1L406.2 38.8L406.8 38.5L407.3 38.2L407.9 37.9L408.4 37.6L409.0 37.3L409.5 37.0L410.1 36.7L410.6 36.5L411.2 36.2L411.7 36.0L412.3 35.8L412.8 35.5L413.4 35.3L413.9 35.1L414.5 34.9L415.0 34.7L415.6 34.5L416.1 34.2L416.7 34.0L417.2 33.9L417.8 33.7L418.3 33.5L418.9 33.3L419.4 33.1L420.0 32.9L420.5 32.7L421.1 32.5L421.6 32.4L422.2 32.2L422.7 32.0L423.3 31.8L423.8 31.7L424.4 31.5L424.9 31.4L425.5 31.2L426.0 31.0L426.6 30.9L427.1 30.7L427.7 30.6L428.2 30.5L428.8 30.3L429.3 30.2L429.9 30.1L430.4 29.9L431.0 29.8L431.5 29.7L432.1 29.6L432.6 29.4L433.2 29.3L433.7 29.2L434.3 29.1L434.8 29.0L435.4 28.9L435.9 28.8L436.5 28.6L437.0 28.5L437.6 28.4L438.1 28.3L438.7 28.2L439.2 28.1L439.8 28.0L440.3 27.9L440.9 27.8L441.4 27.7L442.0 27.7L442.5 27.6L443.1 27.5L443.6 27.4L444.2 27.3L444.7 27.2L445.3 27.1L445.8 27.0L446.4 26.9L446.9 26.8L447.5 26.7L448.0 26.6L448.6 26.6L449.1 26.5L449.7 26.4L450.2 26.4L450.8 26.3L451.3 26.3L451.9 26.2L452.4 26.2L453.0 26.1L453.5 26.1L454.1 26.0L454.6 26.0L455.2 26.0L455.7 25.9L456.3 25.9L456.8 25.9L457.4 25.9L457.9 25.9L458.5 25.9L459.0 25.9L459.6 25.9L460.1 26.0L460.7 26.0L461.2 26.0L461.8 26.1L462.3 26.1L462.9 26.2L463.4 26.2L464.0 26.3L464.5 26.3L465.1 26.4L465.6 26.4L466.2 26.5L466.7 26.6L467.3 26.7L467.8 26.8L468.4 26.9L468.9 27.0L469.5 27.2L470.0 27.3L470.6 27.5L471.1 27.6L471.7 27.8L472.2 27.9L472.8 28.1L473.3 28.3L473.9 28.5L474.4 28.7L475.0 28.9L475.5 29.2L476.1 29.4L476.6 29.7L477.2 30.0L477.7 30.3L478.3 30.6L478.8 31.0L479.4 31.5L479.9 31.9L480.5 32.3L481.0 32.7L481.6 33.1L482.1 33.4L482.7 33.8L483.2 34.1L483.8 34.4L484.3 34.8L484.9 35.0L485.4 35.3L486.0 35.5L486.5 35.8L487.1 36.0L487.6 36.2L488.2 36.4L488.7 36.6L489.3 36.8L489.8 37.0L490.4 37.2L490.9 37.3L491.5 37.5L492.0 37.7L492.6 37.9L493.1 38.1L493.7 38.2L494.2 38.4L494.8 38.6L495.3 38.7L495.9 38.9L496.4 39.1L497.0 39.2L497.5 39.4L498.1 39.5L498.6 39.7L499.2 39.8L499.7 40.0L500.3 40.1L500.8 40.3L501.4 40.4L501.9 40.6L502.5 40.7L503.0 40.9L503.6 41.0L504.1 41.1L504.7 41.3L505.2 41.4L505.8 41.5L506.3 41.7L506.9 41.8L507.4 41.9L508.0 42.0L508.5 42.2L509.1 42.3L509.6 42.4L510.2 42.5L510.7 42.6L511.3 42.7L511.8 42.8L512.4 42.9L512.9 43.0L513.5 43.1L514.0 43.2L514.6 43.3L515.1 43.4L515.7 43.5L516.2 43.6L516.8 43.7L517.3 43.8L517.9 43.9L518.4 43.9L519.0 44.0L519.5 44.1L520.1 44.2L520.6 44.3L521.2 44.3L521.7 44.4" stroke="#000" stroke-width="1.25" fill="none" stroke-linejoin="round"/>
<rect x="357.3" y="122.0" width="164.4" height="70.2" fill="#fff"/>
<g clip-path="url(#c2)">
<path d="M459.0 145.9V148.7M458.0 145.9h2.0M458.0 148.7h2.0" stroke="#d4dd80" stroke-width="0.8" fill="none" opacity="0.9"/>
<g fill="none" stroke="#d4dd80" stroke-width="0.7" opacity="0.65">
<circle cx="459.0" cy="147.3" r="2.7"/>
</g></g>
<g clip-path="url(#c2)">
<path d="" stroke="#2adddd" stroke-width="0.8" fill="none" opacity="0.9"/>
<g fill="none" stroke="#2adddd" stroke-width="0.7" opacity="0.65">
<circle cx="357.6" cy="182.0" r="2.7"/><circle cx="407.0" cy="156.0" r="2.7"/><circle cx="408.7" cy="155.4" r="2.7"/><circle cx="419.1" cy="151.6" r="2.7"/><circle cx="419.4" cy="154.2" r="2.7"/><circle cx="427.7" cy="153.4" r="2.7"/><circle cx="429.5" cy="150.8" r="2.7"/><circle cx="432.0" cy="149.0" r="2.7"/><circle cx="434.7" cy="147.3" r="2.7"/><circle cx="436.4" cy="149.0" r="2.7"/><circle cx="464.6" cy="146.4" r="2.7"/><circle cx="467.2" cy="146.4" r="2.7"/><circle cx="475.0" cy="144.4" r="2.7"/><circle cx="477.6" cy="145.6" r="2.7"/><circle cx="480.2" cy="146.8" r="2.7"/><circle cx="485.4" cy="146.8" r="2.7"/><circle cx="488.0" cy="147.8" r="2.7"/><circle cx="490.5" cy="146.8" r="2.7"/><circle cx="513.0" cy="152.5" r="2.7"/><circle cx="517.4" cy="153.0" r="2.7"/><circle cx="520.8" cy="153.7" r="2.7"/>
</g></g>
<g clip-path="url(#c2)">
<path d="" stroke="#8000ff" stroke-width="0.8" fill="none" opacity="0.9"/>
<g fill="none" stroke="#8000ff" stroke-width="0.7" opacity="0.65">
<circle cx="377.5" cy="170.3" r="2.7"/><circle cx="379.6" cy="169.5" r="2.7"/><circle cx="393.1" cy="163.4" r="2.7"/><circle cx="440.3" cy="148.2" r="2.7"/><circle cx="451.9" cy="146.1" r="2.7"/>
</g></g>
<g clip-path="url(#c2)">
<path d="" stroke="#000000" stroke-width="0.8" fill="none" opacity="0.9"/>
<g fill="none" stroke="#000000" stroke-width="0.7" opacity="0.5">
<circle cx="366.3" cy="178.5" r="2.7"/>
</g></g>
<path clip-path="url(#c2)" d="M357.3 181.4L357.8 181.2L358.4 181.0L358.9 180.7L359.5 180.5L360.0 180.3L360.6 180.0L361.1 179.7L361.7 179.5L362.2 179.2L362.8 178.9L363.3 178.7L363.9 178.4L364.4 178.1L365.0 177.9L365.5 177.6L366.1 177.3L366.6 177.1L367.2 176.8L367.7 176.5L368.3 176.2L368.8 175.9L369.4 175.7L369.9 175.4L370.5 175.1L371.0 174.7L371.6 174.4L372.1 174.1L372.7 173.7L373.2 173.4L373.8 173.0L374.3 172.7L374.9 172.3L375.4 172.0L376.0 171.6L376.5 171.3L377.1 170.9L377.6 170.6L378.2 170.3L378.7 170.0L379.3 169.6L379.8 169.3L380.4 169.0L380.9 168.7L381.5 168.4L382.0 168.1L382.6 167.8L383.1 167.5L383.7 167.2L384.2 166.9L384.8 166.6L385.3 166.4L385.9 166.1L386.4 165.9L387.0 165.7L387.5 165.5L388.1 165.3L388.6 165.0L389.2 164.8L389.7 164.6L390.3 164.4L390.8 164.2L391.4 164.0L391.9 163.8L392.5 163.6L393.0 163.4L393.6 163.2L394.1 163.0L394.7 162.8L395.2 162.5L395.8 162.3L396.3 162.1L396.9 161.9L397.4 161.6L398.0 161.4L398.5 161.2L399.1 161.0L399.6 160.7L400.2 160.5L400.7 160.3L401.3 160.1L401.8 159.9L402.4 159.7L402.9 159.4L403.5 159.2L404.0 159.0L404.6 158.8L405.1 158.6L405.7 158.4L406.2 158.2L406.8 158.0L407.3 157.9L407.9 157.7L408.4 157.5L409.0 157.4L409.5 157.2L410.1 157.1L410.6 156.9L411.2 156.8L411.7 156.7L412.3 156.5L412.8 156.3L413.4 156.2L413.9 156.0L414.5 155.8L415.0 155.6L415.6 155.4L416.1 155.2L416.7 155.0L417.2 154.8L417.8 154.5L418.3 154.3L418.9 154.0L419.4 153.7L420.0 153.3L420.5 152.9L421.1 152.4L421.6 151.9L422.2 151.5L422.7 151.2L423.3 150.9L423.8 150.6L424.4 150.3L424.9 150.0L425.5 149.8L426.0 149.6L426.6 149.4L427.1 149.2L427.7 149.1L428.2 148.9L428.8 148.8L429.3 148.6L429.9 148.5L430.4 148.4L431.0 148.3L431.5 148.1L432.1 148.0L432.6 147.9L433.2 147.7L433.7 147.6L434.3 147.5L434.8 147.4L435.4 147.3L435.9 147.2L436.5 147.1L437.0 147.0L437.6 146.9L438.1 146.8L438.7 146.7L439.2 146.7L439.8 146.6L440.3 146.5L440.9 146.5L441.4 146.4L442.0 146.4L442.5 146.3L443.1 146.3L443.6 146.2L444.2 146.1L444.7 146.1L445.3 146.0L445.8 146.0L446.4 145.9L446.9 145.9L447.5 145.8L448.0 145.8L448.6 145.7L449.1 145.7L449.7 145.6L450.2 145.6L450.8 145.5L451.3 145.5L451.9 145.5L452.4 145.4L453.0 145.4L453.5 145.4L454.1 145.4L454.6 145.4L455.2 145.3L455.7 145.3L456.3 145.3L456.8 145.3L457.4 145.3L457.9 145.3L458.5 145.2L459.0 145.2L459.6 145.2L460.1 145.2L460.7 145.2L461.2 145.2L461.8 145.2L462.3 145.2L462.9 145.2L463.4 145.2L464.0 145.2L464.5 145.3L465.1 145.3L465.6 145.3L466.2 145.4L466.7 145.4L467.3 145.4L467.8 145.5L468.4 145.5L468.9 145.6L469.5 145.6L470.0 145.7L470.6 145.7L471.1 145.7L471.7 145.8L472.2 145.9L472.8 145.9L473.3 146.0L473.9 146.1L474.4 146.1L475.0 146.2L475.5 146.3L476.1 146.4L476.6 146.4L477.2 146.5L477.7 146.6L478.3 146.7L478.8 146.7L479.4 146.8L479.9 146.9L480.5 146.9L481.0 147.0L481.6 147.1L482.1 147.1L482.7 147.2L483.2 147.2L483.8 147.3L484.3 147.4L484.9 147.4L485.4 147.5L486.0 147.6L486.5 147.6L487.1 147.7L487.6 147.8L488.2 147.8L488.7 147.9L489.3 148.0L489.8 148.1L490.4 148.2L490.9 148.3L491.5 148.4L492.0 148.4L492.6 148.5L493.1 148.6L493.7 148.7L494.2 148.8L494.8 148.9L495.3 149.0L495.9 149.1L496.4 149.2L497.0 149.3L497.5 149.3L498.1 149.4L498.6 149.5L499.2 149.6L499.7 149.6L500.3 149.7L500.8 149.8L501.4 149.9L501.9 149.9L502.5 150.0L503.0 150.1L503.6 150.2L504.1 150.2L504.7 150.3L505.2 150.4L505.8 150.5L506.3 150.5L506.9 150.6L507.4 150.7L508.0 150.8L508.5 150.8L509.1 150.9L509.6 151.0L510.2 151.1L510.7 151.1L511.3 151.2L511.8 151.3L512.4 151.4L512.9 151.4L513.5 151.5L514.0 151.6L514.6 151.7L515.1 151.8L515.7 151.9L516.2 152.0L516.8 152.1L517.3 152.2L517.9 152.3L518.4 152.4L519.0 152.5L519.5 152.6L520.1 152.7L520.6 152.8L521.2 152.9L521.7 153.0" stroke="#000" stroke-width="1.25" fill="none" stroke-linejoin="round"/>
<g clip-path="url(#cr)">
<path d="M63.3 360.3V380.9M62.2 360.3h2.2M62.2 380.9h2.2M66.1 346.5V396.6M65.0 346.5h2.2M65.0 396.6h2.2M66.2 367.1V407.6M65.1 367.1h2.2M65.1 407.6h2.2M72.9 369.7V400.7M71.8 369.7h2.2M71.8 400.7h2.2M73.4 376.5V397.4M72.3 376.5h2.2M72.3 397.4h2.2M73.5 381.0V395.8M72.4 381.0h2.2M72.4 395.8h2.2M77.7 371.9V408.2M76.6 371.9h2.2M76.6 408.2h2.2M78.1 380.1V417.1M77.0 380.1h2.2M77.0 417.1h2.2M84.6 368.1V397.6M83.5 368.1h2.2M83.5 397.6h2.2M85.0 366.4V400.2M83.9 366.4h2.2M83.9 400.2h2.2M101.6 381.9V417.2M100.5 381.9h2.2M100.5 417.2h2.2M108.4 351.1V391.2M107.3 351.1h2.2M107.3 391.2h2.2M111.0 367.9V403.2M109.9 367.9h2.2M109.9 403.2h2.2M115.2 358.3V392.9M114.1 358.3h2.2M114.1 392.9h2.2M122.2 384.9V415.6M121.1 384.9h2.2M121.1 415.6h2.2M129.3 369.3V403.9M128.2 369.3h2.2M128.2 403.9h2.2M129.7 371.3V391.9M128.6 371.3h2.2M128.6 391.9h2.2M129.9 378.4V395.7M128.8 378.4h2.2M128.8 395.7h2.2M131.8 369.8V393.9M130.7 369.8h2.2M130.7 393.9h2.2M131.9 374.8V403.4M130.8 374.8h2.2M130.8 403.4h2.2M132.0 383.3V399.2M130.9 383.3h2.2M130.9 399.2h2.2M134.1 360.2V395.6M133.0 360.2h2.2M133.0 395.6h2.2M134.4 377.8V401.0M133.3 377.8h2.2M133.3 401.0h2.2M134.6 375.6V396.5M133.5 375.6h2.2M133.5 396.5h2.2M136.5 378.1V406.0M135.4 378.1h2.2M135.4 406.0h2.2M136.8 362.4V384.5M135.7 362.4h2.2M135.7 384.5h2.2M150.4 360.7V398.2M149.3 360.7h2.2M149.3 398.2h2.2M150.9 379.9V410.6M149.8 379.9h2.2M149.8 410.6h2.2M150.9 383.9V400.5M149.8 383.9h2.2M149.8 400.5h2.2M155.3 379.2V407.9M154.2 379.2h2.2M154.2 407.9h2.2M157.7 365.4V389.9M156.6 365.4h2.2M156.6 389.9h2.2M164.3 376.1V399.9M163.2 376.1h2.2M163.2 399.9h2.2M165.1 352.7V391.7M164.0 352.7h2.2M164.0 391.7h2.2M167.1 368.4V397.9M166.0 368.4h2.2M166.0 397.9h2.2M171.5 370.0V386.9M170.4 370.0h2.2M170.4 386.9h2.2M202.7 367.9V392.2M201.6 367.9h2.2M201.6 392.2h2.2M220.7 373.8V400.7M219.6 373.8h2.2M219.6 400.7h2.2M221.4 379.9V400.0M220.3 379.9h2.2M220.3 400.0h2.2M223.8 381.6V392.7M222.7 381.6h2.2M222.7 392.7h2.2M237.3 375.0V390.1M236.2 375.0h2.2M236.2 390.1h2.2M258.7 376.5V398.6M257.6 376.5h2.2M257.6 398.6h2.2M282.5 383.6V397.9M281.4 383.6h2.2M281.4 397.9h2.2M310.5 372.3V390.8M309.4 372.3h2.2M309.4 390.8h2.2M322.0 385.0V405.3M320.9 385.0h2.2M320.9 405.3h2.2M331.1 368.9V410.2M330.0 368.9h2.2M330.0 410.2h2.2M334.0 379.0V390.3M332.9 379.0h2.2M332.9 390.3h2.2M338.7 371.0V389.6M337.6 371.0h2.2M337.6 389.6h2.2M345.6 368.0V395.2M344.5 368.0h2.2M344.5 395.2h2.2M345.9 365.5V381.2M344.8 365.5h2.2M344.8 381.2h2.2M350.6 368.8V391.1M349.5 368.8h2.2M349.5 391.1h2.2M357.1 368.4V407.7M356.0 368.4h2.2M356.0 407.7h2.2M357.5 374.8V399.5M356.4 374.8h2.2M356.4 399.5h2.2M369.4 347.5V412.6M368.3 347.5h2.2M368.3 412.6h2.2M378.2 370.2V390.8M377.1 370.2h2.2M377.1 390.8h2.2M378.4 344.4V402.1M377.3 344.4h2.2M377.3 402.1h2.2M378.6 382.7V410.8M377.5 382.7h2.2M377.5 410.8h2.2M380.5 352.8V406.2M379.4 352.8h2.2M379.4 406.2h2.2M380.7 372.3V393.4M379.6 372.3h2.2M379.6 393.4h2.2M381.1 364.6V391.1M380.0 364.6h2.2M380.0 391.1h2.2M387.7 362.7V376.5M386.6 362.7h2.2M386.6 376.5h2.2M389.9 378.5V403.8M388.8 378.5h2.2M388.8 403.8h2.2M397.3 358.0V389.7M396.2 358.0h2.2M396.2 389.7h2.2M399.2 370.3V406.0M398.1 370.3h2.2M398.1 406.0h2.2M399.8 354.3V388.1M398.7 354.3h2.2M398.7 388.1h2.2M401.8 363.4V392.3M400.7 363.4h2.2M400.7 392.3h2.2M404.2 380.9V417.4M403.1 380.9h2.2M403.1 417.4h2.2M404.6 371.2V388.9M403.5 371.2h2.2M403.5 388.9h2.2M406.9 369.6V397.9M405.8 369.6h2.2M405.8 397.9h2.2M408.9 373.9V404.7M407.8 373.9h2.2M407.8 404.7h2.2M409.0 371.3V399.3M407.9 371.3h2.2M407.9 399.3h2.2M409.3 375.8V390.9M408.2 375.8h2.2M408.2 390.9h2.2M414.0 372.8V409.6M412.9 372.8h2.2M412.9 409.6h2.2M416.0 360.6V415.9M414.9 360.6h2.2M414.9 415.9h2.2M416.3 345.6V374.7M415.2 345.6h2.2M415.2 374.7h2.2M427.8 375.2V412.5M426.7 375.2h2.2M426.7 412.5h2.2M439.7 366.6V396.8M438.6 366.6h2.2M438.6 396.8h2.2M446.3 359.2V395.2M445.2 359.2h2.2M445.2 395.2h2.2M446.4 367.5V396.6M445.3 367.5h2.2M445.3 396.6h2.2M448.5 373.8V399.7M447.4 373.8h2.2M447.4 399.7h2.2M467.9 369.2V397.6M466.8 369.2h2.2M466.8 397.6h2.2M493.5 365.2V392.7M492.4 365.2h2.2M492.4 392.7h2.2M500.2 375.6V413.5M499.1 375.6h2.2M499.1 413.5h2.2M500.6 374.9V407.3M499.5 374.9h2.2M499.5 407.3h2.2M504.9 354.1V385.8M503.8 354.1h2.2M503.8 385.8h2.2M507.3 372.3V408.8M506.2 372.3h2.2M506.2 408.8h2.2M507.4 373.9V407.4M506.3 373.9h2.2M506.3 407.4h2.2M511.9 328.7V377.9M510.8 328.7h2.2M510.8 377.9h2.2M514.9 384.8V405.3M513.8 384.8h2.2M513.8 405.3h2.2M521.6 374.7V399.4M520.5 374.7h2.2M520.5 399.4h2.2M521.6 366.7V397.4M520.5 366.7h2.2M520.5 397.4h2.2M296.5 385.4V394.7M295.4 385.4h2.2M295.4 394.7h2.2" stroke="#d4dd80" stroke-width="1.1" fill="none" opacity="0.9"/>
<g fill="none" stroke="#d4dd80" stroke-width="0.7" opacity="0.6">
<circle cx="63.3" cy="370.6" r="2.3"/><circle cx="66.1" cy="371.6" r="2.3"/><circle cx="66.2" cy="387.4" r="2.3"/><circle cx="72.9" cy="385.2" r="2.3"/><circle cx="73.4" cy="386.9" r="2.3"/><circle cx="73.5" cy="388.4" r="2.3"/><circle cx="77.7" cy="390.1" r="2.3"/><circle cx="78.1" cy="398.6" r="2.3"/><circle cx="84.6" cy="382.9" r="2.3"/><circle cx="85.0" cy="383.3" r="2.3"/><circle cx="101.6" cy="399.6" r="2.3"/><circle cx="108.4" cy="371.1" r="2.3"/><circle cx="111.0" cy="385.5" r="2.3"/><circle cx="115.2" cy="375.6" r="2.3"/><circle cx="122.2" cy="400.2" r="2.3"/><circle cx="129.3" cy="386.6" r="2.3"/><circle cx="129.7" cy="381.6" r="2.3"/><circle cx="129.9" cy="387.1" r="2.3"/><circle cx="131.8" cy="381.8" r="2.3"/><circle cx="131.9" cy="389.1" r="2.3"/><circle cx="132.0" cy="391.2" r="2.3"/><circle cx="134.1" cy="377.9" r="2.3"/><circle cx="134.4" cy="389.4" r="2.3"/><circle cx="134.6" cy="386.1" r="2.3"/><circle cx="136.5" cy="392.1" r="2.3"/><circle cx="136.8" cy="373.4" r="2.3"/><circle cx="150.4" cy="379.4" r="2.3"/><circle cx="150.9" cy="395.3" r="2.3"/><circle cx="150.9" cy="392.2" r="2.3"/><circle cx="155.3" cy="393.6" r="2.3"/><circle cx="157.7" cy="377.7" r="2.3"/><circle cx="164.3" cy="388.0" r="2.3"/><circle cx="165.1" cy="372.2" r="2.3"/><circle cx="167.1" cy="383.1" r="2.3"/><circle cx="171.5" cy="378.4" r="2.3"/><circle cx="202.7" cy="380.1" r="2.3"/><circle cx="220.7" cy="387.3" r="2.3"/><circle cx="221.4" cy="389.9" r="2.3"/><circle cx="223.8" cy="387.2" r="2.3"/><circle cx="237.3" cy="382.5" r="2.3"/><circle cx="258.7" cy="387.6" r="2.3"/><circle cx="282.5" cy="390.8" r="2.3"/><circle cx="310.5" cy="381.5" r="2.3"/><circle cx="322.0" cy="395.2" r="2.3"/><circle cx="331.1" cy="389.6" r="2.3"/><circle cx="334.0" cy="384.6" r="2.3"/><circle cx="338.7" cy="380.3" r="2.3"/><circle cx="345.6" cy="381.6" r="2.3"/><circle cx="345.9" cy="373.4" r="2.3"/><circle cx="350.6" cy="379.9" r="2.3"/><circle cx="357.1" cy="388.1" r="2.3"/><circle cx="357.5" cy="387.2" r="2.3"/><circle cx="369.4" cy="380.0" r="2.3"/><circle cx="378.2" cy="380.5" r="2.3"/><circle cx="378.4" cy="373.2" r="2.3"/><circle cx="378.6" cy="396.8" r="2.3"/><circle cx="380.5" cy="379.5" r="2.3"/><circle cx="380.7" cy="382.8" r="2.3"/><circle cx="381.1" cy="377.9" r="2.3"/><circle cx="387.7" cy="369.6" r="2.3"/><circle cx="389.9" cy="391.1" r="2.3"/><circle cx="397.3" cy="373.8" r="2.3"/><circle cx="399.2" cy="388.2" r="2.3"/><circle cx="399.8" cy="371.2" r="2.3"/><circle cx="401.8" cy="377.8" r="2.3"/><circle cx="404.2" cy="399.1" r="2.3"/><circle cx="404.6" cy="380.1" r="2.3"/><circle cx="406.9" cy="383.8" r="2.3"/><circle cx="408.9" cy="389.3" r="2.3"/><circle cx="409.0" cy="385.3" r="2.3"/><circle cx="409.3" cy="383.3" r="2.3"/><circle cx="414.0" cy="391.2" r="2.3"/><circle cx="416.0" cy="388.2" r="2.3"/><circle cx="416.3" cy="360.2" r="2.3"/><circle cx="427.8" cy="393.8" r="2.3"/><circle cx="439.7" cy="381.7" r="2.3"/><circle cx="446.3" cy="377.2" r="2.3"/><circle cx="446.4" cy="382.0" r="2.3"/><circle cx="448.5" cy="386.8" r="2.3"/><circle cx="467.9" cy="383.4" r="2.3"/><circle cx="493.5" cy="379.0" r="2.3"/><circle cx="500.2" cy="394.5" r="2.3"/><circle cx="500.6" cy="391.1" r="2.3"/><circle cx="504.9" cy="369.9" r="2.3"/><circle cx="507.3" cy="390.5" r="2.3"/><circle cx="507.4" cy="390.6" r="2.3"/><circle cx="511.9" cy="353.3" r="2.3"/><circle cx="514.9" cy="395.1" r="2.3"/><circle cx="521.6" cy="387.1" r="2.3"/><circle cx="521.6" cy="382.0" r="2.3"/><circle cx="296.5" cy="390.1" r="2.3"/>
</g></g>
<g clip-path="url(#cr)">
<path d="M146.2 377.0V393.8M145.1 377.0h2.2M145.1 393.8h2.2M150.9 377.3V389.9M149.8 377.3h2.2M149.8 389.9h2.2M153.1 377.9V391.7M152.0 377.9h2.2M152.0 391.7h2.2M153.2 373.6V390.1M152.1 373.6h2.2M152.1 390.1h2.2M207.3 379.9V389.2M206.2 379.9h2.2M206.2 389.2h2.2M207.4 373.9V386.3M206.3 373.9h2.2M206.3 386.3h2.2M207.6 379.2V392.4M206.5 379.2h2.2M206.5 392.4h2.2M209.0 380.3V390.8M207.9 380.3h2.2M207.9 390.8h2.2M209.6 377.0V385.8M208.5 377.0h2.2M208.5 385.8h2.2M209.8 379.6V388.4M208.7 379.6h2.2M208.7 388.4h2.2M209.8 374.2V386.2M208.7 374.2h2.2M208.7 386.2h2.2M211.5 378.8V391.9M210.4 378.8h2.2M210.4 391.9h2.2M211.5 378.4V391.3M210.4 378.4h2.2M210.4 391.3h2.2M211.9 374.9V386.4M210.8 374.9h2.2M210.8 386.4h2.2M212.2 382.9V393.3M211.1 382.9h2.2M211.1 393.3h2.2M212.4 374.8V389.2M211.3 374.8h2.2M211.3 389.2h2.2M216.5 377.5V389.6M215.4 377.5h2.2M215.4 389.6h2.2M216.8 381.7V390.5M215.7 381.7h2.2M215.7 390.5h2.2M218.5 386.4V409.9M217.4 386.4h2.2M217.4 409.9h2.2M218.8 378.7V392.0M217.7 378.7h2.2M217.7 392.0h2.2M219.4 366.9V379.3M218.3 366.9h2.2M218.3 379.3h2.2M221.0 371.4V384.2M219.9 371.4h2.2M219.9 384.2h2.2M221.6 378.1V385.2M220.5 378.1h2.2M220.5 385.2h2.2M221.6 380.2V388.7M220.5 380.2h2.2M220.5 388.7h2.2M223.5 380.1V390.6M222.4 380.1h2.2M222.4 390.6h2.2M223.8 385.3V393.5M222.7 385.3h2.2M222.7 393.5h2.2M226.4 377.3V388.0M225.3 377.3h2.2M225.3 388.0h2.2M237.7 386.8V394.5M236.6 386.8h2.2M236.6 394.5h2.2M237.7 375.6V383.6M236.6 375.6h2.2M236.6 383.6h2.2M237.7 375.1V387.0M236.6 375.1h2.2M236.6 387.0h2.2M237.8 377.8V387.5M236.7 377.8h2.2M236.7 387.5h2.2M240.2 382.9V393.6M239.1 382.9h2.2M239.1 393.6h2.2M247.2 381.8V388.5M246.1 381.8h2.2M246.1 388.5h2.2M247.6 374.9V382.9M246.5 374.9h2.2M246.5 382.9h2.2M254.3 374.3V393.4M253.2 374.3h2.2M253.2 393.4h2.2M260.6 375.2V381.4M259.5 375.2h2.2M259.5 381.4h2.2M263.8 376.5V384.2M262.7 376.5h2.2M262.7 384.2h2.2M267.6 379.8V387.1M266.5 379.8h2.2M266.5 387.1h2.2M268.4 380.7V388.3M267.3 380.7h2.2M267.3 388.3h2.2M268.5 380.9V388.1M267.4 380.9h2.2M267.4 388.1h2.2M268.6 382.0V387.7M267.5 382.0h2.2M267.5 387.7h2.2M268.6 377.6V387.6M267.5 377.6h2.2M267.5 387.6h2.2M268.9 381.6V389.9M267.8 381.6h2.2M267.8 389.9h2.2M268.9 379.5V388.7M267.8 379.5h2.2M267.8 388.7h2.2M269.0 378.9V384.4M267.9 378.9h2.2M267.9 384.4h2.2M270.0 381.1V389.0M268.9 381.1h2.2M268.9 389.0h2.2M270.8 380.0V388.1M269.7 380.0h2.2M269.7 388.1h2.2M271.2 377.6V386.3M270.1 377.6h2.2M270.1 386.3h2.2M271.2 373.0V382.8M270.1 373.0h2.2M270.1 382.8h2.2M272.3 372.3V382.0M271.2 372.3h2.2M271.2 382.0h2.2M272.8 379.5V388.4M271.7 379.5h2.2M271.7 388.4h2.2M273.0 383.1V391.0M271.9 383.1h2.2M271.9 391.0h2.2M273.0 383.1V389.8M271.9 383.1h2.2M271.9 389.8h2.2M273.4 374.4V384.0M272.3 374.4h2.2M272.3 384.0h2.2M273.5 377.7V383.2M272.4 377.7h2.2M272.4 383.2h2.2M273.6 378.5V384.2M272.5 378.5h2.2M272.5 384.2h2.2M274.8 379.1V386.6M273.7 379.1h2.2M273.7 386.6h2.2M275.0 377.7V387.4M273.9 377.7h2.2M273.9 387.4h2.2M275.3 383.1V392.1M274.2 383.1h2.2M274.2 392.1h2.2M275.6 375.0V384.3M274.5 375.0h2.2M274.5 384.3h2.2M275.6 381.9V387.7M274.5 381.9h2.2M274.5 387.7h2.2M275.7 382.3V388.6M274.6 382.3h2.2M274.6 388.6h2.2M275.8 377.5V387.0M274.7 377.5h2.2M274.7 387.0h2.2M277.2 384.4V393.1M276.1 384.4h2.2M276.1 393.1h2.2M277.3 380.7V388.5M276.2 380.7h2.2M276.2 388.5h2.2M277.5 381.8V387.1M276.4 381.8h2.2M276.4 387.1h2.2M277.6 379.8V386.7M276.5 379.8h2.2M276.5 386.7h2.2M278.2 378.0V385.5M277.1 378.0h2.2M277.1 385.5h2.2M279.5 380.9V388.2M278.4 380.9h2.2M278.4 388.2h2.2M279.8 384.0V392.2M278.7 384.0h2.2M278.7 392.2h2.2M280.1 375.4V382.1M279.0 375.4h2.2M279.0 382.1h2.2M280.2 377.4V386.4M279.1 377.4h2.2M279.1 386.4h2.2M280.4 377.8V383.9M279.3 377.8h2.2M279.3 383.9h2.2M280.7 378.7V386.9M279.6 378.7h2.2M279.6 386.9h2.2M280.7 375.9V384.8M279.6 375.9h2.2M279.6 384.8h2.2M282.2 381.3V388.7M281.1 381.3h2.2M281.1 388.7h2.2M282.7 383.1V391.0M281.6 383.1h2.2M281.6 391.0h2.2M284.6 379.6V385.8M283.5 379.6h2.2M283.5 385.8h2.2M285.4 378.0V387.1M284.3 378.0h2.2M284.3 387.1h2.2M286.7 379.0V386.0M285.6 379.0h2.2M285.6 386.0h2.2M286.7 375.0V380.8M285.6 375.0h2.2M285.6 380.8h2.2M286.7 384.0V392.5M285.6 384.0h2.2M285.6 392.5h2.2M286.7 375.7V383.9M285.6 375.7h2.2M285.6 383.9h2.2M286.8 376.3V380.9M285.7 376.3h2.2M285.7 380.9h2.2M287.0 375.0V383.3M285.9 375.0h2.2M285.9 383.3h2.2M287.1 381.2V386.5M286.0 381.2h2.2M286.0 386.5h2.2M289.1 376.6V382.2M288.0 376.6h2.2M288.0 382.2h2.2M289.7 377.7V384.5M288.6 377.7h2.2M288.6 384.5h2.2M289.9 380.9V385.5M288.8 380.9h2.2M288.8 385.5h2.2M290.1 378.4V387.2M289.0 378.4h2.2M289.0 387.2h2.2M300.7 378.0V385.1M299.6 378.0h2.2M299.6 385.1h2.2M300.9 382.3V387.6M299.8 382.3h2.2M299.8 387.6h2.2M301.0 386.9V391.8M299.9 386.9h2.2M299.9 391.8h2.2M301.0 380.8V385.6M299.9 380.8h2.2M299.9 385.6h2.2M301.1 385.6V389.9M300.0 385.6h2.2M300.0 389.9h2.2M301.5 382.6V387.9M300.4 382.6h2.2M300.4 387.9h2.2M301.7 377.1V384.4M300.6 377.1h2.2M300.6 384.4h2.2M301.7 380.3V387.2M300.6 380.3h2.2M300.6 387.2h2.2M301.9 379.6V385.2M300.8 379.6h2.2M300.8 385.2h2.2M303.5 378.2V383.0M302.4 378.2h2.2M302.4 383.0h2.2M304.1 383.0V388.4M303.0 383.0h2.2M303.0 388.4h2.2M305.4 379.2V387.5M304.3 379.2h2.2M304.3 387.5h2.2M305.5 381.9V387.4M304.4 381.9h2.2M304.4 387.4h2.2M305.8 380.1V387.9M304.7 380.1h2.2M304.7 387.9h2.2M305.9 383.8V389.0M304.8 383.8h2.2M304.8 389.0h2.2M305.9 374.7V383.1M304.8 374.7h2.2M304.8 383.1h2.2M305.9 378.7V387.6M304.8 378.7h2.2M304.8 387.6h2.2M305.9 377.3V385.4M304.8 377.3h2.2M304.8 385.4h2.2M307.6 379.2V387.5M306.5 379.2h2.2M306.5 387.5h2.2M307.8 385.4V392.1M306.7 385.4h2.2M306.7 392.1h2.2M307.8 382.5V391.7M306.7 382.5h2.2M306.7 391.7h2.2M308.2 372.7V380.9M307.1 372.7h2.2M307.1 380.9h2.2M308.7 382.0V387.0M307.6 382.0h2.2M307.6 387.0h2.2M308.8 375.8V384.5M307.7 375.8h2.2M307.7 384.5h2.2M310.0 380.3V389.2M308.9 380.3h2.2M308.9 389.2h2.2M310.2 373.4V381.1M309.1 373.4h2.2M309.1 381.1h2.2M310.8 364.4V381.0M309.7 364.4h2.2M309.7 381.0h2.2M310.9 369.7V377.4M309.8 369.7h2.2M309.8 377.4h2.2M310.9 378.9V386.3M309.8 378.9h2.2M309.8 386.3h2.2M310.9 377.7V386.6M309.8 377.7h2.2M309.8 386.6h2.2M312.3 379.4V386.6M311.2 379.4h2.2M311.2 386.6h2.2M312.8 383.2V388.8M311.7 383.2h2.2M311.7 388.8h2.2M313.4 377.6V383.2M312.3 377.6h2.2M312.3 383.2h2.2M314.8 381.5V387.7M313.7 381.5h2.2M313.7 387.7h2.2M314.8 380.3V390.7M313.7 380.3h2.2M313.7 390.7h2.2M315.1 376.4V383.7M314.0 376.4h2.2M314.0 383.7h2.2M315.3 382.5V389.7M314.2 382.5h2.2M314.2 389.7h2.2M315.8 378.5V384.5M314.7 378.5h2.2M314.7 384.5h2.2M315.9 369.5V385.4M314.8 369.5h2.2M314.8 385.4h2.2M316.9 375.2V386.3M315.8 375.2h2.2M315.8 386.3h2.2M317.4 378.6V388.2M316.3 378.6h2.2M316.3 388.2h2.2M317.8 378.9V385.9M316.7 378.9h2.2M316.7 385.9h2.2M318.0 366.6V390.9M316.9 366.6h2.2M316.9 390.9h2.2M318.2 378.9V387.5M317.1 378.9h2.2M317.1 387.5h2.2M319.5 370.7V388.4M318.4 370.7h2.2M318.4 388.4h2.2M319.6 374.6V384.6M318.5 374.6h2.2M318.5 384.6h2.2M319.9 379.6V389.6M318.8 379.6h2.2M318.8 389.6h2.2M320.1 385.8V407.0M319.0 385.8h2.2M319.0 407.0h2.2M320.7 376.6V388.8M319.6 376.6h2.2M319.6 388.8h2.2M322.2 376.6V387.1M321.1 376.6h2.2M321.1 387.1h2.2M322.3 379.0V386.4M321.2 379.0h2.2M321.2 386.4h2.2M322.4 373.4V385.5M321.3 373.4h2.2M321.3 385.5h2.2M322.6 376.4V387.0M321.5 376.4h2.2M321.5 387.0h2.2M322.7 386.9V394.3M321.6 386.9h2.2M321.6 394.3h2.2M324.1 379.0V388.5M323.0 379.0h2.2M323.0 388.5h2.2M324.2 376.4V383.6M323.1 376.4h2.2M323.1 383.6h2.2M324.6 386.0V398.2M323.5 386.0h2.2M323.5 398.2h2.2M326.7 374.1V385.6M325.6 374.1h2.2M325.6 385.6h2.2M327.0 369.2V382.5M325.9 369.2h2.2M325.9 382.5h2.2M327.3 380.3V387.7M326.2 380.3h2.2M326.2 387.7h2.2M327.3 369.1V379.1M326.2 369.1h2.2M326.2 379.1h2.2M327.3 371.8V381.5M326.2 371.8h2.2M326.2 381.5h2.2M327.4 379.7V391.1M326.3 379.7h2.2M326.3 391.1h2.2M327.4 373.8V384.6M326.3 373.8h2.2M326.3 384.6h2.2M327.4 374.7V387.0M326.3 374.7h2.2M326.3 387.0h2.2M327.5 372.2V381.2M326.4 372.2h2.2M326.4 381.2h2.2M327.5 380.4V392.4M326.4 380.4h2.2M326.4 392.4h2.2M329.1 375.6V385.1M328.0 375.6h2.2M328.0 385.1h2.2M329.3 375.7V387.1M328.2 375.7h2.2M328.2 387.1h2.2M329.5 379.3V389.1M328.4 379.3h2.2M328.4 389.1h2.2M329.8 378.9V390.8M328.7 378.9h2.2M328.7 390.8h2.2M329.8 383.8V392.7M328.7 383.8h2.2M328.7 392.7h2.2M331.1 382.6V390.4M330.0 382.6h2.2M330.0 390.4h2.2M331.3 370.1V378.5M330.2 370.1h2.2M330.2 378.5h2.2M331.8 374.8V386.3M330.7 374.8h2.2M330.7 386.3h2.2M331.9 381.0V393.2M330.8 381.0h2.2M330.8 393.2h2.2M332.0 373.0V384.7M330.9 373.0h2.2M330.9 384.7h2.2M332.4 385.4V394.6M331.3 385.4h2.2M331.3 394.6h2.2M292.2 384.0V387.1M291.1 384.0h2.2M291.1 387.1h2.2M294.3 375.0V378.1M293.2 375.0h2.2M293.2 378.1h2.2M294.4 374.7V377.8M293.3 374.7h2.2M293.3 377.8h2.2M294.8 373.9V377.0M293.7 373.9h2.2M293.7 377.0h2.2M294.8 383.2V386.3M293.7 383.2h2.2M293.7 386.3h2.2M295.2 396.1V399.2M294.1 396.1h2.2M294.1 399.2h2.2M295.2 388.9V392.1M294.1 388.9h2.2M294.1 392.1h2.2M295.4 384.9V388.0M294.3 384.9h2.2M294.3 388.0h2.2M295.5 381.2V384.3M294.4 381.2h2.2M294.4 384.3h2.2M295.5 388.0V391.1M294.4 388.0h2.2M294.4 391.1h2.2M296.7 385.4V388.5M295.6 385.4h2.2M295.6 388.5h2.2M296.9 384.8V388.0M295.8 384.8h2.2M295.8 388.0h2.2M297.2 375.5V378.7M296.1 375.5h2.2M296.1 378.7h2.2M297.3 378.3V381.4M296.2 378.3h2.2M296.2 381.4h2.2M297.4 381.2V384.4M296.3 381.2h2.2M296.3 384.4h2.2M297.6 379.3V382.4M296.5 379.3h2.2M296.5 382.4h2.2M297.7 381.5V384.7M296.6 381.5h2.2M296.6 384.7h2.2M297.9 376.9V380.1M296.8 376.9h2.2M296.8 380.1h2.2M298.8 385.1V388.2M297.7 385.1h2.2M297.7 388.2h2.2M299.0 384.3V387.4M297.9 384.3h2.2M297.9 387.4h2.2M299.2 384.5V387.6M298.1 384.5h2.2M298.1 387.6h2.2" stroke="#2adddd" stroke-width="1.1" fill="none" opacity="0.9"/>
<g fill="none" stroke="#2adddd" stroke-width="0.7" opacity="0.6">
<circle cx="146.2" cy="385.4" r="2.3"/><circle cx="150.9" cy="383.6" r="2.3"/><circle cx="153.1" cy="384.8" r="2.3"/><circle cx="153.2" cy="381.9" r="2.3"/><circle cx="207.3" cy="384.5" r="2.3"/><circle cx="207.4" cy="380.1" r="2.3"/><circle cx="207.6" cy="385.8" r="2.3"/><circle cx="209.0" cy="385.5" r="2.3"/><circle cx="209.6" cy="381.4" r="2.3"/><circle cx="209.8" cy="384.0" r="2.3"/><circle cx="209.8" cy="380.2" r="2.3"/><circle cx="211.5" cy="385.3" r="2.3"/><circle cx="211.5" cy="384.9" r="2.3"/><circle cx="211.9" cy="380.6" r="2.3"/><circle cx="212.2" cy="388.1" r="2.3"/><circle cx="212.4" cy="382.0" r="2.3"/><circle cx="216.5" cy="383.5" r="2.3"/><circle cx="216.8" cy="386.1" r="2.3"/><circle cx="218.5" cy="398.2" r="2.3"/><circle cx="218.8" cy="385.3" r="2.3"/><circle cx="219.4" cy="373.1" r="2.3"/><circle cx="221.0" cy="377.8" r="2.3"/><circle cx="221.6" cy="381.6" r="2.3"/><circle cx="221.6" cy="384.5" r="2.3"/><circle cx="223.5" cy="385.3" r="2.3"/><circle cx="223.8" cy="389.4" r="2.3"/><circle cx="226.4" cy="382.6" r="2.3"/><circle cx="237.7" cy="390.6" r="2.3"/><circle cx="237.7" cy="379.6" r="2.3"/><circle cx="237.7" cy="381.1" r="2.3"/><circle cx="237.8" cy="382.6" r="2.3"/><circle cx="240.2" cy="388.3" r="2.3"/><circle cx="247.2" cy="385.2" r="2.3"/><circle cx="247.6" cy="378.9" r="2.3"/><circle cx="254.3" cy="383.8" r="2.3"/><circle cx="260.6" cy="378.3" r="2.3"/><circle cx="263.8" cy="380.3" r="2.3"/><circle cx="267.6" cy="383.5" r="2.3"/><circle cx="268.4" cy="384.5" r="2.3"/><circle cx="268.5" cy="384.5" r="2.3"/><circle cx="268.6" cy="384.9" r="2.3"/><circle cx="268.6" cy="382.6" r="2.3"/><circle cx="268.9" cy="385.7" r="2.3"/><circle cx="268.9" cy="384.1" r="2.3"/><circle cx="269.0" cy="381.7" r="2.3"/><circle cx="270.0" cy="385.0" r="2.3"/><circle cx="270.8" cy="384.1" r="2.3"/><circle cx="271.2" cy="382.0" r="2.3"/><circle cx="271.2" cy="377.9" r="2.3"/><circle cx="272.3" cy="377.2" r="2.3"/><circle cx="272.8" cy="383.9" r="2.3"/><circle cx="273.0" cy="387.0" r="2.3"/><circle cx="273.0" cy="386.5" r="2.3"/><circle cx="273.4" cy="379.2" r="2.3"/><circle cx="273.5" cy="380.5" r="2.3"/><circle cx="273.6" cy="381.3" r="2.3"/><circle cx="274.8" cy="382.8" r="2.3"/><circle cx="275.0" cy="382.5" r="2.3"/><circle cx="275.3" cy="387.6" r="2.3"/><circle cx="275.6" cy="379.7" r="2.3"/><circle cx="275.6" cy="384.8" r="2.3"/><circle cx="275.7" cy="385.5" r="2.3"/><circle cx="275.8" cy="382.3" r="2.3"/><circle cx="277.2" cy="388.8" r="2.3"/><circle cx="277.3" cy="384.6" r="2.3"/><circle cx="277.5" cy="384.5" r="2.3"/><circle cx="277.6" cy="383.3" r="2.3"/><circle cx="278.2" cy="381.7" r="2.3"/><circle cx="279.5" cy="384.5" r="2.3"/><circle cx="279.8" cy="388.1" r="2.3"/><circle cx="280.1" cy="378.7" r="2.3"/><circle cx="280.2" cy="381.9" r="2.3"/><circle cx="280.4" cy="380.8" r="2.3"/><circle cx="280.7" cy="382.8" r="2.3"/><circle cx="280.7" cy="380.4" r="2.3"/><circle cx="282.2" cy="385.0" r="2.3"/><circle cx="282.7" cy="387.1" r="2.3"/><circle cx="284.6" cy="382.7" r="2.3"/><circle cx="285.4" cy="382.5" r="2.3"/><circle cx="286.7" cy="382.5" r="2.3"/><circle cx="286.7" cy="377.9" r="2.3"/><circle cx="286.7" cy="388.2" r="2.3"/><circle cx="286.7" cy="379.8" r="2.3"/><circle cx="286.8" cy="378.6" r="2.3"/><circle cx="287.0" cy="379.2" r="2.3"/><circle cx="287.1" cy="383.9" r="2.3"/><circle cx="289.1" cy="379.4" r="2.3"/><circle cx="289.7" cy="381.1" r="2.3"/><circle cx="289.9" cy="383.2" r="2.3"/><circle cx="290.1" cy="382.8" r="2.3"/><circle cx="300.7" cy="381.5" r="2.3"/><circle cx="300.9" cy="385.0" r="2.3"/><circle cx="301.0" cy="389.4" r="2.3"/><circle cx="301.0" cy="383.2" r="2.3"/><circle cx="301.1" cy="387.8" r="2.3"/><circle cx="301.5" cy="385.2" r="2.3"/><circle cx="301.7" cy="380.7" r="2.3"/><circle cx="301.7" cy="383.8" r="2.3"/><circle cx="301.9" cy="382.4" r="2.3"/><circle cx="303.5" cy="380.6" r="2.3"/><circle cx="304.1" cy="385.7" r="2.3"/><circle cx="305.4" cy="383.4" r="2.3"/><circle cx="305.5" cy="384.7" r="2.3"/><circle cx="305.8" cy="384.0" r="2.3"/><circle cx="305.9" cy="386.4" r="2.3"/><circle cx="305.9" cy="378.9" r="2.3"/><circle cx="305.9" cy="383.2" r="2.3"/><circle cx="305.9" cy="381.4" r="2.3"/><circle cx="307.6" cy="383.3" r="2.3"/><circle cx="307.8" cy="388.7" r="2.3"/><circle cx="307.8" cy="387.1" r="2.3"/><circle cx="308.2" cy="376.8" r="2.3"/><circle cx="308.7" cy="384.5" r="2.3"/><circle cx="308.8" cy="380.1" r="2.3"/><circle cx="310.0" cy="384.8" r="2.3"/><circle cx="310.2" cy="377.2" r="2.3"/><circle cx="310.8" cy="372.7" r="2.3"/><circle cx="310.9" cy="373.6" r="2.3"/><circle cx="310.9" cy="382.6" r="2.3"/><circle cx="310.9" cy="382.2" r="2.3"/><circle cx="312.3" cy="383.0" r="2.3"/><circle cx="312.8" cy="386.0" r="2.3"/><circle cx="313.4" cy="380.4" r="2.3"/><circle cx="314.8" cy="384.6" r="2.3"/><circle cx="314.8" cy="385.5" r="2.3"/><circle cx="315.1" cy="380.0" r="2.3"/><circle cx="315.3" cy="386.1" r="2.3"/><circle cx="315.8" cy="381.5" r="2.3"/><circle cx="315.9" cy="377.4" r="2.3"/><circle cx="316.9" cy="380.7" r="2.3"/><circle cx="317.4" cy="383.4" r="2.3"/><circle cx="317.8" cy="382.4" r="2.3"/><circle cx="318.0" cy="378.8" r="2.3"/><circle cx="318.2" cy="383.2" r="2.3"/><circle cx="319.5" cy="379.6" r="2.3"/><circle cx="319.6" cy="379.6" r="2.3"/><circle cx="319.9" cy="384.6" r="2.3"/><circle cx="320.1" cy="396.4" r="2.3"/><circle cx="320.7" cy="382.7" r="2.3"/><circle cx="322.2" cy="381.8" r="2.3"/><circle cx="322.3" cy="382.7" r="2.3"/><circle cx="322.4" cy="379.5" r="2.3"/><circle cx="322.6" cy="381.7" r="2.3"/><circle cx="322.7" cy="390.6" r="2.3"/><circle cx="324.1" cy="383.7" r="2.3"/><circle cx="324.2" cy="380.0" r="2.3"/><circle cx="324.6" cy="392.1" r="2.3"/><circle cx="326.7" cy="379.9" r="2.3"/><circle cx="327.0" cy="375.8" r="2.3"/><circle cx="327.3" cy="384.0" r="2.3"/><circle cx="327.3" cy="374.1" r="2.3"/><circle cx="327.3" cy="376.7" r="2.3"/><circle cx="327.4" cy="385.4" r="2.3"/><circle cx="327.4" cy="379.2" r="2.3"/><circle cx="327.4" cy="380.9" r="2.3"/><circle cx="327.5" cy="376.7" r="2.3"/><circle cx="327.5" cy="386.4" r="2.3"/><circle cx="329.1" cy="380.4" r="2.3"/><circle cx="329.3" cy="381.4" r="2.3"/><circle cx="329.5" cy="384.2" r="2.3"/><circle cx="329.8" cy="384.8" r="2.3"/><circle cx="329.8" cy="388.3" r="2.3"/><circle cx="331.1" cy="386.5" r="2.3"/><circle cx="331.3" cy="374.3" r="2.3"/><circle cx="331.8" cy="380.5" r="2.3"/><circle cx="331.9" cy="387.1" r="2.3"/><circle cx="332.0" cy="378.8" r="2.3"/><circle cx="332.4" cy="390.0" r="2.3"/><circle cx="292.2" cy="385.5" r="2.3"/><circle cx="294.3" cy="376.6" r="2.3"/><circle cx="294.4" cy="376.3" r="2.3"/><circle cx="294.8" cy="375.5" r="2.3"/><circle cx="294.8" cy="384.7" r="2.3"/><circle cx="295.2" cy="397.6" r="2.3"/><circle cx="295.2" cy="390.5" r="2.3"/><circle cx="295.4" cy="386.4" r="2.3"/><circle cx="295.5" cy="382.8" r="2.3"/><circle cx="295.5" cy="389.6" r="2.3"/><circle cx="296.7" cy="386.9" r="2.3"/><circle cx="296.9" cy="386.4" r="2.3"/><circle cx="297.2" cy="377.1" r="2.3"/><circle cx="297.3" cy="379.9" r="2.3"/><circle cx="297.4" cy="382.8" r="2.3"/><circle cx="297.6" cy="380.9" r="2.3"/><circle cx="297.7" cy="383.1" r="2.3"/><circle cx="297.9" cy="378.5" r="2.3"/><circle cx="298.8" cy="386.6" r="2.3"/><circle cx="299.0" cy="385.9" r="2.3"/><circle cx="299.2" cy="386.0" r="2.3"/>
</g></g>
<g clip-path="url(#cr)">
<path d="M345.1 381.0V389.6M344.0 381.0h2.2M344.0 389.6h2.2M345.2 375.5V382.2M344.1 375.5h2.2M344.1 382.2h2.2M345.3 360.7V370.6M344.2 360.7h2.2M344.2 370.6h2.2M345.6 384.2V393.3M344.5 384.2h2.2M344.5 393.3h2.2M345.9 375.9V383.5M344.8 375.9h2.2M344.8 383.5h2.2M346.0 373.5V384.5M344.9 373.5h2.2M344.9 384.5h2.2M346.1 377.7V384.3M345.0 377.7h2.2M345.0 384.3h2.2M346.2 373.2V380.1M345.1 373.2h2.2M345.1 380.1h2.2M346.4 371.5V380.3M345.3 371.5h2.2M345.3 380.3h2.2M346.4 373.8V383.1M345.3 373.8h2.2M345.3 383.1h2.2M346.7 379.5V385.5M345.6 379.5h2.2M345.6 385.5h2.2M346.9 382.0V388.1M345.8 382.0h2.2M345.8 388.1h2.2M347.1 379.5V386.1M346.0 379.5h2.2M346.0 386.1h2.2M347.4 377.9V389.1M346.3 377.9h2.2M346.3 389.1h2.2M347.6 387.1V399.6M346.5 387.1h2.2M346.5 399.6h2.2M348.0 388.9V395.5M346.9 388.9h2.2M346.9 395.5h2.2M348.4 382.6V391.1M347.3 382.6h2.2M347.3 391.1h2.2M348.5 374.7V384.8M347.4 374.7h2.2M347.4 384.8h2.2M348.6 381.1V388.5M347.5 381.1h2.2M347.5 388.5h2.2M348.6 383.9V390.5M347.5 383.9h2.2M347.5 390.5h2.2M348.7 377.3V389.2M347.6 377.3h2.2M347.6 389.2h2.2M348.9 377.1V384.2M347.8 377.1h2.2M347.8 384.2h2.2M348.9 377.7V383.9M347.8 377.7h2.2M347.8 383.9h2.2M349.2 376.5V387.7M348.1 376.5h2.2M348.1 387.7h2.2M349.3 370.8V379.5M348.2 370.8h2.2M348.2 379.5h2.2M349.4 388.9V397.6M348.3 388.9h2.2M348.3 397.6h2.2M349.9 377.3V397.8M348.8 377.3h2.2M348.8 397.8h2.2M350.2 367.5V381.2M349.1 367.5h2.2M349.1 381.2h2.2M350.3 378.8V390.2M349.2 378.8h2.2M349.2 390.2h2.2M350.5 379.9V386.1M349.4 379.9h2.2M349.4 386.1h2.2M350.7 376.3V388.1M349.6 376.3h2.2M349.6 388.1h2.2M350.9 383.7V391.3M349.8 383.7h2.2M349.8 391.3h2.2M350.9 379.5V386.9M349.8 379.5h2.2M349.8 386.9h2.2M351.4 372.5V385.8M350.3 372.5h2.2M350.3 385.8h2.2M351.4 375.7V388.7M350.3 375.7h2.2M350.3 388.7h2.2M351.6 377.5V383.5M350.5 377.5h2.2M350.5 383.5h2.2M351.8 373.5V394.0M350.7 373.5h2.2M350.7 394.0h2.2M352.4 377.3V386.8M351.3 377.3h2.2M351.3 386.8h2.2M352.9 373.2V382.5M351.8 373.2h2.2M351.8 382.5h2.2M353.1 379.3V387.9M352.0 379.3h2.2M352.0 387.9h2.2M353.4 379.9V386.6M352.3 379.9h2.2M352.3 386.6h2.2M355.0 367.7V382.8M353.9 367.7h2.2M353.9 382.8h2.2M355.6 376.5V385.8M354.5 376.5h2.2M354.5 385.8h2.2M356.6 381.7V390.3M355.5 381.7h2.2M355.5 390.3h2.2M356.9 381.9V388.4M355.8 381.9h2.2M355.8 388.4h2.2M358.2 379.3V387.8M357.1 379.3h2.2M357.1 387.8h2.2M358.6 377.6V389.1M357.5 377.6h2.2M357.5 389.1h2.2M359.8 375.6V388.6M358.7 375.6h2.2M358.7 388.6h2.2M361.0 378.0V387.1M359.9 378.0h2.2M359.9 387.1h2.2M361.9 386.4V392.5M360.8 386.4h2.2M360.8 392.5h2.2M362.5 379.7V388.6M361.4 379.7h2.2M361.4 388.6h2.2M363.3 378.7V387.5M362.2 378.7h2.2M362.2 387.5h2.2M364.5 378.8V385.1M363.4 378.8h2.2M363.4 385.1h2.2M364.5 388.4V394.6M363.4 388.4h2.2M363.4 394.6h2.2M364.7 370.3V382.7M363.6 370.3h2.2M363.6 382.7h2.2M364.8 379.5V387.9M363.7 379.5h2.2M363.7 387.9h2.2M365.0 379.7V392.3M363.9 379.7h2.2M363.9 392.3h2.2M365.2 374.2V388.3M364.1 374.2h2.2M364.1 388.3h2.2M365.7 377.8V385.5M364.6 377.8h2.2M364.6 385.5h2.2M367.8 377.9V385.8M366.7 377.9h2.2M366.7 385.8h2.2M368.2 374.2V384.2M367.1 374.2h2.2M367.1 384.2h2.2M370.1 379.1V387.4M369.0 379.1h2.2M369.0 387.4h2.2M370.1 380.6V392.4M369.0 380.6h2.2M369.0 392.4h2.2M370.4 370.8V386.3M369.3 370.8h2.2M369.3 386.3h2.2M371.0 374.2V388.3M369.9 374.2h2.2M369.9 388.3h2.2M371.2 381.5V387.4M370.1 381.5h2.2M370.1 387.4h2.2M372.3 382.9V392.6M371.2 382.9h2.2M371.2 392.6h2.2M376.5 377.0V387.5M375.4 377.0h2.2M375.4 387.5h2.2M376.7 372.5V382.5M375.6 372.5h2.2M375.6 382.5h2.2M377.0 373.6V384.3M375.9 373.6h2.2M375.9 384.3h2.2M378.1 380.1V387.4M377.0 380.1h2.2M377.0 387.4h2.2M378.2 383.5V396.0M377.1 383.5h2.2M377.1 396.0h2.2M378.8 375.3V386.3M377.7 375.3h2.2M377.7 386.3h2.2M379.3 363.0V381.3M378.2 363.0h2.2M378.2 381.3h2.2M379.7 376.0V386.9M378.6 376.0h2.2M378.6 386.9h2.2M380.3 371.1V384.8M379.2 371.1h2.2M379.2 384.8h2.2M381.1 375.2V388.3M380.0 375.2h2.2M380.0 388.3h2.2M381.7 378.2V390.0M380.6 378.2h2.2M380.6 390.0h2.2M382.1 379.6V390.5M381.0 379.6h2.2M381.0 390.5h2.2M383.5 373.9V383.6M382.4 373.9h2.2M382.4 383.6h2.2M384.2 374.7V385.9M383.1 374.7h2.2M383.1 385.9h2.2M384.4 375.7V388.6M383.3 375.7h2.2M383.3 388.6h2.2M385.7 374.3V385.6M384.6 374.3h2.2M384.6 385.6h2.2M386.3 380.5V386.7M385.2 380.5h2.2M385.2 386.7h2.2M388.5 384.9V392.2M387.4 384.9h2.2M387.4 392.2h2.2M391.2 370.2V376.5M390.1 370.2h2.2M390.1 376.5h2.2M391.7 370.9V384.1M390.6 370.9h2.2M390.6 384.1h2.2M391.9 382.0V389.8M390.8 382.0h2.2M390.8 389.8h2.2M392.8 378.8V392.9M391.7 378.8h2.2M391.7 392.9h2.2M395.1 380.7V393.0M394.0 380.7h2.2M394.0 393.0h2.2M396.3 382.2V390.8M395.2 382.2h2.2M395.2 390.8h2.2M401.8 382.8V389.5M400.7 382.8h2.2M400.7 389.5h2.2M403.5 385.6V395.0M402.4 385.6h2.2M402.4 395.0h2.2M404.4 377.6V391.0M403.3 377.6h2.2M403.3 391.0h2.2M405.2 373.8V384.6M404.1 373.8h2.2M404.1 384.6h2.2M407.1 379.4V387.6M406.0 379.4h2.2M406.0 387.6h2.2M409.0 384.4V390.8M407.9 384.4h2.2M407.9 390.8h2.2M410.2 375.3V383.8M409.1 375.3h2.2M409.1 383.8h2.2M413.9 366.9V381.7M412.8 366.9h2.2M412.8 381.7h2.2M417.7 379.4V389.5M416.6 379.4h2.2M416.6 389.5h2.2M422.9 377.2V389.0M421.8 377.2h2.2M421.8 389.0h2.2M424.8 386.6V394.2M423.7 386.6h2.2M423.7 394.2h2.2M428.3 379.5V393.8M427.2 379.5h2.2M427.2 393.8h2.2M435.3 382.6V396.2M434.2 382.6h2.2M434.2 396.2h2.2M441.0 374.3V384.6M439.9 374.3h2.2M439.9 384.6h2.2" stroke="#ff0000" stroke-width="1.1" fill="none" opacity="0.9"/>
<g fill="none" stroke="#ff0000" stroke-width="0.7" opacity="0.6">
<circle cx="345.1" cy="385.3" r="2.3"/><circle cx="345.2" cy="378.8" r="2.3"/><circle cx="345.3" cy="365.6" r="2.3"/><circle cx="345.6" cy="388.7" r="2.3"/><circle cx="345.9" cy="379.7" r="2.3"/><circle cx="346.0" cy="379.0" r="2.3"/><circle cx="346.1" cy="381.0" r="2.3"/><circle cx="346.2" cy="376.6" r="2.3"/><circle cx="346.4" cy="375.9" r="2.3"/><circle cx="346.4" cy="378.4" r="2.3"/><circle cx="346.7" cy="382.5" r="2.3"/><circle cx="346.9" cy="385.0" r="2.3"/><circle cx="347.1" cy="382.8" r="2.3"/><circle cx="347.4" cy="383.5" r="2.3"/><circle cx="347.6" cy="393.4" r="2.3"/><circle cx="348.0" cy="392.2" r="2.3"/><circle cx="348.4" cy="386.8" r="2.3"/><circle cx="348.5" cy="379.8" r="2.3"/><circle cx="348.6" cy="384.8" r="2.3"/><circle cx="348.6" cy="387.2" r="2.3"/><circle cx="348.7" cy="383.3" r="2.3"/><circle cx="348.9" cy="380.7" r="2.3"/><circle cx="348.9" cy="380.8" r="2.3"/><circle cx="349.2" cy="382.1" r="2.3"/><circle cx="349.3" cy="375.2" r="2.3"/><circle cx="349.4" cy="393.3" r="2.3"/><circle cx="349.9" cy="387.5" r="2.3"/><circle cx="350.2" cy="374.3" r="2.3"/><circle cx="350.3" cy="384.5" r="2.3"/><circle cx="350.5" cy="383.0" r="2.3"/><circle cx="350.7" cy="382.2" r="2.3"/><circle cx="350.9" cy="387.5" r="2.3"/><circle cx="350.9" cy="383.2" r="2.3"/><circle cx="351.4" cy="379.1" r="2.3"/><circle cx="351.4" cy="382.2" r="2.3"/><circle cx="351.6" cy="380.5" r="2.3"/><circle cx="351.8" cy="383.8" r="2.3"/><circle cx="352.4" cy="382.1" r="2.3"/><circle cx="352.9" cy="377.8" r="2.3"/><circle cx="353.1" cy="383.6" r="2.3"/><circle cx="353.4" cy="383.3" r="2.3"/><circle cx="355.0" cy="375.2" r="2.3"/><circle cx="355.6" cy="381.1" r="2.3"/><circle cx="356.6" cy="386.0" r="2.3"/><circle cx="356.9" cy="385.2" r="2.3"/><circle cx="358.2" cy="383.6" r="2.3"/><circle cx="358.6" cy="383.4" r="2.3"/><circle cx="359.8" cy="382.1" r="2.3"/><circle cx="361.0" cy="382.5" r="2.3"/><circle cx="361.9" cy="389.4" r="2.3"/><circle cx="362.5" cy="384.2" r="2.3"/><circle cx="363.3" cy="383.1" r="2.3"/><circle cx="364.5" cy="382.0" r="2.3"/><circle cx="364.5" cy="391.5" r="2.3"/><circle cx="364.7" cy="376.5" r="2.3"/><circle cx="364.8" cy="383.7" r="2.3"/><circle cx="365.0" cy="386.0" r="2.3"/><circle cx="365.2" cy="381.2" r="2.3"/><circle cx="365.7" cy="381.7" r="2.3"/><circle cx="367.8" cy="381.9" r="2.3"/><circle cx="368.2" cy="379.2" r="2.3"/><circle cx="370.1" cy="383.3" r="2.3"/><circle cx="370.1" cy="386.5" r="2.3"/><circle cx="370.4" cy="378.5" r="2.3"/><circle cx="371.0" cy="381.3" r="2.3"/><circle cx="371.2" cy="384.4" r="2.3"/><circle cx="372.3" cy="387.8" r="2.3"/><circle cx="376.5" cy="382.2" r="2.3"/><circle cx="376.7" cy="377.5" r="2.3"/><circle cx="377.0" cy="378.9" r="2.3"/><circle cx="378.1" cy="383.7" r="2.3"/><circle cx="378.2" cy="389.7" r="2.3"/><circle cx="378.8" cy="380.8" r="2.3"/><circle cx="379.3" cy="372.2" r="2.3"/><circle cx="379.7" cy="381.4" r="2.3"/><circle cx="380.3" cy="377.9" r="2.3"/><circle cx="381.1" cy="381.8" r="2.3"/><circle cx="381.7" cy="384.1" r="2.3"/><circle cx="382.1" cy="385.1" r="2.3"/><circle cx="383.5" cy="378.8" r="2.3"/><circle cx="384.2" cy="380.3" r="2.3"/><circle cx="384.4" cy="382.2" r="2.3"/><circle cx="385.7" cy="380.0" r="2.3"/><circle cx="386.3" cy="383.6" r="2.3"/><circle cx="388.5" cy="388.6" r="2.3"/><circle cx="391.2" cy="373.4" r="2.3"/><circle cx="391.7" cy="377.5" r="2.3"/><circle cx="391.9" cy="385.9" r="2.3"/><circle cx="392.8" cy="385.8" r="2.3"/><circle cx="395.1" cy="386.8" r="2.3"/><circle cx="396.3" cy="386.5" r="2.3"/><circle cx="401.8" cy="386.1" r="2.3"/><circle cx="403.5" cy="390.3" r="2.3"/><circle cx="404.4" cy="384.3" r="2.3"/><circle cx="405.2" cy="379.2" r="2.3"/><circle cx="407.1" cy="383.5" r="2.3"/><circle cx="409.0" cy="387.6" r="2.3"/><circle cx="410.2" cy="379.6" r="2.3"/><circle cx="413.9" cy="374.3" r="2.3"/><circle cx="417.7" cy="384.4" r="2.3"/><circle cx="422.9" cy="383.1" r="2.3"/><circle cx="424.8" cy="390.4" r="2.3"/><circle cx="428.3" cy="386.7" r="2.3"/><circle cx="435.3" cy="389.4" r="2.3"/><circle cx="441.0" cy="379.4" r="2.3"/>
</g></g>
<g clip-path="url(#cr)">
<path d="M61.1 384.2V387.0M60.0 384.2h2.2M60.0 387.0h2.2M61.1 377.8V386.0M60.0 377.8h2.2M60.0 386.0h2.2M61.7 381.6V386.3M60.6 381.6h2.2M60.6 386.3h2.2M63.8 380.3V383.0M62.7 380.3h2.2M62.7 383.0h2.2M63.9 376.8V382.3M62.8 376.8h2.2M62.8 382.3h2.2M64.0 381.2V383.3M62.9 381.2h2.2M62.9 383.3h2.2M64.0 372.7V380.3M62.9 372.7h2.2M62.9 380.3h2.2M64.1 382.3V386.0M63.0 382.3h2.2M63.0 386.0h2.2M65.8 373.7V383.8M64.7 373.7h2.2M64.7 383.8h2.2M65.9 380.4V386.5M64.8 380.4h2.2M64.8 386.5h2.2M66.3 374.5V395.0M65.2 374.5h2.2M65.2 395.0h2.2M68.0 379.4V382.0M66.9 379.4h2.2M66.9 382.0h2.2M68.1 383.3V388.5M67.0 383.3h2.2M67.0 388.5h2.2M68.1 381.2V385.8M67.0 381.2h2.2M67.0 385.8h2.2M68.6 388.3V394.0M67.5 388.3h2.2M67.5 394.0h2.2M68.6 377.8V383.6M67.5 377.8h2.2M67.5 383.6h2.2M68.7 378.3V383.8M67.6 378.3h2.2M67.6 383.8h2.2M68.8 379.1V381.3M67.7 379.1h2.2M67.7 381.3h2.2M70.4 374.0V378.5M69.3 374.0h2.2M69.3 378.5h2.2M70.8 381.3V387.2M69.7 381.3h2.2M69.7 387.2h2.2M70.9 375.8V385.0M69.8 375.8h2.2M69.8 385.0h2.2M71.1 378.5V385.9M70.0 378.5h2.2M70.0 385.9h2.2M72.9 385.5V389.8M71.8 385.5h2.2M71.8 389.8h2.2M73.4 382.6V386.9M72.3 382.6h2.2M72.3 386.9h2.2M73.5 378.0V388.0M72.4 378.0h2.2M72.4 388.0h2.2M75.5 385.0V394.4M74.4 385.0h2.2M74.4 394.4h2.2M75.5 383.9V387.6M74.4 383.9h2.2M74.4 387.6h2.2M75.7 373.4V379.7M74.6 373.4h2.2M74.6 379.7h2.2M77.5 377.4V383.1M76.4 377.4h2.2M76.4 383.1h2.2M77.5 378.9V383.0M76.4 378.9h2.2M76.4 383.0h2.2M77.6 378.1V384.8M76.5 378.1h2.2M76.5 384.8h2.2M77.7 389.5V391.9M76.6 389.5h2.2M76.6 391.9h2.2M77.9 374.5V390.0M76.8 374.5h2.2M76.8 390.0h2.2M78.0 379.3V383.0M76.9 379.3h2.2M76.9 383.0h2.2M78.0 375.9V380.3M76.9 375.9h2.2M76.9 380.3h2.2M78.1 375.3V377.0M77.0 375.3h2.2M77.0 377.0h2.2M78.2 379.4V388.4M77.1 379.4h2.2M77.1 388.4h2.2M79.8 371.5V379.7M78.7 371.5h2.2M78.7 379.7h2.2M80.1 382.2V386.6M79.0 382.2h2.2M79.0 386.6h2.2M80.2 376.0V383.3M79.1 376.0h2.2M79.1 383.3h2.2M80.2 378.8V385.4M79.1 378.8h2.2M79.1 385.4h2.2M80.4 375.0V382.2M79.3 375.0h2.2M79.3 382.2h2.2M84.5 383.9V391.6M83.4 383.9h2.2M83.4 391.6h2.2M84.7 378.3V389.5M83.6 378.3h2.2M83.6 389.5h2.2M85.0 381.1V385.3M83.9 381.1h2.2M83.9 385.3h2.2M85.0 383.6V392.1M83.9 383.6h2.2M83.9 392.1h2.2M85.2 382.4V386.8M84.1 382.4h2.2M84.1 386.8h2.2M87.4 364.5V375.6M86.3 364.5h2.2M86.3 375.6h2.2M94.3 383.4V387.6M93.2 383.4h2.2M93.2 387.6h2.2M96.9 383.6V387.8M95.8 383.6h2.2M95.8 387.8h2.2M98.6 375.8V380.6M97.5 375.8h2.2M97.5 380.6h2.2M99.1 376.2V385.7M98.0 376.2h2.2M98.0 385.7h2.2M99.1 376.4V388.0M98.0 376.4h2.2M98.0 388.0h2.2M99.2 376.9V382.1M98.1 376.9h2.2M98.1 382.1h2.2M99.4 378.7V397.2M98.3 378.7h2.2M98.3 397.2h2.2M101.0 375.0V380.4M99.9 375.0h2.2M99.9 380.4h2.2M101.0 370.8V395.2M99.9 370.8h2.2M99.9 395.2h2.2M101.0 378.7V384.1M99.9 378.7h2.2M99.9 384.1h2.2M101.1 382.2V383.7M100.0 382.2h2.2M100.0 383.7h2.2M101.5 383.1V389.6M100.4 383.1h2.2M100.4 389.6h2.2M105.7 379.8V389.1M104.6 379.8h2.2M104.6 389.1h2.2M105.7 371.7V387.7M104.6 371.7h2.2M104.6 387.7h2.2M105.8 387.7V403.0M104.7 387.7h2.2M104.7 403.0h2.2M106.2 383.5V386.3M105.1 383.5h2.2M105.1 386.3h2.2M110.9 381.7V386.0M109.8 381.7h2.2M109.8 386.0h2.2M112.8 377.6V387.7M111.7 377.6h2.2M111.7 387.7h2.2M113.1 382.3V387.8M112.0 382.3h2.2M112.0 387.8h2.2M113.1 384.1V385.7M112.0 384.1h2.2M112.0 385.7h2.2M113.4 388.0V394.6M112.3 388.0h2.2M112.3 394.6h2.2M117.4 383.5V389.7M116.3 383.5h2.2M116.3 389.7h2.2M117.4 382.0V390.0M116.3 382.0h2.2M116.3 390.0h2.2M117.5 380.0V385.0M116.4 380.0h2.2M116.4 385.0h2.2M117.6 384.1V390.6M116.5 384.1h2.2M116.5 390.6h2.2M117.7 383.5V387.9M116.6 383.5h2.2M116.6 387.9h2.2M118.0 378.0V382.8M116.9 378.0h2.2M116.9 382.8h2.2M118.0 375.7V383.3M116.9 375.7h2.2M116.9 383.3h2.2M126.9 377.5V385.6M125.8 377.5h2.2M125.8 385.6h2.2M127.0 383.5V387.0M125.9 383.5h2.2M125.9 387.0h2.2M127.0 383.6V394.3M125.9 383.6h2.2M125.9 394.3h2.2M127.1 382.7V386.0M126.0 382.7h2.2M126.0 386.0h2.2M127.3 376.3V378.7M126.2 376.3h2.2M126.2 378.7h2.2M127.5 381.5V396.3M126.4 381.5h2.2M126.4 396.3h2.2M129.1 379.4V382.9M128.0 379.4h2.2M128.0 382.9h2.2M129.4 384.7V389.4M128.3 384.7h2.2M128.3 389.4h2.2M129.5 384.8V393.7M128.4 384.8h2.2M128.4 393.7h2.2M131.7 386.0V393.1M130.6 386.0h2.2M130.6 393.1h2.2M131.9 382.5V394.1M130.8 382.5h2.2M130.8 394.1h2.2M132.0 377.3V384.1M130.9 377.3h2.2M130.9 384.1h2.2M136.6 376.9V379.1M135.5 376.9h2.2M135.5 379.1h2.2M136.7 378.7V386.6M135.6 378.7h2.2M135.6 386.6h2.2M139.0 384.1V389.8M137.9 384.1h2.2M137.9 389.8h2.2M139.1 381.2V391.7M138.0 381.2h2.2M138.0 391.7h2.2M140.9 384.7V391.1M139.8 384.7h2.2M139.8 391.1h2.2M140.9 380.5V385.5M139.8 380.5h2.2M139.8 385.5h2.2M141.2 374.1V383.0M140.1 374.1h2.2M140.1 383.0h2.2M141.6 377.3V386.9M140.5 377.3h2.2M140.5 386.9h2.2M141.6 384.8V396.5M140.5 384.8h2.2M140.5 396.5h2.2M141.6 379.8V385.7M140.5 379.8h2.2M140.5 385.7h2.2M145.6 379.6V390.4M144.5 379.6h2.2M144.5 390.4h2.2M148.3 387.1V391.8M147.2 387.1h2.2M147.2 391.8h2.2M148.3 379.1V382.6M147.2 379.1h2.2M147.2 382.6h2.2M148.5 373.9V385.6M147.4 373.9h2.2M147.4 385.6h2.2M148.6 375.3V380.8M147.5 375.3h2.2M147.5 380.8h2.2M150.5 377.1V394.4M149.4 377.1h2.2M149.4 394.4h2.2M150.8 377.9V385.0M149.7 377.9h2.2M149.7 385.0h2.2M155.1 378.6V381.3M154.0 378.6h2.2M154.0 381.3h2.2M155.3 387.4V395.4M154.2 387.4h2.2M154.2 395.4h2.2M155.3 393.6V403.2M154.2 393.6h2.2M154.2 403.2h2.2M158.0 377.1V385.5M156.9 377.1h2.2M156.9 385.5h2.2M159.9 376.9V383.6M158.8 376.9h2.2M158.8 383.6h2.2M159.9 383.7V388.0M158.8 383.7h2.2M158.8 388.0h2.2M160.1 382.3V385.4M159.0 382.3h2.2M159.0 385.4h2.2M160.2 375.2V378.1M159.1 375.2h2.2M159.1 378.1h2.2M160.2 387.4V393.8M159.1 387.4h2.2M159.1 393.8h2.2M160.3 382.2V384.9M159.2 382.2h2.2M159.2 384.9h2.2M162.0 379.4V381.6M160.9 379.4h2.2M160.9 381.6h2.2M162.0 377.6V387.1M160.9 377.6h2.2M160.9 387.1h2.2M162.3 373.5V381.9M161.2 373.5h2.2M161.2 381.9h2.2M162.4 376.3V380.1M161.3 376.3h2.2M161.3 380.1h2.2M162.7 379.3V386.1M161.6 379.3h2.2M161.6 386.1h2.2M164.9 375.9V386.8M163.8 375.9h2.2M163.8 386.8h2.2M167.0 375.7V380.6M165.9 375.7h2.2M165.9 380.6h2.2M171.5 382.7V387.0M170.4 382.7h2.2M170.4 387.0h2.2M171.5 377.5V388.0M170.4 377.5h2.2M170.4 388.0h2.2M171.6 378.3V381.9M170.5 378.3h2.2M170.5 381.9h2.2M171.7 370.0V379.0M170.6 370.0h2.2M170.6 379.0h2.2M173.9 375.6V388.0M172.8 375.6h2.2M172.8 388.0h2.2M176.3 378.8V380.9M175.2 378.8h2.2M175.2 380.9h2.2M176.5 382.2V390.4M175.4 382.2h2.2M175.4 390.4h2.2M176.5 377.2V381.8M175.4 377.2h2.2M175.4 381.8h2.2M181.2 376.8V379.7M180.1 376.8h2.2M180.1 379.7h2.2M181.2 387.1V390.9M180.1 387.1h2.2M180.1 390.9h2.2M181.3 384.7V389.7M180.2 384.7h2.2M180.2 389.7h2.2M181.4 380.2V385.9M180.3 380.2h2.2M180.3 385.9h2.2M181.5 383.2V384.7M180.4 383.2h2.2M180.4 384.7h2.2M183.3 381.9V389.4M182.2 381.9h2.2M182.2 389.4h2.2M183.3 375.7V398.4M182.2 375.7h2.2M182.2 398.4h2.2M192.5 379.6V384.1M191.4 379.6h2.2M191.4 384.1h2.2M193.3 379.1V382.6M192.2 379.1h2.2M192.2 382.6h2.2M194.9 389.8V391.8M193.8 389.8h2.2M193.8 391.8h2.2M195.0 377.2V381.4M193.9 377.2h2.2M193.9 381.4h2.2M195.2 384.1V386.2M194.1 384.1h2.2M194.1 386.2h2.2M195.3 384.5V390.2M194.2 384.5h2.2M194.2 390.2h2.2M197.3 379.5V382.1M196.2 379.5h2.2M196.2 382.1h2.2M197.4 384.3V387.2M196.3 384.3h2.2M196.3 387.2h2.2M197.8 377.8V380.4M196.7 377.8h2.2M196.7 380.4h2.2M197.8 382.1V384.4M196.7 382.1h2.2M196.7 384.4h2.2M199.7 384.7V387.3M198.6 384.7h2.2M198.6 387.3h2.2M199.7 379.2V384.5M198.6 379.2h2.2M198.6 384.5h2.2M200.1 381.3V382.9M199.0 381.3h2.2M199.0 382.9h2.2M201.9 381.5V387.0M200.8 381.5h2.2M200.8 387.0h2.2M202.2 379.6V382.0M201.1 379.6h2.2M201.1 382.0h2.2M202.2 386.6V389.0M201.1 386.6h2.2M201.1 389.0h2.2M202.3 382.9V386.9M201.2 382.9h2.2M201.2 386.9h2.2M204.7 375.6V389.1M203.6 375.6h2.2M203.6 389.1h2.2M205.0 384.5V387.6M203.9 384.5h2.2M203.9 387.6h2.2M207.3 377.9V383.0M206.2 377.9h2.2M206.2 383.0h2.2M211.3 377.0V391.3M210.2 377.0h2.2M210.2 391.3h2.2M212.0 386.6V390.5M210.9 386.6h2.2M210.9 390.5h2.2M212.0 382.8V386.7M210.9 382.8h2.2M210.9 386.7h2.2M214.0 384.2V387.5M212.9 384.2h2.2M212.9 387.5h2.2M218.5 379.2V383.0M217.4 379.2h2.2M217.4 383.0h2.2M218.6 379.6V385.2M217.5 379.6h2.2M217.5 385.2h2.2M218.8 380.6V382.5M217.7 380.6h2.2M217.7 382.5h2.2M220.8 386.2V389.2M219.7 386.2h2.2M219.7 389.2h2.2M220.9 383.2V386.3M219.8 383.2h2.2M219.8 386.3h2.2M220.9 373.1V382.2M219.8 373.1h2.2M219.8 382.2h2.2M221.3 385.7V390.4M220.2 385.7h2.2M220.2 390.4h2.2M223.4 376.7V385.8M222.3 376.7h2.2M222.3 385.8h2.2M225.5 379.6V383.3M224.4 379.6h2.2M224.4 383.3h2.2M225.8 379.8V382.5M224.7 379.8h2.2M224.7 382.5h2.2M226.0 378.7V388.9M224.9 378.7h2.2M224.9 388.9h2.2M226.1 380.5V387.3M225.0 380.5h2.2M225.0 387.3h2.2M227.8 384.4V386.6M226.7 384.4h2.2M226.7 386.6h2.2M230.1 379.4V388.2M229.0 379.4h2.2M229.0 388.2h2.2M230.2 384.1V389.5M229.1 384.1h2.2M229.1 389.5h2.2M230.6 386.6V392.3M229.5 386.6h2.2M229.5 392.3h2.2M232.5 380.1V383.2M231.4 380.1h2.2M231.4 383.2h2.2M232.6 382.2V387.1M231.5 382.2h2.2M231.5 387.1h2.2M232.8 384.8V390.4M231.7 384.8h2.2M231.7 390.4h2.2M234.9 381.4V384.8M233.8 381.4h2.2M233.8 384.8h2.2M237.7 383.0V386.0M236.6 383.0h2.2M236.6 386.0h2.2M239.9 387.6V390.7M238.8 387.6h2.2M238.8 390.7h2.2M240.1 381.1V390.1M239.0 381.1h2.2M239.0 390.1h2.2M249.1 380.0V385.5M248.0 380.0h2.2M248.0 385.5h2.2M249.1 379.6V384.1M248.0 379.6h2.2M248.0 384.1h2.2M249.4 380.6V383.3M248.3 380.6h2.2M248.3 383.3h2.2M249.6 380.5V383.1M248.5 380.5h2.2M248.5 383.1h2.2M251.6 381.0V388.6M250.5 381.0h2.2M250.5 388.6h2.2M251.7 376.7V382.2M250.6 376.7h2.2M250.6 382.2h2.2M251.7 381.7V388.5M250.6 381.7h2.2M250.6 388.5h2.2M251.9 382.8V390.4M250.8 382.8h2.2M250.8 390.4h2.2M254.0 378.1V386.1M252.9 378.1h2.2M252.9 386.1h2.2M254.3 380.3V383.5M253.2 380.3h2.2M253.2 383.5h2.2M256.0 379.8V389.5M254.9 379.8h2.2M254.9 389.5h2.2M256.0 381.1V383.1M254.9 381.1h2.2M254.9 383.1h2.2M256.1 380.4V383.3M255.0 380.4h2.2M255.0 383.3h2.2M256.3 381.8V383.5M255.2 381.8h2.2M255.2 383.5h2.2M256.4 381.1V383.6M255.3 381.1h2.2M255.3 383.6h2.2M256.6 379.6V381.4M255.5 379.6h2.2M255.5 381.4h2.2M260.6 382.4V385.6M259.5 382.4h2.2M259.5 385.6h2.2M261.2 379.4V383.2M260.1 379.4h2.2M260.1 383.2h2.2M261.3 380.4V382.9M260.2 380.4h2.2M260.2 382.9h2.2M263.0 378.3V383.9M261.9 378.3h2.2M261.9 383.9h2.2M263.5 380.1V387.5M262.4 380.1h2.2M262.4 387.5h2.2M265.3 379.0V381.1M264.2 379.0h2.2M264.2 381.1h2.2M265.7 381.5V383.0M264.6 381.5h2.2M264.6 383.0h2.2M265.9 386.2V388.0M264.8 386.2h2.2M264.8 388.0h2.2M265.9 377.8V381.7M264.8 377.8h2.2M264.8 381.7h2.2M274.8 385.7V388.3M273.7 385.7h2.2M273.7 388.3h2.2M277.5 381.3V385.9M276.4 381.3h2.2M276.4 385.9h2.2M277.7 381.1V387.4M276.6 381.1h2.2M276.6 387.4h2.2M279.8 380.8V384.1M278.7 380.8h2.2M278.7 384.1h2.2M281.9 386.0V391.3M280.8 386.0h2.2M280.8 391.3h2.2M282.4 377.6V380.7M281.3 377.6h2.2M281.3 380.7h2.2M282.5 382.7V385.9M281.4 382.7h2.2M281.4 385.9h2.2M286.5 381.9V384.4M285.4 381.9h2.2M285.4 384.4h2.2M286.7 382.0V385.4M285.6 382.0h2.2M285.6 385.4h2.2M286.9 383.6V385.2M285.8 383.6h2.2M285.8 385.2h2.2M287.0 384.0V388.7M285.9 384.0h2.2M285.9 388.7h2.2M289.0 379.7V385.1M287.9 379.7h2.2M287.9 385.1h2.2M300.6 382.7V384.4M299.5 382.7h2.2M299.5 384.4h2.2M302.5 382.7V385.0M301.4 382.7h2.2M301.4 385.0h2.2M302.6 382.2V386.3M301.5 382.2h2.2M301.5 386.3h2.2M302.7 383.3V385.3M301.6 383.3h2.2M301.6 385.3h2.2M304.8 381.2V383.5M303.7 381.2h2.2M303.7 383.5h2.2M304.9 383.2V385.3M303.8 383.2h2.2M303.8 385.3h2.2M305.1 380.4V382.3M304.0 380.4h2.2M304.0 382.3h2.2M300.6 381.0V387.5M299.5 381.0h2.2M299.5 387.5h2.2M300.7 381.5V383.9M299.6 381.5h2.2M299.6 383.9h2.2M301.3 379.3V381.2M300.2 379.3h2.2M300.2 381.2h2.2M303.0 383.0V384.8M301.9 383.0h2.2M301.9 384.8h2.2M303.1 379.8V382.4M302.0 379.8h2.2M302.0 382.4h2.2M303.5 379.5V384.6M302.4 379.5h2.2M302.4 384.6h2.2M303.6 382.2V384.5M302.5 382.2h2.2M302.5 384.5h2.2M303.6 383.3V385.5M302.5 383.3h2.2M302.5 385.5h2.2M307.8 379.3V380.8M306.7 379.3h2.2M306.7 380.8h2.2M307.9 384.0V387.0M306.8 384.0h2.2M306.8 387.0h2.2M308.1 380.3V383.7M307.0 380.3h2.2M307.0 383.7h2.2M308.3 382.3V384.3M307.2 382.3h2.2M307.2 384.3h2.2M308.3 381.5V383.5M307.2 381.5h2.2M307.2 383.5h2.2M310.3 379.4V382.5M309.2 379.4h2.2M309.2 382.5h2.2M310.4 384.1V385.5M309.3 384.1h2.2M309.3 385.5h2.2M310.5 380.7V383.8M309.4 380.7h2.2M309.4 383.8h2.2M310.6 382.5V384.7M309.5 382.5h2.2M309.5 384.7h2.2M310.7 380.3V382.8M309.6 380.3h2.2M309.6 382.8h2.2M312.3 383.1V389.1M311.2 383.1h2.2M311.2 389.1h2.2M312.3 384.1V385.8M311.2 384.1h2.2M311.2 385.8h2.2M313.0 376.3V383.1M311.9 376.3h2.2M311.9 383.1h2.2M313.0 381.5V384.5M311.9 381.5h2.2M311.9 384.5h2.2M317.4 382.9V385.5M316.3 382.9h2.2M316.3 385.5h2.2M317.6 380.0V381.9M316.5 380.0h2.2M316.5 381.9h2.2M317.7 382.6V386.7M316.6 382.6h2.2M316.6 386.7h2.2M324.0 382.6V385.6M322.9 382.6h2.2M322.9 385.6h2.2M324.1 379.6V381.1M323.0 379.6h2.2M323.0 381.1h2.2M324.1 382.8V386.5M323.0 382.8h2.2M323.0 386.5h2.2M324.2 382.7V385.0M323.1 382.7h2.2M323.1 385.0h2.2M324.3 379.8V382.4M323.2 379.8h2.2M323.2 382.4h2.2M324.4 377.9V380.6M323.3 377.9h2.2M323.3 380.6h2.2M324.6 380.5V382.9M323.5 380.5h2.2M323.5 382.9h2.2M324.6 383.6V387.3M323.5 383.6h2.2M323.5 387.3h2.2M328.9 374.8V379.4M327.8 374.8h2.2M327.8 379.4h2.2M328.9 380.5V383.6M327.8 380.5h2.2M327.8 383.6h2.2M329.3 382.8V387.2M328.2 382.8h2.2M328.2 387.2h2.2M329.4 382.0V386.3M328.3 382.0h2.2M328.3 386.3h2.2M329.4 381.1V384.3M328.3 381.1h2.2M328.3 384.3h2.2M329.4 380.8V384.6M328.3 380.8h2.2M328.3 384.6h2.2M329.5 382.5V385.7M328.4 382.5h2.2M328.4 385.7h2.2M331.6 381.6V386.3M330.5 381.6h2.2M330.5 386.3h2.2M331.6 382.7V385.4M330.5 382.7h2.2M330.5 385.4h2.2M331.6 386.0V388.9M330.5 386.0h2.2M330.5 388.9h2.2M333.8 382.4V387.6M332.7 382.4h2.2M332.7 387.6h2.2M333.8 383.8V391.5M332.7 383.8h2.2M332.7 391.5h2.2M333.9 383.8V385.9M332.8 383.8h2.2M332.8 385.9h2.2M333.9 379.5V383.4M332.8 379.5h2.2M332.8 383.4h2.2M334.1 385.0V389.3M333.0 385.0h2.2M333.0 389.3h2.2M336.1 386.3V388.1M335.0 386.3h2.2M335.0 388.1h2.2M336.4 379.4V383.6M335.3 379.4h2.2M335.3 383.6h2.2M338.1 383.1V384.9M337.0 383.1h2.2M337.0 384.9h2.2M338.2 379.8V384.7M337.1 379.8h2.2M337.1 384.7h2.2M338.3 381.8V385.5M337.2 381.8h2.2M337.2 385.5h2.2M338.8 381.6V385.2M337.7 381.6h2.2M337.7 385.2h2.2M338.8 382.6V386.5M337.7 382.6h2.2M337.7 386.5h2.2M338.8 376.7V379.1M337.7 376.7h2.2M337.7 379.1h2.2M340.6 378.4V384.2M339.5 378.4h2.2M339.5 384.2h2.2M340.9 377.4V383.5M339.8 377.4h2.2M339.8 383.5h2.2M342.9 379.9V386.1M341.8 379.9h2.2M341.8 386.1h2.2M343.0 380.8V386.0M341.9 380.8h2.2M341.9 386.0h2.2M343.1 378.6V385.1M342.0 378.6h2.2M342.0 385.1h2.2M343.4 380.0V385.1M342.3 380.0h2.2M342.3 385.1h2.2M343.4 376.6V380.9M342.3 376.6h2.2M342.3 380.9h2.2M347.7 378.7V386.5M346.6 378.7h2.2M346.6 386.5h2.2M347.8 380.1V384.3M346.7 380.1h2.2M346.7 384.3h2.2M347.8 380.2V383.6M346.7 380.2h2.2M346.7 383.6h2.2M347.9 376.7V380.8M346.8 376.7h2.2M346.8 380.8h2.2M348.1 377.6V382.2M347.0 377.6h2.2M347.0 382.2h2.2M348.1 376.2V381.9M347.0 376.2h2.2M347.0 381.9h2.2M348.2 378.7V381.5M347.1 378.7h2.2M347.1 381.5h2.2M349.8 377.8V380.5M348.7 377.8h2.2M348.7 380.5h2.2M349.8 383.7V386.3M348.7 383.7h2.2M348.7 386.3h2.2M350.1 380.6V383.6M349.0 380.6h2.2M349.0 383.6h2.2M350.2 379.0V382.9M349.1 379.0h2.2M349.1 382.9h2.2M350.3 383.7V391.0M349.2 383.7h2.2M349.2 391.0h2.2M350.4 380.2V384.4M349.3 380.2h2.2M349.3 384.4h2.2M350.5 380.6V387.4M349.4 380.6h2.2M349.4 387.4h2.2M352.6 376.5V384.2M351.5 376.5h2.2M351.5 384.2h2.2M354.6 385.6V390.9M353.5 385.6h2.2M353.5 390.9h2.2M354.9 358.4V375.8M353.8 358.4h2.2M353.8 375.8h2.2M357.1 383.5V388.2M356.0 383.5h2.2M356.0 388.2h2.2M357.3 378.6V380.9M356.2 378.6h2.2M356.2 380.9h2.2M361.9 386.3V391.1M360.8 386.3h2.2M360.8 391.1h2.2M362.1 384.3V391.5M361.0 384.3h2.2M361.0 391.5h2.2M364.0 382.9V385.3M362.9 382.9h2.2M362.9 385.3h2.2M364.0 379.7V384.5M362.9 379.7h2.2M362.9 384.5h2.2M364.0 376.1V381.6M362.9 376.1h2.2M362.9 381.6h2.2M364.1 378.3V379.9M363.0 378.3h2.2M363.0 379.9h2.2M364.2 385.0V386.7M363.1 385.0h2.2M363.1 386.7h2.2M368.6 380.9V383.7M367.5 380.9h2.2M367.5 383.7h2.2M368.7 376.5V392.5M367.6 376.5h2.2M367.6 392.5h2.2M368.8 385.8V404.7M367.7 385.8h2.2M367.7 404.7h2.2M368.9 382.8V389.9M367.8 382.8h2.2M367.8 389.9h2.2M369.1 375.6V389.6M368.0 375.6h2.2M368.0 389.6h2.2M369.2 381.4V385.5M368.1 381.4h2.2M368.1 385.5h2.2M369.2 382.4V388.0M368.1 382.4h2.2M368.1 388.0h2.2M369.2 377.6V387.4M368.1 377.6h2.2M368.1 387.4h2.2M371.0 375.8V379.1M369.9 375.8h2.2M369.9 379.1h2.2M371.1 381.5V384.2M370.0 381.5h2.2M370.0 384.2h2.2M371.2 375.3V382.0M370.1 375.3h2.2M370.1 382.0h2.2M371.3 374.7V388.3M370.2 374.7h2.2M370.2 388.3h2.2M371.3 373.5V385.6M370.2 373.5h2.2M370.2 385.6h2.2M371.3 375.0V382.2M370.2 375.0h2.2M370.2 382.2h2.2M371.4 376.6V384.7M370.3 376.6h2.2M370.3 384.7h2.2M371.5 382.9V388.2M370.4 382.9h2.2M370.4 388.2h2.2M371.7 381.1V385.1M370.6 381.1h2.2M370.6 385.1h2.2M373.4 380.3V382.4M372.3 380.3h2.2M372.3 382.4h2.2M373.8 376.9V387.9M372.7 376.9h2.2M372.7 387.9h2.2M378.2 384.3V389.8M377.1 384.3h2.2M377.1 389.8h2.2M378.4 382.2V387.2M377.3 382.2h2.2M377.3 387.2h2.2M380.6 382.0V387.8M379.5 382.0h2.2M379.5 387.8h2.2M381.1 377.2V393.9M380.0 377.2h2.2M380.0 393.9h2.2M382.7 379.5V388.1M381.6 379.5h2.2M381.6 388.1h2.2M382.8 373.6V381.4M381.7 373.6h2.2M381.7 381.4h2.2M385.3 379.4V382.5M384.2 379.4h2.2M384.2 382.5h2.2M385.3 377.0V385.8M384.2 377.0h2.2M384.2 385.8h2.2M385.5 366.0V372.5M384.4 366.0h2.2M384.4 372.5h2.2M385.6 386.6V389.0M384.5 386.6h2.2M384.5 389.0h2.2M385.8 385.3V390.3M384.7 385.3h2.2M384.7 390.3h2.2M385.8 380.6V385.1M384.7 380.6h2.2M384.7 385.1h2.2M385.8 377.0V390.5M384.7 377.0h2.2M384.7 390.5h2.2M387.5 390.1V400.9M386.4 390.1h2.2M386.4 400.9h2.2M387.7 372.3V380.6M386.6 372.3h2.2M386.6 380.6h2.2M387.7 381.5V383.8M386.6 381.5h2.2M386.6 383.8h2.2M387.7 381.3V383.2M386.6 381.3h2.2M386.6 383.2h2.2M388.0 377.9V381.0M386.9 377.9h2.2M386.9 381.0h2.2M388.1 379.3V384.4M387.0 379.3h2.2M387.0 384.4h2.2M392.5 384.9V387.6M391.4 384.9h2.2M391.4 387.6h2.2M392.5 384.0V387.6M391.4 384.0h2.2M391.4 387.6h2.2M392.7 378.2V384.9M391.6 378.2h2.2M391.6 384.9h2.2M392.7 383.0V385.0M391.6 383.0h2.2M391.6 385.0h2.2M392.9 377.9V379.8M391.8 377.9h2.2M391.8 379.8h2.2M399.7 378.2V380.0M398.6 378.2h2.2M398.6 380.0h2.2M401.7 375.2V384.8M400.6 375.2h2.2M400.6 384.8h2.2M401.8 382.2V388.9M400.7 382.2h2.2M400.7 388.9h2.2M401.9 384.9V390.6M400.8 384.9h2.2M400.8 390.6h2.2M403.8 380.2V386.6M402.7 380.2h2.2M402.7 386.6h2.2M404.0 384.8V387.8M402.9 384.8h2.2M402.9 387.8h2.2M404.2 377.0V384.4M403.1 377.0h2.2M403.1 384.4h2.2M404.4 372.8V383.4M403.3 372.8h2.2M403.3 383.4h2.2M404.4 379.1V382.5M403.3 379.1h2.2M403.3 382.5h2.2M404.6 390.5V395.3M403.5 390.5h2.2M403.5 395.3h2.2M406.5 368.4V375.7M405.4 368.4h2.2M405.4 375.7h2.2M406.6 383.2V390.8M405.5 383.2h2.2M405.5 390.8h2.2M406.9 388.8V395.5M405.8 388.8h2.2M405.8 395.5h2.2M408.8 374.6V377.6M407.7 374.6h2.2M407.7 377.6h2.2M409.0 379.8V384.8M407.9 379.8h2.2M407.9 384.8h2.2M409.1 382.0V389.9M408.0 382.0h2.2M408.0 389.9h2.2M409.1 382.9V390.2M408.0 382.9h2.2M408.0 390.2h2.2M409.3 384.6V387.7M408.2 384.6h2.2M408.2 387.7h2.2M410.9 371.0V391.3M409.8 371.0h2.2M409.8 391.3h2.2M411.0 370.0V380.6M409.9 370.0h2.2M409.9 380.6h2.2M411.2 378.6V381.0M410.1 378.6h2.2M410.1 381.0h2.2M413.7 377.8V387.8M412.6 377.8h2.2M412.6 387.8h2.2M415.7 370.2V380.3M414.6 370.2h2.2M414.6 380.3h2.2M416.2 386.3V392.7M415.1 386.3h2.2M415.1 392.7h2.2M416.2 378.2V381.6M415.1 378.2h2.2M415.1 381.6h2.2M416.3 375.5V378.7M415.2 375.5h2.2M415.2 378.7h2.2M416.3 375.9V384.5M415.2 375.9h2.2M415.2 384.5h2.2M416.3 382.7V385.0M415.2 382.7h2.2M415.2 385.0h2.2M418.0 378.1V381.4M416.9 378.1h2.2M416.9 381.4h2.2M418.2 377.9V382.9M417.1 377.9h2.2M417.1 382.9h2.2M420.6 383.9V387.7M419.5 383.9h2.2M419.5 387.7h2.2M420.7 379.0V384.8M419.6 379.0h2.2M419.6 384.8h2.2M420.7 387.6V392.9M419.6 387.6h2.2M419.6 392.9h2.2M420.9 384.0V387.1M419.8 384.0h2.2M419.8 387.1h2.2M420.9 386.7V390.2M419.8 386.7h2.2M419.8 390.2h2.2M423.0 370.3V408.5M421.9 370.3h2.2M421.9 408.5h2.2M423.3 381.7V384.3M422.2 381.7h2.2M422.2 384.3h2.2M423.3 376.2V384.6M422.2 376.2h2.2M422.2 384.6h2.2M425.2 381.3V383.8M424.1 381.3h2.2M424.1 383.8h2.2M425.3 372.1V376.8M424.2 372.1h2.2M424.2 376.8h2.2M425.5 375.2V380.3M424.4 375.2h2.2M424.4 380.3h2.2M427.4 387.5V400.6M426.3 387.5h2.2M426.3 400.6h2.2M427.5 376.6V384.9M426.4 376.6h2.2M426.4 384.9h2.2M427.5 376.1V388.2M426.4 376.1h2.2M426.4 388.2h2.2M427.9 376.5V380.7M426.8 376.5h2.2M426.8 380.7h2.2M428.0 377.3V382.4M426.9 377.3h2.2M426.9 382.4h2.2M432.0 378.6V384.4M430.9 378.6h2.2M430.9 384.4h2.2M432.4 381.1V384.1M431.3 381.1h2.2M431.3 384.1h2.2M432.6 372.5V379.9M431.5 372.5h2.2M431.5 379.9h2.2M432.7 383.1V392.6M431.6 383.1h2.2M431.6 392.6h2.2M432.7 374.8V378.8M431.6 374.8h2.2M431.6 378.8h2.2M432.8 387.8V390.7M431.7 387.8h2.2M431.7 390.7h2.2M434.5 380.1V381.9M433.4 380.1h2.2M433.4 381.9h2.2M434.7 379.7V385.0M433.6 379.7h2.2M433.6 385.0h2.2M435.0 379.6V389.6M433.9 379.6h2.2M433.9 389.6h2.2M439.8 378.2V382.0M438.7 378.2h2.2M438.7 382.0h2.2M439.8 381.3V385.2M438.7 381.3h2.2M438.7 385.2h2.2M441.5 385.3V391.4M440.4 385.3h2.2M440.4 391.4h2.2M441.6 379.2V385.6M440.5 379.2h2.2M440.5 385.6h2.2M441.7 382.4V386.7M440.6 382.4h2.2M440.6 386.7h2.2M443.7 378.4V384.6M442.6 378.4h2.2M442.6 384.6h2.2M443.8 379.7V384.1M442.7 379.7h2.2M442.7 384.1h2.2M443.9 376.1V382.8M442.8 376.1h2.2M442.8 382.8h2.2M443.9 380.9V384.3M442.8 380.9h2.2M442.8 384.3h2.2M444.1 375.7V386.4M443.0 375.7h2.2M443.0 386.4h2.2M444.2 378.1V389.6M443.1 378.1h2.2M443.1 389.6h2.2M444.3 381.7V390.5M443.2 381.7h2.2M443.2 390.5h2.2M444.4 373.0V383.4M443.3 373.0h2.2M443.3 383.4h2.2M446.2 385.0V390.3M445.1 385.0h2.2M445.1 390.3h2.2M446.2 374.8V376.6M445.1 374.8h2.2M445.1 376.6h2.2M446.5 362.5V378.3M445.4 362.5h2.2M445.4 378.3h2.2M446.6 380.6V384.0M445.5 380.6h2.2M445.5 384.0h2.2M446.7 379.7V382.9M445.6 379.7h2.2M445.6 382.9h2.2M448.6 382.7V387.1M447.5 382.7h2.2M447.5 387.1h2.2M448.6 379.8V385.3M447.5 379.8h2.2M447.5 385.3h2.2M448.8 383.2V389.3M447.7 383.2h2.2M447.7 389.3h2.2M449.0 381.6V387.6M447.9 381.6h2.2M447.9 387.6h2.2M450.8 374.2V386.4M449.7 374.2h2.2M449.7 386.4h2.2M451.0 372.2V387.6M449.9 372.2h2.2M449.9 387.6h2.2M451.1 377.7V381.9M450.0 377.7h2.2M450.0 381.9h2.2M451.2 384.0V388.7M450.1 384.0h2.2M450.1 388.7h2.2M451.2 383.9V387.8M450.1 383.9h2.2M450.1 387.8h2.2M451.2 385.3V386.7M450.1 385.3h2.2M450.1 386.7h2.2M451.3 379.0V382.4M450.2 379.0h2.2M450.2 382.4h2.2M451.3 377.0V383.3M450.2 377.0h2.2M450.2 383.3h2.2M451.6 378.1V384.4M450.5 378.1h2.2M450.5 384.4h2.2M453.1 378.6V389.2M452.0 378.6h2.2M452.0 389.2h2.2M453.2 383.2V392.5M452.1 383.2h2.2M452.1 392.5h2.2M453.3 386.3V394.3M452.2 386.3h2.2M452.2 394.3h2.2M453.5 380.1V382.8M452.4 380.1h2.2M452.4 382.8h2.2M453.6 387.5V397.8M452.5 387.5h2.2M452.5 397.8h2.2M453.6 375.0V382.8M452.5 375.0h2.2M452.5 382.8h2.2M453.7 379.1V390.1M452.6 379.1h2.2M452.6 390.1h2.2M453.8 379.9V384.6M452.7 379.9h2.2M452.7 384.6h2.2M455.9 380.6V388.6M454.8 380.6h2.2M454.8 388.6h2.2M456.2 376.9V385.7M455.1 376.9h2.2M455.1 385.7h2.2M456.2 392.8V407.3M455.1 392.8h2.2M455.1 407.3h2.2M457.9 380.6V389.5M456.8 380.6h2.2M456.8 389.5h2.2M457.9 374.4V383.3M456.8 374.4h2.2M456.8 383.3h2.2M458.2 377.1V390.2M457.1 377.1h2.2M457.1 390.2h2.2M458.3 381.9V385.9M457.2 381.9h2.2M457.2 385.9h2.2M458.3 378.6V383.0M457.2 378.6h2.2M457.2 383.0h2.2M458.4 379.4V390.1M457.3 379.4h2.2M457.3 390.1h2.2M458.4 380.7V393.1M457.3 380.7h2.2M457.3 393.1h2.2M460.3 392.5V400.6M459.2 392.5h2.2M459.2 400.6h2.2M460.4 375.9V378.6M459.3 375.9h2.2M459.3 378.6h2.2M460.7 380.6V385.3M459.6 380.6h2.2M459.6 385.3h2.2M460.7 387.1V389.9M459.6 387.1h2.2M459.6 389.9h2.2M460.9 377.0V380.6M459.8 377.0h2.2M459.8 380.6h2.2M462.8 381.8V390.6M461.7 381.8h2.2M461.7 390.6h2.2M463.1 383.1V387.5M462.0 383.1h2.2M462.0 387.5h2.2M463.1 378.6V385.8M462.0 378.6h2.2M462.0 385.8h2.2M465.4 385.6V388.4M464.3 385.6h2.2M464.3 388.4h2.2M467.5 379.0V385.5M466.4 379.0h2.2M466.4 385.5h2.2M467.6 374.6V383.0M466.5 374.6h2.2M466.5 383.0h2.2M467.8 380.7V389.8M466.7 380.7h2.2M466.7 389.8h2.2M468.0 377.2V381.1M466.9 377.2h2.2M466.9 381.1h2.2M469.9 379.8V387.6M468.8 379.8h2.2M468.8 387.6h2.2M469.9 375.9V396.7M468.8 375.9h2.2M468.8 396.7h2.2M469.9 374.5V377.2M468.8 374.5h2.2M468.8 377.2h2.2M470.0 375.7V382.1M468.9 375.7h2.2M468.9 382.1h2.2M470.0 376.8V386.8M468.9 376.8h2.2M468.9 386.8h2.2M470.1 380.4V385.1M469.0 380.4h2.2M469.0 385.1h2.2M470.2 383.4V390.4M469.1 383.4h2.2M469.1 390.4h2.2M470.3 366.6V379.6M469.2 366.6h2.2M469.2 379.6h2.2M472.1 370.7V388.3M471.0 370.7h2.2M471.0 388.3h2.2M472.2 377.4V384.4M471.1 377.4h2.2M471.1 384.4h2.2M476.6 389.1V394.3M475.5 389.1h2.2M475.5 394.3h2.2M476.7 376.9V384.5M475.6 376.9h2.2M475.6 384.5h2.2M476.7 363.6V396.6M475.6 363.6h2.2M475.6 396.6h2.2M477.1 380.0V387.0M476.0 380.0h2.2M476.0 387.0h2.2M477.3 377.0V384.3M476.2 377.0h2.2M476.2 384.3h2.2M479.5 381.1V387.4M478.4 381.1h2.2M478.4 387.4h2.2M481.4 378.7V387.0M480.3 378.7h2.2M480.3 387.0h2.2M481.4 385.0V389.5M480.3 385.0h2.2M480.3 389.5h2.2M481.4 376.1V381.5M480.3 376.1h2.2M480.3 381.5h2.2M481.6 383.2V386.8M480.5 383.2h2.2M480.5 386.8h2.2M495.4 379.6V396.4M494.3 379.6h2.2M494.3 396.4h2.2M496.0 371.3V387.6M494.9 371.3h2.2M494.9 387.6h2.2M496.0 376.1V382.5M494.9 376.1h2.2M494.9 382.5h2.2M496.1 373.2V380.8M495.0 373.2h2.2M495.0 380.8h2.2M497.7 385.5V390.4M496.6 385.5h2.2M496.6 390.4h2.2M497.8 379.9V387.5M496.7 379.9h2.2M496.7 387.5h2.2M497.9 382.8V386.6M496.8 382.8h2.2M496.8 386.6h2.2M498.2 380.5V388.7M497.1 380.5h2.2M497.1 388.7h2.2M498.4 384.0V388.2M497.3 384.0h2.2M497.3 388.2h2.2M500.4 384.0V389.6M499.3 384.0h2.2M499.3 389.6h2.2M500.6 371.7V378.6M499.5 371.7h2.2M499.5 378.6h2.2M500.6 378.6V388.4M499.5 378.6h2.2M499.5 388.4h2.2M500.8 378.2V384.6M499.7 378.2h2.2M499.7 384.6h2.2M505.2 381.6V384.5M504.1 381.6h2.2M504.1 384.5h2.2M505.6 376.7V382.2M504.5 376.7h2.2M504.5 382.2h2.2M507.4 381.5V383.8M506.3 381.5h2.2M506.3 383.8h2.2M507.5 380.6V387.8M506.4 380.6h2.2M506.4 387.8h2.2M507.5 381.2V392.2M506.4 381.2h2.2M506.4 392.2h2.2M507.6 383.0V388.8M506.5 383.0h2.2M506.5 388.8h2.2M507.7 381.5V384.8M506.6 381.5h2.2M506.6 384.8h2.2M507.7 371.1V385.4M506.6 371.1h2.2M506.6 385.4h2.2M509.5 376.3V388.5M508.4 376.3h2.2M508.4 388.5h2.2M509.5 371.3V379.2M508.4 371.3h2.2M508.4 379.2h2.2M509.6 373.2V394.6M508.5 373.2h2.2M508.5 394.6h2.2M510.0 384.0V389.2M508.9 384.0h2.2M508.9 389.2h2.2M510.0 382.4V386.3M508.9 382.4h2.2M508.9 386.3h2.2M512.3 391.0V394.2M511.2 391.0h2.2M511.2 394.2h2.2M512.5 375.9V386.0M511.4 375.9h2.2M511.4 386.0h2.2M514.2 384.2V390.3M513.1 384.2h2.2M513.1 390.3h2.2M514.4 385.2V390.4M513.3 385.2h2.2M513.3 390.4h2.2M514.5 380.6V383.5M513.4 380.6h2.2M513.4 383.5h2.2M514.8 370.7V382.8M513.7 370.7h2.2M513.7 382.8h2.2M514.8 387.2V391.5M513.7 387.2h2.2M513.7 391.5h2.2M516.7 379.7V390.6M515.6 379.7h2.2M515.6 390.6h2.2M517.1 377.6V386.1M516.0 377.6h2.2M516.0 386.1h2.2M517.2 388.0V393.9M516.1 388.0h2.2M516.1 393.9h2.2M518.9 373.7V378.7M517.8 373.7h2.2M517.8 378.7h2.2M519.0 383.8V389.7M517.9 383.8h2.2M517.9 389.7h2.2M519.0 375.9V385.2M517.9 375.9h2.2M517.9 385.2h2.2M519.5 368.7V375.4M518.4 368.7h2.2M518.4 375.4h2.2M521.3 382.1V390.1M520.2 382.1h2.2M520.2 390.1h2.2M521.6 380.7V388.7M520.5 380.7h2.2M520.5 388.7h2.2M521.6 387.1V388.9M520.5 387.1h2.2M520.5 388.9h2.2M521.8 381.1V391.9M520.7 381.1h2.2M520.7 391.9h2.2M521.9 382.8V391.6M520.8 382.8h2.2M520.8 391.6h2.2M63.5 362.5V393.3M62.4 362.5h2.2M62.4 393.3h2.2M91.4 383.0V403.6M90.3 383.0h2.2M90.3 403.6h2.2M98.7 360.2V383.0M97.6 360.2h2.2M97.6 383.0h2.2M113.0 368.0V386.5M111.9 368.0h2.2M111.9 386.5h2.2M138.1 332.0V420.7M137.0 332.0h2.2M137.0 420.7h2.2M135.4 364.8V410.0M134.3 364.8h2.2M134.3 410.0h2.2M141.6 368.2V400.0M140.5 368.2h2.2M140.5 400.0h2.2M181.0 339.7V423.0M179.9 339.7h2.2M179.9 423.0h2.2M199.0 383.0V407.0M197.9 383.0h2.2M197.9 407.0h2.2M204.5 366.0V383.0M203.4 366.0h2.2M203.4 383.0h2.2M312.2 354.5V383.0M311.1 354.5h2.2M311.1 383.0h2.2M316.8 344.3V377.3M315.7 344.3h2.2M315.7 377.3h2.2M314.5 360.0V384.0M313.4 360.0h2.2M313.4 384.0h2.2M398.0 377.3V411.6M396.9 377.3h2.2M396.9 411.6h2.2M460.4 343.0V417.6M459.3 343.0h2.2M459.3 417.6h2.2M464.9 325.0V423.0M463.8 325.0h2.2M463.8 423.0h2.2M484.6 358.0V393.3M483.5 358.0h2.2M483.5 393.3h2.2M449.2 369.0V410.0M448.1 369.0h2.2M448.1 410.0h2.2M423.0 366.0V395.0M421.9 366.0h2.2M421.9 395.0h2.2M520.5 320.0V440.0M519.4 320.0h2.2M519.4 440.0h2.2M516.3 365.4V421.3M515.2 365.4h2.2M515.2 421.3h2.2M524.0 345.0V425.0M522.9 345.0h2.2M522.9 425.0h2.2M77.6 308.0V335.4M76.5 308.0h2.2M76.5 335.4h2.2M293.0 380.6V383.0M291.9 380.6h2.2M291.9 383.0h2.2M293.1 382.1V384.4M292.0 382.1h2.2M292.0 384.4h2.2M293.7 382.0V384.3M292.6 382.0h2.2M292.6 384.3h2.2M295.7 387.6V389.9M294.6 387.6h2.2M294.6 389.9h2.2M296.2 384.1V386.4M295.1 384.1h2.2M295.1 386.4h2.2M190.0 376.7V379.1M188.9 376.7h2.2M188.9 379.1h2.2M190.2 378.8V381.2M189.1 378.8h2.2M189.1 381.2h2.2M190.3 380.3V382.7M189.2 380.3h2.2M189.2 382.7h2.2M190.5 378.6V380.9M189.4 378.6h2.2M189.4 380.9h2.2M190.6 382.0V384.3M189.5 382.0h2.2M189.5 384.3h2.2" stroke="#8000ff" stroke-width="1.1" fill="none" opacity="0.9"/>
<g fill="none" stroke="#8000ff" stroke-width="0.7" opacity="0.6">
<circle cx="61.1" cy="385.6" r="2.3"/><circle cx="61.1" cy="381.9" r="2.3"/><circle cx="61.7" cy="384.0" r="2.3"/><circle cx="63.8" cy="381.7" r="2.3"/><circle cx="63.9" cy="379.6" r="2.3"/><circle cx="64.0" cy="382.2" r="2.3"/><circle cx="64.0" cy="376.5" r="2.3"/><circle cx="64.1" cy="384.2" r="2.3"/><circle cx="65.8" cy="378.7" r="2.3"/><circle cx="65.9" cy="383.5" r="2.3"/><circle cx="66.3" cy="384.8" r="2.3"/><circle cx="68.0" cy="380.7" r="2.3"/><circle cx="68.1" cy="385.9" r="2.3"/><circle cx="68.1" cy="383.5" r="2.3"/><circle cx="68.6" cy="391.2" r="2.3"/><circle cx="68.6" cy="380.7" r="2.3"/><circle cx="68.7" cy="381.0" r="2.3"/><circle cx="68.8" cy="380.2" r="2.3"/><circle cx="70.4" cy="376.2" r="2.3"/><circle cx="70.8" cy="384.3" r="2.3"/><circle cx="70.9" cy="380.4" r="2.3"/><circle cx="71.1" cy="382.2" r="2.3"/><circle cx="72.9" cy="387.6" r="2.3"/><circle cx="73.4" cy="384.8" r="2.3"/><circle cx="73.5" cy="383.0" r="2.3"/><circle cx="75.5" cy="389.7" r="2.3"/><circle cx="75.5" cy="385.8" r="2.3"/><circle cx="75.7" cy="376.6" r="2.3"/><circle cx="77.5" cy="380.3" r="2.3"/><circle cx="77.5" cy="380.9" r="2.3"/><circle cx="77.6" cy="381.4" r="2.3"/><circle cx="77.7" cy="390.7" r="2.3"/><circle cx="77.9" cy="382.3" r="2.3"/><circle cx="78.0" cy="381.2" r="2.3"/><circle cx="78.0" cy="378.1" r="2.3"/><circle cx="78.1" cy="376.2" r="2.3"/><circle cx="78.2" cy="383.9" r="2.3"/><circle cx="79.8" cy="375.6" r="2.3"/><circle cx="80.1" cy="384.4" r="2.3"/><circle cx="80.2" cy="379.7" r="2.3"/><circle cx="80.2" cy="382.1" r="2.3"/><circle cx="80.4" cy="378.6" r="2.3"/><circle cx="84.5" cy="387.8" r="2.3"/><circle cx="84.7" cy="383.9" r="2.3"/><circle cx="85.0" cy="383.2" r="2.3"/><circle cx="85.0" cy="387.8" r="2.3"/><circle cx="85.2" cy="384.6" r="2.3"/><circle cx="87.4" cy="370.0" r="2.3"/><circle cx="94.3" cy="385.5" r="2.3"/><circle cx="96.9" cy="385.7" r="2.3"/><circle cx="98.6" cy="378.2" r="2.3"/><circle cx="99.1" cy="381.0" r="2.3"/><circle cx="99.1" cy="382.2" r="2.3"/><circle cx="99.2" cy="379.5" r="2.3"/><circle cx="99.4" cy="388.0" r="2.3"/><circle cx="101.0" cy="377.7" r="2.3"/><circle cx="101.0" cy="383.0" r="2.3"/><circle cx="101.0" cy="381.4" r="2.3"/><circle cx="101.1" cy="383.0" r="2.3"/><circle cx="101.5" cy="386.3" r="2.3"/><circle cx="105.7" cy="384.5" r="2.3"/><circle cx="105.7" cy="379.7" r="2.3"/><circle cx="105.8" cy="395.4" r="2.3"/><circle cx="106.2" cy="384.9" r="2.3"/><circle cx="110.9" cy="383.9" r="2.3"/><circle cx="112.7" cy="392.4" r="2.3"/><circle cx="112.8" cy="382.7" r="2.3"/><circle cx="113.1" cy="385.0" r="2.3"/><circle cx="113.1" cy="384.9" r="2.3"/><circle cx="113.4" cy="391.3" r="2.3"/><circle cx="117.4" cy="386.6" r="2.3"/><circle cx="117.4" cy="386.0" r="2.3"/><circle cx="117.5" cy="382.5" r="2.3"/><circle cx="117.6" cy="387.4" r="2.3"/><circle cx="117.7" cy="385.7" r="2.3"/><circle cx="118.0" cy="380.4" r="2.3"/><circle cx="118.0" cy="379.5" r="2.3"/><circle cx="126.9" cy="381.6" r="2.3"/><circle cx="127.0" cy="385.3" r="2.3"/><circle cx="127.0" cy="389.0" r="2.3"/><circle cx="127.1" cy="384.3" r="2.3"/><circle cx="127.3" cy="377.5" r="2.3"/><circle cx="127.5" cy="388.9" r="2.3"/><circle cx="129.1" cy="381.1" r="2.3"/><circle cx="129.4" cy="387.0" r="2.3"/><circle cx="129.5" cy="389.2" r="2.3"/><circle cx="131.7" cy="389.5" r="2.3"/><circle cx="131.9" cy="388.3" r="2.3"/><circle cx="132.0" cy="380.7" r="2.3"/><circle cx="136.6" cy="378.0" r="2.3"/><circle cx="136.7" cy="382.6" r="2.3"/><circle cx="139.0" cy="386.9" r="2.3"/><circle cx="139.1" cy="386.4" r="2.3"/><circle cx="140.9" cy="387.9" r="2.3"/><circle cx="140.9" cy="383.0" r="2.3"/><circle cx="141.2" cy="378.6" r="2.3"/><circle cx="141.6" cy="382.1" r="2.3"/><circle cx="141.6" cy="390.6" r="2.3"/><circle cx="141.6" cy="382.7" r="2.3"/><circle cx="145.6" cy="385.0" r="2.3"/><circle cx="148.3" cy="389.5" r="2.3"/><circle cx="148.3" cy="380.9" r="2.3"/><circle cx="148.5" cy="379.7" r="2.3"/><circle cx="148.6" cy="378.0" r="2.3"/><circle cx="150.5" cy="385.7" r="2.3"/><circle cx="150.8" cy="381.5" r="2.3"/><circle cx="155.1" cy="380.0" r="2.3"/><circle cx="155.3" cy="391.4" r="2.3"/><circle cx="155.3" cy="398.4" r="2.3"/><circle cx="158.0" cy="381.3" r="2.3"/><circle cx="159.9" cy="380.2" r="2.3"/><circle cx="159.9" cy="385.8" r="2.3"/><circle cx="160.1" cy="383.8" r="2.3"/><circle cx="160.2" cy="376.6" r="2.3"/><circle cx="160.2" cy="390.6" r="2.3"/><circle cx="160.3" cy="383.5" r="2.3"/><circle cx="162.0" cy="380.5" r="2.3"/><circle cx="162.0" cy="382.3" r="2.3"/><circle cx="162.3" cy="377.7" r="2.3"/><circle cx="162.4" cy="378.2" r="2.3"/><circle cx="162.7" cy="382.7" r="2.3"/><circle cx="164.9" cy="381.3" r="2.3"/><circle cx="167.0" cy="378.1" r="2.3"/><circle cx="171.5" cy="384.8" r="2.3"/><circle cx="171.5" cy="382.7" r="2.3"/><circle cx="171.6" cy="380.1" r="2.3"/><circle cx="171.7" cy="374.5" r="2.3"/><circle cx="173.9" cy="381.8" r="2.3"/><circle cx="176.3" cy="379.9" r="2.3"/><circle cx="176.5" cy="386.3" r="2.3"/><circle cx="176.5" cy="379.5" r="2.3"/><circle cx="181.2" cy="378.2" r="2.3"/><circle cx="181.2" cy="389.0" r="2.3"/><circle cx="181.3" cy="387.2" r="2.3"/><circle cx="181.4" cy="383.0" r="2.3"/><circle cx="181.5" cy="383.9" r="2.3"/><circle cx="183.3" cy="385.7" r="2.3"/><circle cx="183.3" cy="387.0" r="2.3"/><circle cx="192.5" cy="381.8" r="2.3"/><circle cx="193.3" cy="380.9" r="2.3"/><circle cx="194.9" cy="390.8" r="2.3"/><circle cx="195.0" cy="379.3" r="2.3"/><circle cx="195.2" cy="385.2" r="2.3"/><circle cx="195.3" cy="387.4" r="2.3"/><circle cx="197.3" cy="380.8" r="2.3"/><circle cx="197.4" cy="385.7" r="2.3"/><circle cx="197.8" cy="379.1" r="2.3"/><circle cx="197.8" cy="383.2" r="2.3"/><circle cx="199.7" cy="386.0" r="2.3"/><circle cx="199.7" cy="381.9" r="2.3"/><circle cx="200.1" cy="382.1" r="2.3"/><circle cx="201.9" cy="384.3" r="2.3"/><circle cx="202.2" cy="380.8" r="2.3"/><circle cx="202.2" cy="387.8" r="2.3"/><circle cx="202.3" cy="384.9" r="2.3"/><circle cx="202.6" cy="385.8" r="2.3"/><circle cx="204.7" cy="382.3" r="2.3"/><circle cx="205.0" cy="386.0" r="2.3"/><circle cx="207.3" cy="380.4" r="2.3"/><circle cx="211.3" cy="384.2" r="2.3"/><circle cx="212.0" cy="388.5" r="2.3"/><circle cx="212.0" cy="384.7" r="2.3"/><circle cx="214.0" cy="385.9" r="2.3"/><circle cx="218.5" cy="381.1" r="2.3"/><circle cx="218.6" cy="382.4" r="2.3"/><circle cx="218.8" cy="381.5" r="2.3"/><circle cx="220.8" cy="387.7" r="2.3"/><circle cx="220.9" cy="384.8" r="2.3"/><circle cx="220.9" cy="377.6" r="2.3"/><circle cx="221.3" cy="388.1" r="2.3"/><circle cx="223.4" cy="381.3" r="2.3"/><circle cx="225.5" cy="381.5" r="2.3"/><circle cx="225.8" cy="381.2" r="2.3"/><circle cx="226.0" cy="382.9" r="2.3"/><circle cx="226.0" cy="383.8" r="2.3"/><circle cx="226.1" cy="383.9" r="2.3"/><circle cx="227.8" cy="385.5" r="2.3"/><circle cx="230.1" cy="383.8" r="2.3"/><circle cx="230.2" cy="386.8" r="2.3"/><circle cx="230.6" cy="389.5" r="2.3"/><circle cx="232.5" cy="381.6" r="2.3"/><circle cx="232.6" cy="384.7" r="2.3"/><circle cx="232.8" cy="387.6" r="2.3"/><circle cx="233.0" cy="383.7" r="2.3"/><circle cx="234.9" cy="383.1" r="2.3"/><circle cx="237.7" cy="384.5" r="2.3"/><circle cx="239.9" cy="389.2" r="2.3"/><circle cx="240.1" cy="385.6" r="2.3"/><circle cx="249.1" cy="382.7" r="2.3"/><circle cx="249.1" cy="381.9" r="2.3"/><circle cx="249.4" cy="381.9" r="2.3"/><circle cx="249.5" cy="381.9" r="2.3"/><circle cx="249.6" cy="381.8" r="2.3"/><circle cx="251.6" cy="384.8" r="2.3"/><circle cx="251.7" cy="379.4" r="2.3"/><circle cx="251.7" cy="385.1" r="2.3"/><circle cx="251.9" cy="386.6" r="2.3"/><circle cx="254.0" cy="382.1" r="2.3"/><circle cx="254.3" cy="381.9" r="2.3"/><circle cx="256.0" cy="384.6" r="2.3"/><circle cx="256.0" cy="382.1" r="2.3"/><circle cx="256.1" cy="381.8" r="2.3"/><circle cx="256.3" cy="382.6" r="2.3"/><circle cx="256.4" cy="382.4" r="2.3"/><circle cx="256.6" cy="380.5" r="2.3"/><circle cx="260.6" cy="384.0" r="2.3"/><circle cx="261.2" cy="381.3" r="2.3"/><circle cx="261.3" cy="381.7" r="2.3"/><circle cx="263.0" cy="381.1" r="2.3"/><circle cx="263.5" cy="383.8" r="2.3"/><circle cx="265.3" cy="380.0" r="2.3"/><circle cx="265.7" cy="382.3" r="2.3"/><circle cx="265.9" cy="387.1" r="2.3"/><circle cx="265.9" cy="379.7" r="2.3"/><circle cx="274.8" cy="387.0" r="2.3"/><circle cx="277.5" cy="383.6" r="2.3"/><circle cx="277.7" cy="384.3" r="2.3"/><circle cx="279.8" cy="382.4" r="2.3"/><circle cx="281.7" cy="381.2" r="2.3"/><circle cx="281.9" cy="388.6" r="2.3"/><circle cx="282.4" cy="379.1" r="2.3"/><circle cx="282.5" cy="384.3" r="2.3"/><circle cx="286.5" cy="383.2" r="2.3"/><circle cx="286.7" cy="383.7" r="2.3"/><circle cx="286.9" cy="384.4" r="2.3"/><circle cx="287.0" cy="386.4" r="2.3"/><circle cx="289.0" cy="382.4" r="2.3"/><circle cx="300.5" cy="383.4" r="2.3"/><circle cx="300.6" cy="383.6" r="2.3"/><circle cx="302.5" cy="383.9" r="2.3"/><circle cx="302.6" cy="384.2" r="2.3"/><circle cx="302.7" cy="384.3" r="2.3"/><circle cx="302.8" cy="385.8" r="2.3"/><circle cx="304.8" cy="382.4" r="2.3"/><circle cx="304.9" cy="384.2" r="2.3"/><circle cx="305.1" cy="381.3" r="2.3"/><circle cx="300.6" cy="384.2" r="2.3"/><circle cx="300.7" cy="382.7" r="2.3"/><circle cx="301.3" cy="380.3" r="2.3"/><circle cx="302.9" cy="383.9" r="2.3"/><circle cx="303.0" cy="383.9" r="2.3"/><circle cx="303.1" cy="381.1" r="2.3"/><circle cx="303.1" cy="384.6" r="2.3"/><circle cx="303.5" cy="382.0" r="2.3"/><circle cx="303.6" cy="383.3" r="2.3"/><circle cx="303.6" cy="384.4" r="2.3"/><circle cx="307.8" cy="380.0" r="2.3"/><circle cx="307.9" cy="385.5" r="2.3"/><circle cx="308.1" cy="382.0" r="2.3"/><circle cx="308.3" cy="383.3" r="2.3"/><circle cx="308.3" cy="382.5" r="2.3"/><circle cx="310.3" cy="380.9" r="2.3"/><circle cx="310.4" cy="384.8" r="2.3"/><circle cx="310.5" cy="382.3" r="2.3"/><circle cx="310.6" cy="383.6" r="2.3"/><circle cx="310.7" cy="381.6" r="2.3"/><circle cx="312.3" cy="386.1" r="2.3"/><circle cx="312.3" cy="384.9" r="2.3"/><circle cx="313.0" cy="379.7" r="2.3"/><circle cx="313.0" cy="383.0" r="2.3"/><circle cx="317.2" cy="382.8" r="2.3"/><circle cx="317.3" cy="382.5" r="2.3"/><circle cx="317.4" cy="384.2" r="2.3"/><circle cx="317.6" cy="380.9" r="2.3"/><circle cx="317.7" cy="384.7" r="2.3"/><circle cx="324.0" cy="384.1" r="2.3"/><circle cx="324.1" cy="380.4" r="2.3"/><circle cx="324.1" cy="384.7" r="2.3"/><circle cx="324.2" cy="383.9" r="2.3"/><circle cx="324.3" cy="381.1" r="2.3"/><circle cx="324.4" cy="379.2" r="2.3"/><circle cx="324.6" cy="381.7" r="2.3"/><circle cx="324.6" cy="385.5" r="2.3"/><circle cx="328.9" cy="377.1" r="2.3"/><circle cx="328.9" cy="382.0" r="2.3"/><circle cx="329.3" cy="385.0" r="2.3"/><circle cx="329.4" cy="384.2" r="2.3"/><circle cx="329.4" cy="382.7" r="2.3"/><circle cx="329.4" cy="382.7" r="2.3"/><circle cx="329.5" cy="384.1" r="2.3"/><circle cx="331.6" cy="383.9" r="2.3"/><circle cx="331.6" cy="384.1" r="2.3"/><circle cx="331.6" cy="387.5" r="2.3"/><circle cx="333.8" cy="385.0" r="2.3"/><circle cx="333.8" cy="387.6" r="2.3"/><circle cx="333.9" cy="384.8" r="2.3"/><circle cx="333.9" cy="381.4" r="2.3"/><circle cx="334.0" cy="385.5" r="2.3"/><circle cx="334.1" cy="387.1" r="2.3"/><circle cx="336.1" cy="387.2" r="2.3"/><circle cx="336.4" cy="381.5" r="2.3"/><circle cx="338.1" cy="384.0" r="2.3"/><circle cx="338.2" cy="382.3" r="2.3"/><circle cx="338.3" cy="383.6" r="2.3"/><circle cx="338.8" cy="383.4" r="2.3"/><circle cx="338.8" cy="384.5" r="2.3"/><circle cx="338.8" cy="377.9" r="2.3"/><circle cx="340.6" cy="381.3" r="2.3"/><circle cx="340.9" cy="380.4" r="2.3"/><circle cx="342.9" cy="383.0" r="2.3"/><circle cx="343.0" cy="383.4" r="2.3"/><circle cx="343.1" cy="381.8" r="2.3"/><circle cx="343.4" cy="382.5" r="2.3"/><circle cx="343.4" cy="378.8" r="2.3"/><circle cx="347.7" cy="382.6" r="2.3"/><circle cx="347.8" cy="382.2" r="2.3"/><circle cx="347.8" cy="381.9" r="2.3"/><circle cx="347.9" cy="378.7" r="2.3"/><circle cx="348.1" cy="379.9" r="2.3"/><circle cx="348.1" cy="379.0" r="2.3"/><circle cx="348.2" cy="380.1" r="2.3"/><circle cx="349.8" cy="379.1" r="2.3"/><circle cx="349.8" cy="385.0" r="2.3"/><circle cx="350.1" cy="382.1" r="2.3"/><circle cx="350.2" cy="380.9" r="2.3"/><circle cx="350.3" cy="387.3" r="2.3"/><circle cx="350.4" cy="382.3" r="2.3"/><circle cx="350.5" cy="384.0" r="2.3"/><circle cx="352.6" cy="380.4" r="2.3"/><circle cx="354.6" cy="388.3" r="2.3"/><circle cx="354.9" cy="367.1" r="2.3"/><circle cx="357.1" cy="385.9" r="2.3"/><circle cx="357.3" cy="379.8" r="2.3"/><circle cx="361.9" cy="388.7" r="2.3"/><circle cx="362.1" cy="387.9" r="2.3"/><circle cx="364.0" cy="384.1" r="2.3"/><circle cx="364.0" cy="382.1" r="2.3"/><circle cx="364.0" cy="378.8" r="2.3"/><circle cx="364.1" cy="379.1" r="2.3"/><circle cx="364.2" cy="385.8" r="2.3"/><circle cx="368.6" cy="382.3" r="2.3"/><circle cx="368.7" cy="384.5" r="2.3"/><circle cx="368.8" cy="395.2" r="2.3"/><circle cx="368.9" cy="386.3" r="2.3"/><circle cx="369.1" cy="382.6" r="2.3"/><circle cx="369.2" cy="383.5" r="2.3"/><circle cx="369.2" cy="385.2" r="2.3"/><circle cx="369.2" cy="382.5" r="2.3"/><circle cx="371.0" cy="377.5" r="2.3"/><circle cx="371.1" cy="382.8" r="2.3"/><circle cx="371.2" cy="378.7" r="2.3"/><circle cx="371.3" cy="381.5" r="2.3"/><circle cx="371.3" cy="379.6" r="2.3"/><circle cx="371.3" cy="378.6" r="2.3"/><circle cx="371.4" cy="380.7" r="2.3"/><circle cx="371.5" cy="385.5" r="2.3"/><circle cx="371.7" cy="383.1" r="2.3"/><circle cx="373.4" cy="381.4" r="2.3"/><circle cx="373.8" cy="382.4" r="2.3"/><circle cx="378.2" cy="387.1" r="2.3"/><circle cx="378.4" cy="384.7" r="2.3"/><circle cx="380.6" cy="384.9" r="2.3"/><circle cx="381.1" cy="385.5" r="2.3"/><circle cx="382.7" cy="383.8" r="2.3"/><circle cx="382.8" cy="377.5" r="2.3"/><circle cx="385.3" cy="380.9" r="2.3"/><circle cx="385.3" cy="381.4" r="2.3"/><circle cx="385.5" cy="369.2" r="2.3"/><circle cx="385.6" cy="387.8" r="2.3"/><circle cx="385.8" cy="387.8" r="2.3"/><circle cx="385.8" cy="382.8" r="2.3"/><circle cx="385.8" cy="383.7" r="2.3"/><circle cx="387.5" cy="395.5" r="2.3"/><circle cx="387.7" cy="376.5" r="2.3"/><circle cx="387.7" cy="382.7" r="2.3"/><circle cx="387.7" cy="382.2" r="2.3"/><circle cx="388.0" cy="379.4" r="2.3"/><circle cx="388.1" cy="381.8" r="2.3"/><circle cx="392.5" cy="386.2" r="2.3"/><circle cx="392.5" cy="385.8" r="2.3"/><circle cx="392.7" cy="381.5" r="2.3"/><circle cx="392.7" cy="384.0" r="2.3"/><circle cx="392.9" cy="378.9" r="2.3"/><circle cx="399.7" cy="379.1" r="2.3"/><circle cx="401.7" cy="380.0" r="2.3"/><circle cx="401.8" cy="385.5" r="2.3"/><circle cx="401.9" cy="387.7" r="2.3"/><circle cx="403.8" cy="383.4" r="2.3"/><circle cx="404.0" cy="386.3" r="2.3"/><circle cx="404.2" cy="380.7" r="2.3"/><circle cx="404.4" cy="378.1" r="2.3"/><circle cx="404.4" cy="380.8" r="2.3"/><circle cx="404.6" cy="392.9" r="2.3"/><circle cx="406.5" cy="372.1" r="2.3"/><circle cx="406.6" cy="387.0" r="2.3"/><circle cx="406.9" cy="392.1" r="2.3"/><circle cx="408.8" cy="376.1" r="2.3"/><circle cx="409.0" cy="382.3" r="2.3"/><circle cx="409.1" cy="386.0" r="2.3"/><circle cx="409.1" cy="386.6" r="2.3"/><circle cx="409.3" cy="386.2" r="2.3"/><circle cx="410.9" cy="381.1" r="2.3"/><circle cx="411.0" cy="375.3" r="2.3"/><circle cx="411.2" cy="379.8" r="2.3"/><circle cx="413.7" cy="382.8" r="2.3"/><circle cx="415.7" cy="375.2" r="2.3"/><circle cx="416.2" cy="389.5" r="2.3"/><circle cx="416.2" cy="379.9" r="2.3"/><circle cx="416.3" cy="377.1" r="2.3"/><circle cx="416.3" cy="380.2" r="2.3"/><circle cx="416.3" cy="383.8" r="2.3"/><circle cx="418.0" cy="379.8" r="2.3"/><circle cx="418.2" cy="380.4" r="2.3"/><circle cx="420.6" cy="385.8" r="2.3"/><circle cx="420.7" cy="381.9" r="2.3"/><circle cx="420.7" cy="390.2" r="2.3"/><circle cx="420.9" cy="385.5" r="2.3"/><circle cx="420.9" cy="388.5" r="2.3"/><circle cx="423.0" cy="389.4" r="2.3"/><circle cx="423.3" cy="383.0" r="2.3"/><circle cx="423.3" cy="380.4" r="2.3"/><circle cx="425.2" cy="382.6" r="2.3"/><circle cx="425.3" cy="374.4" r="2.3"/><circle cx="425.5" cy="377.7" r="2.3"/><circle cx="427.4" cy="394.1" r="2.3"/><circle cx="427.5" cy="380.8" r="2.3"/><circle cx="427.5" cy="382.2" r="2.3"/><circle cx="427.9" cy="378.6" r="2.3"/><circle cx="428.0" cy="379.8" r="2.3"/><circle cx="432.0" cy="381.5" r="2.3"/><circle cx="432.4" cy="382.6" r="2.3"/><circle cx="432.6" cy="376.2" r="2.3"/><circle cx="432.7" cy="387.9" r="2.3"/><circle cx="432.7" cy="376.8" r="2.3"/><circle cx="432.8" cy="389.2" r="2.3"/><circle cx="434.5" cy="381.0" r="2.3"/><circle cx="434.7" cy="382.4" r="2.3"/><circle cx="435.0" cy="384.6" r="2.3"/><circle cx="439.8" cy="380.1" r="2.3"/><circle cx="439.8" cy="383.2" r="2.3"/><circle cx="441.5" cy="388.3" r="2.3"/><circle cx="441.6" cy="382.4" r="2.3"/><circle cx="441.7" cy="384.5" r="2.3"/><circle cx="443.7" cy="381.5" r="2.3"/><circle cx="443.8" cy="381.9" r="2.3"/><circle cx="443.9" cy="379.5" r="2.3"/><circle cx="443.9" cy="382.6" r="2.3"/><circle cx="444.1" cy="381.1" r="2.3"/><circle cx="444.2" cy="383.8" r="2.3"/><circle cx="444.3" cy="386.1" r="2.3"/><circle cx="444.4" cy="378.2" r="2.3"/><circle cx="446.2" cy="387.7" r="2.3"/><circle cx="446.2" cy="375.7" r="2.3"/><circle cx="446.5" cy="370.4" r="2.3"/><circle cx="446.6" cy="382.3" r="2.3"/><circle cx="446.7" cy="381.3" r="2.3"/><circle cx="448.6" cy="384.9" r="2.3"/><circle cx="448.6" cy="382.5" r="2.3"/><circle cx="448.8" cy="386.2" r="2.3"/><circle cx="449.0" cy="384.6" r="2.3"/><circle cx="450.8" cy="380.3" r="2.3"/><circle cx="451.0" cy="379.9" r="2.3"/><circle cx="451.1" cy="379.8" r="2.3"/><circle cx="451.2" cy="386.4" r="2.3"/><circle cx="451.2" cy="385.9" r="2.3"/><circle cx="451.2" cy="386.0" r="2.3"/><circle cx="451.3" cy="380.7" r="2.3"/><circle cx="451.3" cy="380.2" r="2.3"/><circle cx="451.6" cy="381.2" r="2.3"/><circle cx="453.1" cy="383.9" r="2.3"/><circle cx="453.2" cy="387.9" r="2.3"/><circle cx="453.3" cy="390.3" r="2.3"/><circle cx="453.5" cy="381.4" r="2.3"/><circle cx="453.6" cy="392.6" r="2.3"/><circle cx="453.6" cy="378.9" r="2.3"/><circle cx="453.7" cy="384.6" r="2.3"/><circle cx="453.8" cy="382.2" r="2.3"/><circle cx="455.9" cy="384.6" r="2.3"/><circle cx="456.2" cy="381.3" r="2.3"/><circle cx="456.2" cy="400.0" r="2.3"/><circle cx="457.9" cy="385.0" r="2.3"/><circle cx="457.9" cy="378.9" r="2.3"/><circle cx="458.2" cy="383.7" r="2.3"/><circle cx="458.3" cy="383.9" r="2.3"/><circle cx="458.3" cy="380.8" r="2.3"/><circle cx="458.4" cy="384.7" r="2.3"/><circle cx="458.4" cy="386.9" r="2.3"/><circle cx="460.3" cy="396.5" r="2.3"/><circle cx="460.4" cy="377.2" r="2.3"/><circle cx="460.7" cy="383.0" r="2.3"/><circle cx="460.7" cy="388.5" r="2.3"/><circle cx="460.9" cy="378.8" r="2.3"/><circle cx="462.8" cy="386.2" r="2.3"/><circle cx="463.1" cy="385.3" r="2.3"/><circle cx="463.1" cy="382.2" r="2.3"/><circle cx="465.4" cy="387.0" r="2.3"/><circle cx="467.5" cy="382.3" r="2.3"/><circle cx="467.6" cy="378.8" r="2.3"/><circle cx="467.8" cy="385.3" r="2.3"/><circle cx="468.0" cy="379.2" r="2.3"/><circle cx="469.9" cy="383.7" r="2.3"/><circle cx="469.9" cy="386.3" r="2.3"/><circle cx="469.9" cy="375.9" r="2.3"/><circle cx="470.0" cy="378.9" r="2.3"/><circle cx="470.0" cy="381.8" r="2.3"/><circle cx="470.1" cy="382.8" r="2.3"/><circle cx="470.2" cy="386.9" r="2.3"/><circle cx="470.3" cy="373.1" r="2.3"/><circle cx="472.1" cy="379.5" r="2.3"/><circle cx="472.2" cy="380.9" r="2.3"/><circle cx="476.6" cy="391.7" r="2.3"/><circle cx="476.7" cy="380.7" r="2.3"/><circle cx="476.7" cy="380.1" r="2.3"/><circle cx="477.1" cy="383.5" r="2.3"/><circle cx="477.3" cy="380.7" r="2.3"/><circle cx="479.5" cy="384.2" r="2.3"/><circle cx="481.4" cy="382.8" r="2.3"/><circle cx="481.4" cy="387.2" r="2.3"/><circle cx="481.4" cy="378.8" r="2.3"/><circle cx="481.6" cy="385.0" r="2.3"/><circle cx="495.4" cy="388.0" r="2.3"/><circle cx="496.0" cy="379.5" r="2.3"/><circle cx="496.0" cy="379.3" r="2.3"/><circle cx="496.1" cy="377.0" r="2.3"/><circle cx="497.7" cy="387.9" r="2.3"/><circle cx="497.8" cy="383.7" r="2.3"/><circle cx="497.9" cy="384.7" r="2.3"/><circle cx="498.2" cy="384.6" r="2.3"/><circle cx="498.4" cy="386.1" r="2.3"/><circle cx="500.4" cy="386.8" r="2.3"/><circle cx="500.6" cy="375.1" r="2.3"/><circle cx="500.6" cy="383.5" r="2.3"/><circle cx="500.8" cy="381.4" r="2.3"/><circle cx="505.2" cy="383.1" r="2.3"/><circle cx="505.6" cy="379.5" r="2.3"/><circle cx="507.4" cy="382.7" r="2.3"/><circle cx="507.5" cy="384.2" r="2.3"/><circle cx="507.5" cy="386.7" r="2.3"/><circle cx="507.6" cy="385.9" r="2.3"/><circle cx="507.7" cy="383.2" r="2.3"/><circle cx="507.7" cy="378.3" r="2.3"/><circle cx="509.5" cy="382.4" r="2.3"/><circle cx="509.5" cy="375.2" r="2.3"/><circle cx="509.6" cy="383.9" r="2.3"/><circle cx="510.0" cy="386.6" r="2.3"/><circle cx="510.0" cy="384.4" r="2.3"/><circle cx="512.3" cy="392.6" r="2.3"/><circle cx="512.5" cy="381.0" r="2.3"/><circle cx="514.2" cy="387.2" r="2.3"/><circle cx="514.4" cy="387.8" r="2.3"/><circle cx="514.5" cy="382.1" r="2.3"/><circle cx="514.8" cy="376.7" r="2.3"/><circle cx="514.8" cy="389.3" r="2.3"/><circle cx="516.7" cy="385.2" r="2.3"/><circle cx="517.1" cy="381.8" r="2.3"/><circle cx="517.2" cy="390.9" r="2.3"/><circle cx="518.9" cy="376.2" r="2.3"/><circle cx="519.0" cy="386.8" r="2.3"/><circle cx="519.0" cy="380.6" r="2.3"/><circle cx="519.5" cy="372.1" r="2.3"/><circle cx="521.3" cy="386.1" r="2.3"/><circle cx="521.6" cy="384.7" r="2.3"/><circle cx="521.6" cy="388.0" r="2.3"/><circle cx="521.8" cy="386.5" r="2.3"/><circle cx="521.9" cy="387.2" r="2.3"/><circle cx="63.5" cy="377.9" r="2.3"/><circle cx="91.4" cy="393.3" r="2.3"/><circle cx="98.7" cy="371.6" r="2.3"/><circle cx="113.0" cy="377.2" r="2.3"/><circle cx="138.1" cy="376.4" r="2.3"/><circle cx="135.4" cy="387.4" r="2.3"/><circle cx="141.6" cy="384.1" r="2.3"/><circle cx="181.0" cy="381.4" r="2.3"/><circle cx="199.0" cy="395.0" r="2.3"/><circle cx="204.5" cy="374.5" r="2.3"/><circle cx="312.2" cy="368.8" r="2.3"/><circle cx="316.8" cy="360.8" r="2.3"/><circle cx="314.5" cy="372.0" r="2.3"/><circle cx="398.0" cy="394.5" r="2.3"/><circle cx="460.4" cy="380.3" r="2.3"/><circle cx="464.9" cy="374.0" r="2.3"/><circle cx="484.6" cy="375.6" r="2.3"/><circle cx="449.2" cy="389.5" r="2.3"/><circle cx="423.0" cy="380.5" r="2.3"/><circle cx="520.5" cy="380.0" r="2.3"/><circle cx="516.3" cy="393.4" r="2.3"/><circle cx="524.0" cy="385.0" r="2.3"/><circle cx="77.6" cy="321.7" r="2.3"/><circle cx="293.0" cy="381.8" r="2.3"/><circle cx="293.1" cy="383.3" r="2.3"/><circle cx="293.7" cy="383.1" r="2.3"/><circle cx="295.7" cy="388.7" r="2.3"/><circle cx="296.2" cy="385.3" r="2.3"/><circle cx="190.0" cy="377.9" r="2.3"/><circle cx="190.2" cy="380.0" r="2.3"/><circle cx="190.3" cy="381.5" r="2.3"/><circle cx="190.5" cy="379.7" r="2.3"/><circle cx="190.6" cy="383.1" r="2.3"/>
</g></g>
<g clip-path="url(#cr)">
<path d="M70.6 379.1V385.7M69.5 379.1h2.2M69.5 385.7h2.2M71.0 374.7V381.2M69.9 374.7h2.2M69.9 381.2h2.2M92.6 378.5V384.8M91.5 378.5h2.2M91.5 384.8h2.2M114.3 380.9V387.4M113.2 380.9h2.2M113.2 387.4h2.2M116.9 386.9V392.2M115.8 386.9h2.2M115.8 392.2h2.2M127.1 387.6V392.1M126.0 387.6h2.2M126.0 392.1h2.2M139.0 382.0V387.7M137.9 382.0h2.2M137.9 387.7h2.2M139.4 379.2V384.2M138.3 379.2h2.2M138.3 384.2h2.2M145.3 380.5V384.8M144.2 380.5h2.2M144.2 384.8h2.2M153.1 380.7V386.4M152.0 380.7h2.2M152.0 386.4h2.2M157.2 378.2V383.3M156.1 378.2h2.2M156.1 383.3h2.2M166.4 381.2V386.7M165.3 381.2h2.2M165.3 386.7h2.2M197.5 383.3V387.3M196.4 383.3h2.2M196.4 387.3h2.2M201.1 373.1V378.5M200.0 373.1h2.2M200.0 378.5h2.2M203.1 383.2V388.1M202.0 383.2h2.2M202.0 388.1h2.2M203.6 382.5V386.5M202.5 382.5h2.2M202.5 386.5h2.2M206.9 375.1V380.6M205.8 375.1h2.2M205.8 380.6h2.2M215.0 369.9V374.9M213.9 369.9h2.2M213.9 374.9h2.2M227.9 373.5V377.8M226.8 373.5h2.2M226.8 377.8h2.2M239.1 368.0V373.4M238.0 368.0h2.2M238.0 373.4h2.2M245.2 374.3V378.1M244.1 374.3h2.2M244.1 378.1h2.2M245.3 378.6V383.0M244.2 378.6h2.2M244.2 383.0h2.2M247.5 373.3V377.9M246.4 373.3h2.2M246.4 377.9h2.2M261.3 378.1V381.8M260.2 378.1h2.2M260.2 381.8h2.2M278.3 382.6V387.3M277.2 382.6h2.2M277.2 387.3h2.2M282.6 387.2V390.9M281.5 387.2h2.2M281.5 390.9h2.2M285.2 370.2V374.1M284.1 370.2h2.2M284.1 374.1h2.2M290.9 375.7V379.6M289.8 375.7h2.2M289.8 379.6h2.2M312.6 375.4V380.5M311.5 375.4h2.2M311.5 380.5h2.2M316.6 389.7V394.2M315.5 389.7h2.2M315.5 394.2h2.2M320.8 388.0V393.0M319.7 388.0h2.2M319.7 393.0h2.2M323.3 375.8V380.3M322.2 375.8h2.2M322.2 380.3h2.2M325.8 369.7V375.3M324.7 369.7h2.2M324.7 375.3h2.2M350.2 380.7V384.8M349.1 380.7h2.2M349.1 384.8h2.2M366.2 385.2V389.9M365.1 385.2h2.2M365.1 389.9h2.2M372.6 381.4V386.6M371.5 381.4h2.2M371.5 386.6h2.2M384.9 379.8V384.3M383.8 379.8h2.2M383.8 384.3h2.2M386.5 378.3V384.3M385.4 378.3h2.2M385.4 384.3h2.2M389.6 384.2V389.9M388.5 384.2h2.2M388.5 389.9h2.2M394.7 382.1V386.4M393.6 382.1h2.2M393.6 386.4h2.2M413.2 384.1V389.5M412.1 384.1h2.2M412.1 389.5h2.2M414.4 377.2V382.5M413.3 377.2h2.2M413.3 382.5h2.2M418.7 378.6V383.5M417.6 378.6h2.2M417.6 383.5h2.2M418.9 378.2V383.6M417.8 378.2h2.2M417.8 383.6h2.2M448.6 382.8V387.8M447.5 382.8h2.2M447.5 387.8h2.2M451.7 380.5V386.7M450.6 380.5h2.2M450.6 386.7h2.2M465.4 384.0V390.6M464.3 384.0h2.2M464.3 390.6h2.2M471.9 375.0V379.6M470.8 375.0h2.2M470.8 379.6h2.2M479.4 377.8V384.5M478.3 377.8h2.2M478.3 384.5h2.2M484.5 378.4V384.5M483.4 378.4h2.2M483.4 384.5h2.2M488.7 384.4V389.2M487.6 384.4h2.2M487.6 389.2h2.2M491.1 381.9V387.2M490.0 381.9h2.2M490.0 387.2h2.2M491.7 382.9V387.4M490.6 382.9h2.2M490.6 387.4h2.2M498.5 377.7V382.3M497.4 377.7h2.2M497.4 382.3h2.2M499.1 378.1V385.0M498.0 378.1h2.2M498.0 385.0h2.2M500.8 377.8V384.4M499.7 377.8h2.2M499.7 384.4h2.2M509.8 378.3V383.7M508.7 378.3h2.2M508.7 383.7h2.2M518.7 379.1V385.8M517.6 379.1h2.2M517.6 385.8h2.2M292.5 386.6V388.1M291.4 386.6h2.2M291.4 388.1h2.2M185.1 399.9V402.2M184.0 399.9h2.2M184.0 402.2h2.2M187.3 401.7V404.0M186.2 401.7h2.2M186.2 404.0h2.2" stroke="#000000" stroke-width="0.7" fill="none" opacity="0.9"/>
<g fill="none" stroke="#000000" stroke-width="0.7" opacity="0.55">
<circle cx="70.6" cy="382.4" r="2.3"/><circle cx="71.0" cy="377.9" r="2.3"/><circle cx="92.6" cy="381.6" r="2.3"/><circle cx="114.3" cy="384.2" r="2.3"/><circle cx="116.9" cy="389.6" r="2.3"/><circle cx="127.1" cy="389.9" r="2.3"/><circle cx="139.0" cy="384.9" r="2.3"/><circle cx="139.4" cy="381.7" r="2.3"/><circle cx="145.3" cy="382.6" r="2.3"/><circle cx="153.1" cy="383.5" r="2.3"/><circle cx="157.2" cy="380.8" r="2.3"/><circle cx="166.4" cy="383.9" r="2.3"/><circle cx="197.5" cy="385.3" r="2.3"/><circle cx="201.1" cy="375.8" r="2.3"/><circle cx="203.1" cy="385.7" r="2.3"/><circle cx="203.6" cy="384.5" r="2.3"/><circle cx="206.9" cy="377.9" r="2.3"/><circle cx="215.0" cy="372.4" r="2.3"/><circle cx="227.9" cy="375.6" r="2.3"/><circle cx="239.1" cy="370.7" r="2.3"/><circle cx="245.2" cy="376.2" r="2.3"/><circle cx="245.3" cy="380.8" r="2.3"/><circle cx="247.5" cy="375.6" r="2.3"/><circle cx="261.3" cy="379.9" r="2.3"/><circle cx="278.3" cy="385.0" r="2.3"/><circle cx="282.6" cy="389.1" r="2.3"/><circle cx="285.2" cy="372.2" r="2.3"/><circle cx="290.9" cy="377.7" r="2.3"/><circle cx="312.6" cy="378.0" r="2.3"/><circle cx="316.6" cy="392.0" r="2.3"/><circle cx="320.8" cy="390.5" r="2.3"/><circle cx="323.3" cy="378.0" r="2.3"/><circle cx="325.8" cy="372.5" r="2.3"/><circle cx="350.2" cy="382.8" r="2.3"/><circle cx="366.2" cy="387.6" r="2.3"/><circle cx="372.6" cy="384.0" r="2.3"/><circle cx="384.9" cy="382.0" r="2.3"/><circle cx="386.5" cy="381.3" r="2.3"/><circle cx="389.6" cy="387.1" r="2.3"/><circle cx="394.7" cy="384.3" r="2.3"/><circle cx="413.2" cy="386.8" r="2.3"/><circle cx="414.4" cy="379.8" r="2.3"/><circle cx="418.7" cy="381.1" r="2.3"/><circle cx="418.9" cy="380.9" r="2.3"/><circle cx="448.6" cy="385.3" r="2.3"/><circle cx="451.7" cy="383.6" r="2.3"/><circle cx="465.4" cy="387.3" r="2.3"/><circle cx="471.9" cy="377.3" r="2.3"/><circle cx="479.4" cy="381.1" r="2.3"/><circle cx="484.5" cy="381.4" r="2.3"/><circle cx="488.7" cy="386.8" r="2.3"/><circle cx="491.1" cy="384.5" r="2.3"/><circle cx="491.7" cy="385.2" r="2.3"/><circle cx="498.5" cy="380.0" r="2.3"/><circle cx="499.1" cy="381.5" r="2.3"/><circle cx="500.8" cy="381.1" r="2.3"/><circle cx="509.8" cy="381.0" r="2.3"/><circle cx="518.7" cy="382.4" r="2.3"/><circle cx="292.5" cy="387.3" r="2.3"/><circle cx="185.1" cy="401.0" r="2.3"/><circle cx="187.3" cy="402.9" r="2.3"/>
</g></g>
<path d="M56.15 383.1H525.8" stroke="#000" stroke-width="1.0"/>
<rect x="56.15" y="15.6" width="469.6" height="282.8" fill="none" stroke="#222" stroke-width="0.8"/>
<rect x="56.15" y="336.3" width="469.6" height="93.7" fill="none" stroke="#222" stroke-width="0.8"/>
<rect x="357.3" y="20.0" width="164.4" height="70.5" fill="none" stroke="#222" stroke-width="0.7"/>
<rect x="357.3" y="122.0" width="164.4" height="70.2" fill="none" stroke="#222" stroke-width="0.7"/>
<path d="M150.1 298.4v-5.5M150.1 15.6v5.5M267.5 298.4v-5.5M267.5 15.6v5.5M384.9 298.4v-5.5M384.9 15.6v5.5M502.3 298.4v-5.5M502.3 15.6v5.5M56.15 42.1h5.5M56.15 86.3h5.5M56.15 130.5h5.5M56.15 174.7h5.5M56.15 218.9h5.5M56.15 263.0h5.5" stroke="#000" stroke-width="1.1" fill="none"/>
<path d="M525.8 42.1h-5.5M525.8 86.3h-5.5M525.8 130.5h-5.5M525.8 174.7h-5.5M525.8 218.9h-5.5M525.8 263.0h-5.5" stroke="#000" stroke-width="1.59" fill="none"/>
<path d="M79.6 298.4v-2.6M79.6 15.6v2.6M103.1 298.4v-2.6M103.1 15.6v2.6M126.6 298.4v-2.6M126.6 15.6v2.6M173.6 298.4v-2.6M173.6 15.6v2.6M197.0 298.4v-2.6M197.0 15.6v2.6M220.5 298.4v-2.6M220.5 15.6v2.6M244.0 298.4v-2.6M244.0 15.6v2.6M291.0 298.4v-2.6M291.0 15.6v2.6M314.5 298.4v-2.6M314.5 15.6v2.6M337.9 298.4v-2.6M337.9 15.6v2.6M361.4 298.4v-2.6M361.4 15.6v2.6M408.4 298.4v-2.6M408.4 15.6v2.6M431.9 298.4v-2.6M431.9 15.6v2.6M455.4 298.4v-2.6M455.4 15.6v2.6M478.8 298.4v-2.6M478.8 15.6v2.6M56.15 24.4h2.6M525.8 24.4h-2.6M56.15 33.3h2.6M525.8 33.3h-2.6M56.15 50.9h2.6M525.8 50.9h-2.6M56.15 59.8h2.6M525.8 59.8h-2.6M56.15 68.6h2.6M525.8 68.6h-2.6M56.15 77.5h2.6M525.8 77.5h-2.6M56.15 95.1h2.6M525.8 95.1h-2.6M56.15 104.0h2.6M525.8 104.0h-2.6M56.15 112.8h2.6M525.8 112.8h-2.6M56.15 121.6h2.6M525.8 121.6h-2.6M56.15 139.3h2.6M525.8 139.3h-2.6M56.15 148.2h2.6M525.8 148.2h-2.6M56.15 157.0h2.6M525.8 157.0h-2.6M56.15 165.8h2.6M525.8 165.8h-2.6M56.15 183.5h2.6M525.8 183.5h-2.6M56.15 192.3h2.6M525.8 192.3h-2.6M56.15 201.2h2.6M525.8 201.2h-2.6M56.15 210.0h2.6M525.8 210.0h-2.6M56.15 227.7h2.6M525.8 227.7h-2.6M56.15 236.5h2.6M525.8 236.5h-2.6M56.15 245.4h2.6M525.8 245.4h-2.6M56.15 254.2h2.6M525.8 254.2h-2.6M56.15 271.9h2.6M525.8 271.9h-2.6M56.15 280.7h2.6M525.8 280.7h-2.6M56.15 289.6h2.6M525.8 289.6h-2.6" stroke="#222" stroke-width="0.6" fill="none"/>
<path d="M150.1 430.0v-5.5M150.1 336.3v5.5M267.5 430.0v-5.5M267.5 336.3v5.5M384.9 430.0v-5.5M384.9 336.3v5.5M502.3 430.0v-5.5M502.3 336.3v5.5M56.15 344.1h5.5M56.15 363.6h5.5M56.15 383.1h5.5M56.15 402.7h5.5M56.15 422.2h5.5" stroke="#000" stroke-width="1.1" fill="none"/>
<path d="M525.8 344.1h-5.5M525.8 363.6h-5.5M525.8 383.1h-5.5M525.8 402.7h-5.5M525.8 422.2h-5.5" stroke="#000" stroke-width="1.59" fill="none"/>
<path d="M79.6 430.0v-2.6M79.6 336.3v2.6M103.1 430.0v-2.6M103.1 336.3v2.6M126.6 430.0v-2.6M126.6 336.3v2.6M173.6 430.0v-2.6M173.6 336.3v2.6M197.0 430.0v-2.6M197.0 336.3v2.6M220.5 430.0v-2.6M220.5 336.3v2.6M244.0 430.0v-2.6M244.0 336.3v2.6M291.0 430.0v-2.6M291.0 336.3v2.6M314.5 430.0v-2.6M314.5 336.3v2.6M337.9 430.0v-2.6M337.9 336.3v2.6M361.4 430.0v-2.6M361.4 336.3v2.6M408.4 430.0v-2.6M408.4 336.3v2.6M431.9 430.0v-2.6M431.9 336.3v2.6M455.4 430.0v-2.6M455.4 336.3v2.6M478.8 430.0v-2.6M478.8 336.3v2.6M56.15 340.2h2.6M525.8 340.2h-2.6M56.15 348.0h2.6M525.8 348.0h-2.6M56.15 351.9h2.6M525.8 351.9h-2.6M56.15 355.8h2.6M525.8 355.8h-2.6M56.15 359.7h2.6M525.8 359.7h-2.6M56.15 367.5h2.6M525.8 367.5h-2.6M56.15 371.4h2.6M525.8 371.4h-2.6M56.15 375.3h2.6M525.8 375.3h-2.6M56.15 379.2h2.6M525.8 379.2h-2.6M56.15 387.1h2.6M525.8 387.1h-2.6M56.15 391.0h2.6M525.8 391.0h-2.6M56.15 394.9h2.6M525.8 394.9h-2.6M56.15 398.8h2.6M525.8 398.8h-2.6M56.15 406.6h2.6M525.8 406.6h-2.6M56.15 410.5h2.6M525.8 410.5h-2.6M56.15 414.4h2.6M525.8 414.4h-2.6M56.15 418.3h2.6M525.8 418.3h-2.6M56.15 426.1h2.6M525.8 426.1h-2.6" stroke="#222" stroke-width="0.6" fill="none"/>
<path d="M384.7 90.5v-2.4M384.7 20.0v2.4M439.5 90.5v-2.4M439.5 20.0v2.4M494.3 90.5v-2.4M494.3 20.0v2.4M357.3 30.1h2.4M357.3 55.2h2.4M357.3 80.4h2.4" stroke="#000" stroke-width="0.6" fill="none"/>
<path d="M521.7 30.1h-2.4M521.7 55.2h-2.4M521.7 80.4h-2.4" stroke="#000" stroke-width="0.60" fill="none"/>
<path d="M362.8 90.5v-1.4M362.8 20.0v1.4M368.3 90.5v-1.4M368.3 20.0v1.4M373.7 90.5v-1.4M373.7 20.0v1.4M379.2 90.5v-1.4M379.2 20.0v1.4M390.2 90.5v-1.4M390.2 20.0v1.4M395.7 90.5v-1.4M395.7 20.0v1.4M401.1 90.5v-1.4M401.1 20.0v1.4M406.6 90.5v-1.4M406.6 20.0v1.4M412.1 90.5v-1.4M412.1 20.0v1.4M417.6 90.5v-1.4M417.6 20.0v1.4M423.1 90.5v-1.4M423.1 20.0v1.4M428.5 90.5v-1.4M428.5 20.0v1.4M434.0 90.5v-1.4M434.0 20.0v1.4M445.0 90.5v-1.4M445.0 20.0v1.4M450.5 90.5v-1.4M450.5 20.0v1.4M455.9 90.5v-1.4M455.9 20.0v1.4M461.4 90.5v-1.4M461.4 20.0v1.4M466.9 90.5v-1.4M466.9 20.0v1.4M472.4 90.5v-1.4M472.4 20.0v1.4M477.9 90.5v-1.4M477.9 20.0v1.4M483.3 90.5v-1.4M483.3 20.0v1.4M488.8 90.5v-1.4M488.8 20.0v1.4M499.8 90.5v-1.4M499.8 20.0v1.4M505.3 90.5v-1.4M505.3 20.0v1.4M510.7 90.5v-1.4M510.7 20.0v1.4M516.2 90.5v-1.4M516.2 20.0v1.4M357.3 25.0h1.4M521.7 25.0h-1.4M357.3 35.1h1.4M521.7 35.1h-1.4M357.3 40.1h1.4M521.7 40.1h-1.4M357.3 45.2h1.4M521.7 45.2h-1.4M357.3 50.2h1.4M521.7 50.2h-1.4M357.3 60.3h1.4M521.7 60.3h-1.4M357.3 65.3h1.4M521.7 65.3h-1.4M357.3 70.4h1.4M521.7 70.4h-1.4M357.3 75.4h1.4M521.7 75.4h-1.4M357.3 85.5h1.4M521.7 85.5h-1.4" stroke="#222" stroke-width="0.4" fill="none"/>
<path d="M384.7 192.2v-2.4M384.7 122.0v2.4M439.5 192.2v-2.4M439.5 122.0v2.4M494.3 192.2v-2.4M494.3 122.0v2.4M357.3 133.7h2.4M357.3 157.1h2.4M357.3 180.5h2.4" stroke="#000" stroke-width="0.6" fill="none"/>
<path d="M521.7 133.7h-2.4M521.7 157.1h-2.4M521.7 180.5h-2.4" stroke="#000" stroke-width="0.60" fill="none"/>
<path d="M362.8 192.2v-1.4M362.8 122.0v1.4M368.3 192.2v-1.4M368.3 122.0v1.4M373.7 192.2v-1.4M373.7 122.0v1.4M379.2 192.2v-1.4M379.2 122.0v1.4M390.2 192.2v-1.4M390.2 122.0v1.4M395.7 192.2v-1.4M395.7 122.0v1.4M401.1 192.2v-1.4M401.1 122.0v1.4M406.6 192.2v-1.4M406.6 122.0v1.4M412.1 192.2v-1.4M412.1 122.0v1.4M417.6 192.2v-1.4M417.6 122.0v1.4M423.1 192.2v-1.4M423.1 122.0v1.4M428.5 192.2v-1.4M428.5 122.0v1.4M434.0 192.2v-1.4M434.0 122.0v1.4M445.0 192.2v-1.4M445.0 122.0v1.4M450.5 192.2v-1.4M450.5 122.0v1.4M455.9 192.2v-1.4M455.9 122.0v1.4M461.4 192.2v-1.4M461.4 122.0v1.4M466.9 192.2v-1.4M466.9 122.0v1.4M472.4 192.2v-1.4M472.4 122.0v1.4M477.9 192.2v-1.4M477.9 122.0v1.4M483.3 192.2v-1.4M483.3 122.0v1.4M488.8 192.2v-1.4M488.8 122.0v1.4M499.8 192.2v-1.4M499.8 122.0v1.4M505.3 192.2v-1.4M505.3 122.0v1.4M510.7 192.2v-1.4M510.7 122.0v1.4M516.2 192.2v-1.4M516.2 122.0v1.4M357.3 124.3h1.4M521.7 124.3h-1.4M357.3 126.7h1.4M521.7 126.7h-1.4M357.3 129.0h1.4M521.7 129.0h-1.4M357.3 131.4h1.4M521.7 131.4h-1.4M357.3 136.0h1.4M521.7 136.0h-1.4M357.3 138.4h1.4M521.7 138.4h-1.4M357.3 140.7h1.4M521.7 140.7h-1.4M357.3 143.1h1.4M521.7 143.1h-1.4M357.3 145.4h1.4M521.7 145.4h-1.4M357.3 147.7h1.4M521.7 147.7h-1.4M357.3 150.1h1.4M521.7 150.1h-1.4M357.3 152.4h1.4M521.7 152.4h-1.4M357.3 154.8h1.4M521.7 154.8h-1.4M357.3 159.4h1.4M521.7 159.4h-1.4M357.3 161.8h1.4M521.7 161.8h-1.4M357.3 164.1h1.4M521.7 164.1h-1.4M357.3 166.5h1.4M521.7 166.5h-1.4M357.3 168.8h1.4M521.7 168.8h-1.4M357.3 171.1h1.4M521.7 171.1h-1.4M357.3 173.5h1.4M521.7 173.5h-1.4M357.3 175.8h1.4M521.7 175.8h-1.4M357.3 178.2h1.4M521.7 178.2h-1.4M357.3 182.8h1.4M521.7 182.8h-1.4M357.3 185.2h1.4M521.7 185.2h-1.4M357.3 187.5h1.4M521.7 187.5h-1.4M357.3 189.9h1.4M521.7 189.9h-1.4" stroke="#222" stroke-width="0.4" fill="none"/>
<text x="128.22" y="310.90" font-size="13.8" textLength="44.27" lengthAdjust="spacingAndGlyphs">7100.0</text>
<text x="128.22" y="442.60" font-size="13.8" textLength="44.27" lengthAdjust="spacingAndGlyphs">7100.0</text>
<text x="245.63" y="310.90" font-size="13.8" textLength="44.27" lengthAdjust="spacingAndGlyphs">7150.0</text>
<text x="245.63" y="442.60" font-size="13.8" textLength="44.27" lengthAdjust="spacingAndGlyphs">7150.0</text>
<text x="363.04" y="310.90" font-size="13.8" textLength="44.27" lengthAdjust="spacingAndGlyphs">7200.0</text>
<text x="363.04" y="442.60" font-size="13.8" textLength="44.27" lengthAdjust="spacingAndGlyphs">7200.0</text>
<text x="480.46" y="310.90" font-size="13.8" textLength="44.27" lengthAdjust="spacingAndGlyphs">7250.0</text>
<text x="480.46" y="442.60" font-size="13.8" textLength="44.27" lengthAdjust="spacingAndGlyphs">7250.0</text>
<text x="28.01" y="46.21" font-size="13.8" textLength="27.60" lengthAdjust="spacingAndGlyphs">11.5</text>
<text x="28.01" y="90.40" font-size="13.8" textLength="27.59" lengthAdjust="spacingAndGlyphs">12.0</text>
<text x="28.01" y="134.59" font-size="13.8" textLength="27.60" lengthAdjust="spacingAndGlyphs">12.5</text>
<text x="28.01" y="178.77" font-size="13.8" textLength="27.59" lengthAdjust="spacingAndGlyphs">13.0</text>
<text x="28.01" y="222.96" font-size="13.8" textLength="27.60" lengthAdjust="spacingAndGlyphs">13.5</text>
<text x="28.01" y="267.15" font-size="13.8" textLength="27.59" lengthAdjust="spacingAndGlyphs">14.0</text>
<text x="18.42" y="348.41" font-size="13.8" textLength="36.17" lengthAdjust="spacingAndGlyphs">−0.10</text>
<text x="18.42" y="367.93" font-size="13.8" textLength="36.19" lengthAdjust="spacingAndGlyphs">−0.05</text>
<text x="27.61" y="387.45" font-size="13.8" textLength="26.97" lengthAdjust="spacingAndGlyphs">0.00</text>
<text x="27.61" y="406.97" font-size="13.8" textLength="26.99" lengthAdjust="spacingAndGlyphs">0.05</text>
<text x="27.61" y="426.49" font-size="13.8" textLength="26.97" lengthAdjust="spacingAndGlyphs">0.10</text>
<text x="365.74" y="101.70" font-size="12.1" textLength="38.14" lengthAdjust="spacingAndGlyphs">7115.0</text>
<text x="420.54" y="101.70" font-size="12.1" textLength="38.14" lengthAdjust="spacingAndGlyphs">7116.0</text>
<text x="475.34" y="101.70" font-size="12.1" textLength="38.14" lengthAdjust="spacingAndGlyphs">7117.0</text>
<text x="365.74" y="203.50" font-size="12.1" textLength="38.14" lengthAdjust="spacingAndGlyphs">7161.0</text>
<text x="420.54" y="203.50" font-size="12.1" textLength="38.14" lengthAdjust="spacingAndGlyphs">7162.0</text>
<text x="475.34" y="203.50" font-size="12.1" textLength="38.14" lengthAdjust="spacingAndGlyphs">7163.0</text>
<text x="332.49" y="33.77" font-size="12.1" textLength="24.15" lengthAdjust="spacingAndGlyphs">12.5</text>
<text x="332.49" y="58.95" font-size="12.1" textLength="24.14" lengthAdjust="spacingAndGlyphs">13.0</text>
<text x="332.49" y="84.13" font-size="12.1" textLength="24.15" lengthAdjust="spacingAndGlyphs">13.5</text>
<text x="332.49" y="137.40" font-size="12.1" textLength="24.15" lengthAdjust="spacingAndGlyphs">11.3</text>
<text x="332.49" y="160.80" font-size="12.1" textLength="24.15" lengthAdjust="spacingAndGlyphs">11.5</text>
<text x="332.49" y="184.20" font-size="12.1" textLength="24.00" lengthAdjust="spacingAndGlyphs">11.7</text>
<text x="206.75" y="12.30" font-size="18.6" textLength="169.99" lengthAdjust="spacingAndGlyphs">MOA-2015-BLG-020</text>
<text x="219.50" y="327.90" font-size="16.0" textLength="144.17" lengthAdjust="spacingAndGlyphs">HJD'=HJD-2450000</text>
<text x="219.50" y="459.60" font-size="16.0" textLength="144.17" lengthAdjust="spacingAndGlyphs">HJD'=HJD-2450000</text>
<text x="68.35" y="359.90" font-size="16.6" textLength="145.36" lengthAdjust="spacingAndGlyphs">Parallax+Full orbit</text>
<text transform="translate(22.00 182.95) rotate(-90)" font-size="16.0" textLength="53.34" lengthAdjust="spacingAndGlyphs">I (mag)</text>
<text transform="translate(11.40 416.92) rotate(-90)" font-size="15.2" textLength="70.17" lengthAdjust="spacingAndGlyphs">Residuals</text>
<rect x="63.5" y="23.3" width="108.1" height="114.1" fill="#fff" stroke="#222" stroke-width="0.8"/>
<path d="M84.4 27.7V42.9M83.4 27.7h2M83.4 42.9h2" stroke="#000000" stroke-width="0.9" opacity="0.9"/>
<circle cx="84.4" cy="35.3" r="2.5" fill="none" stroke="#000000" stroke-width="0.7" opacity="0.6"/>
<text x="111.50" y="40.50" font-size="16.7" textLength="45.66" lengthAdjust="spacingAndGlyphs">OGLE</text>
<path d="M84.4 49.8V65.0M83.4 49.8h2M83.4 65.0h2" stroke="#8000ff" stroke-width="1.3" opacity="0.9"/>
<circle cx="84.4" cy="57.4" r="2.5" fill="none" stroke="#8000ff" stroke-width="0.7" opacity="0.6"/>
<text x="112.44" y="62.60" font-size="16.7" textLength="37.58" lengthAdjust="spacingAndGlyphs">MOA</text>
<path d="M84.4 71.8V87.0M83.4 71.8h2M83.4 87.0h2" stroke="#2adddd" stroke-width="1.3" opacity="0.9"/>
<circle cx="84.4" cy="79.4" r="2.5" fill="none" stroke="#2adddd" stroke-width="0.7" opacity="0.6"/>
<text x="112.42" y="84.60" font-size="16.7" textLength="33.26" lengthAdjust="spacingAndGlyphs">LCO</text>
<path d="M84.4 93.6V108.8M83.4 93.6h2M83.4 108.8h2" stroke="#d4dd80" stroke-width="1.3" opacity="0.9"/>
<circle cx="84.4" cy="101.2" r="2.5" fill="none" stroke="#d4dd80" stroke-width="0.7" opacity="0.6"/>
<text x="112.43" y="106.40" font-size="16.7" textLength="36.24" lengthAdjust="spacingAndGlyphs">KMT</text>
<path d="M84.4 115.5V130.7M83.4 115.5h2M83.4 130.7h2" stroke="#ff0000" stroke-width="1.3" opacity="0.9"/>
<circle cx="84.4" cy="123.1" r="2.5" fill="none" stroke="#ff0000" stroke-width="0.7" opacity="0.6"/>
<text x="111.60" y="128.30" font-size="16.7" textLength="55.07" lengthAdjust="spacingAndGlyphs">Spitzer</text>
</svg></body></html>
